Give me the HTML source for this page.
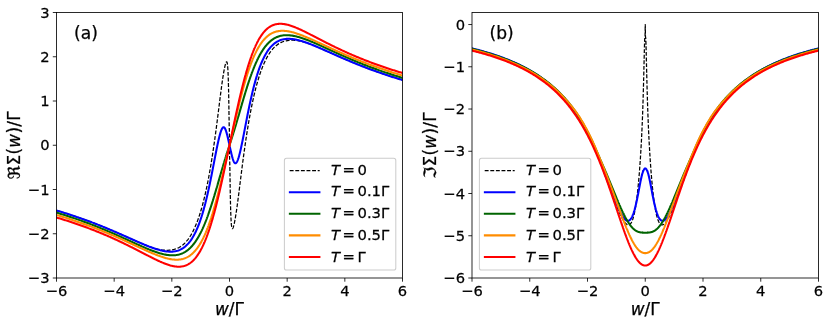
<!DOCTYPE html>
<html><head><meta charset="utf-8"><title>Self-energy</title>
<style>
html,body{margin:0;padding:0;background:#fff;}
body{width:830px;height:327px;overflow:hidden;}
svg{display:block;}
text{font-family:"DejaVu Sans","Liberation Sans",sans-serif;fill:#000;stroke:#000;stroke-width:0.25px;}
.tk{font-size:14.7px;}
.lg{font-size:14.8px;}
.lb{font-size:16.9px;}
.pn{font-size:17.1px;}
.it{font-style:italic;}
</style></head><body>
<svg width="830" height="327" viewBox="0 0 830 327">
<rect width="830" height="327" fill="#fff"/>

<clipPath id="c0"><rect x="56.5" y="12.5" width="346.0" height="265.5"/></clipPath>
<g clip-path="url(#c0)" fill="none" stroke-linejoin="round">
<path d="M56.50,210.51 L57.22,210.72 L57.94,210.93 L58.66,211.15 L59.38,211.36 L60.10,211.58 L60.83,211.80 L61.55,212.02 L62.27,212.24 L62.99,212.46 L63.71,212.68 L64.43,212.91 L65.15,213.13 L65.87,213.36 L66.59,213.59 L67.31,213.82 L68.03,214.05 L68.75,214.28 L69.48,214.51 L70.20,214.74 L70.92,214.98 L71.64,215.22 L72.36,215.45 L73.08,215.69 L73.80,215.93 L74.52,216.17 L75.24,216.42 L75.96,216.66 L76.68,216.91 L77.40,217.15 L78.12,217.40 L78.85,217.65 L79.57,217.90 L80.29,218.15 L81.01,218.41 L81.73,218.66 L82.45,218.92 L83.17,219.17 L83.89,219.43 L84.61,219.69 L85.33,219.95 L86.05,220.22 L86.77,220.48 L87.50,220.74 L88.22,221.01 L88.94,221.28 L89.66,221.55 L90.38,221.82 L91.10,222.09 L91.82,222.36 L92.54,222.63 L93.26,222.91 L93.98,223.19 L94.70,223.46 L95.42,223.74 L96.15,224.02 L96.87,224.31 L97.59,224.59 L98.31,224.87 L99.03,225.16 L99.75,225.45 L100.47,225.73 L101.19,226.02 L101.91,226.31 L102.63,226.60 L103.35,226.90 L104.08,227.19 L104.80,227.49 L105.52,227.78 L106.24,228.08 L106.96,228.38 L107.68,228.68 L108.40,228.98 L109.12,229.28 L109.84,229.59 L110.56,229.89 L111.28,230.20 L112.00,230.50 L112.72,230.81 L113.45,231.12 L114.17,231.43 L114.89,231.74 L115.61,232.05 L116.33,232.36 L117.05,232.67 L117.77,232.99 L118.49,233.30 L119.21,233.62 L119.93,233.93 L120.65,234.25 L121.38,234.57 L122.10,234.88 L122.82,235.20 L123.54,235.52 L124.26,235.84 L124.98,236.16 L125.70,236.48 L126.42,236.80 L127.14,237.12 L127.86,237.44 L128.58,237.76 L129.30,238.08 L130.02,238.40 L130.75,238.72 L131.47,239.04 L132.19,239.36 L132.91,239.68 L133.63,240.00 L134.35,240.32 L135.07,240.64 L135.79,240.96 L136.51,241.27 L137.23,241.59 L137.95,241.90 L138.68,242.22 L139.40,242.53 L140.12,242.84 L140.84,243.15 L141.56,243.46 L142.28,243.76 L143.00,244.07 L143.72,244.37 L144.44,244.67 L145.16,244.96 L145.88,245.26 L146.60,245.55 L147.32,245.83 L148.05,246.11 L148.77,246.38 L149.49,246.65 L150.21,246.91 L150.93,247.16 L151.65,247.41 L152.37,247.64 L153.09,247.88 L153.81,248.10 L154.53,248.31 L155.25,248.52 L155.98,248.71 L156.70,248.90 L157.42,249.08 L158.14,249.25 L158.86,249.40 L159.58,249.55 L160.30,249.68 L161.02,249.81 L161.74,249.92 L162.46,250.01 L163.18,250.10 L163.90,250.16 L164.62,250.22 L165.35,250.26 L166.07,250.28 L166.79,250.29 L167.51,250.28 L168.23,250.26 L168.95,250.21 L169.67,250.15 L170.39,250.07 L171.11,249.98 L171.83,249.86 L172.55,249.73 L173.27,249.57 L174.00,249.40 L174.72,249.21 L175.44,248.99 L176.16,248.75 L176.88,248.47 L177.60,248.17 L178.32,247.83 L179.04,247.46 L179.76,247.05 L180.48,246.61 L181.20,246.13 L181.93,245.61 L182.65,245.05 L183.37,244.45 L184.09,243.80 L184.81,243.10 L185.53,242.36 L186.25,241.56 L186.97,240.71 L187.69,239.81 L188.41,238.85 L189.13,237.84 L189.85,236.76 L190.58,235.61 L191.30,234.40 L192.02,233.12 L192.74,231.78 L193.46,230.35 L194.18,228.85 L194.90,227.27 L195.62,225.61 L196.34,223.86 L197.06,222.03 L197.78,220.10 L198.50,218.08 L199.23,215.96 L199.95,213.74 L200.67,211.41 L200.81,210.93 L200.95,210.45 L201.10,209.96 L201.24,209.47 L201.39,208.97 L201.53,208.47 L201.68,207.97 L201.82,207.46 L201.96,206.95 L202.11,206.43 L202.25,205.90 L202.40,205.38 L202.54,204.84 L202.69,204.31 L202.83,203.76 L202.97,203.22 L203.12,202.66 L203.26,202.11 L203.41,201.55 L203.55,200.98 L203.69,200.41 L203.84,199.83 L203.98,199.25 L204.13,198.66 L204.27,198.07 L204.41,197.47 L204.56,196.87 L204.70,196.27 L204.85,195.65 L204.99,195.04 L205.14,194.41 L205.28,193.78 L205.42,193.15 L205.57,192.51 L205.71,191.87 L205.86,191.22 L206.00,190.56 L206.14,189.90 L206.29,189.24 L206.43,188.56 L206.58,187.89 L206.72,187.20 L206.87,186.52 L207.01,185.82 L207.15,185.12 L207.30,184.41 L207.44,183.70 L207.59,182.99 L207.73,182.26 L207.88,181.53 L208.02,180.80 L208.16,180.06 L208.31,179.31 L208.45,178.55 L208.60,177.80 L208.74,177.03 L208.88,176.26 L209.03,175.48 L209.17,174.70 L209.32,173.91 L209.46,173.11 L209.61,172.31 L209.75,171.50 L209.89,170.68 L210.04,169.86 L210.18,169.03 L210.33,168.20 L210.47,167.36 L210.61,166.51 L210.76,165.66 L210.90,164.80 L211.05,163.93 L211.19,163.06 L211.34,162.18 L211.48,161.29 L211.62,160.40 L211.77,159.50 L211.91,158.59 L212.06,157.68 L212.20,156.76 L212.34,155.83 L212.49,154.90 L212.63,153.96 L212.78,153.01 L212.92,152.06 L213.06,151.10 L213.21,150.14 L213.35,149.16 L213.50,148.19 L213.64,147.20 L213.79,146.21 L213.93,145.21 L214.07,144.20 L214.22,143.19 L214.36,142.18 L214.51,141.15 L214.65,140.12 L214.80,139.09 L214.94,138.04 L215.08,136.99 L215.23,135.94 L215.37,134.88 L215.52,133.81 L215.66,132.74 L215.80,131.66 L215.95,130.58 L216.09,129.49 L216.24,128.40 L216.38,127.30 L216.52,126.19 L216.67,125.08 L216.81,123.97 L216.96,122.85 L217.10,121.73 L217.25,120.60 L217.39,119.47 L217.53,118.34 L217.68,117.20 L217.82,116.06 L217.97,114.92 L218.11,113.78 L218.25,112.63 L218.40,111.48 L218.54,110.33 L218.69,109.18 L218.83,108.02 L218.98,106.87 L219.12,105.72 L219.26,104.56 L219.41,103.41 L219.55,102.26 L219.70,101.11 L219.84,99.96 L219.98,98.82 L220.13,97.68 L220.27,96.54 L220.42,95.41 L220.56,94.28 L220.71,93.16 L220.85,92.05 L220.99,90.94 L221.14,89.84 L221.28,88.75 L221.43,87.67 L221.57,86.59 L221.72,85.53 L221.86,84.48 L222.00,83.44 L222.15,82.42 L222.29,81.41 L222.44,80.41 L222.58,79.43 L222.72,78.46 L222.87,77.51 L223.01,76.58 L223.16,75.67 L223.30,74.77 L223.44,73.90 L223.59,73.04 L223.73,72.21 L223.88,71.40 L224.02,70.61 L224.17,69.84 L224.31,69.10 L224.45,68.38 L224.60,67.69 L224.74,67.02 L224.89,66.38 L225.03,65.77 L225.17,65.20 L225.32,64.65 L225.46,64.14 L225.61,63.66 L225.75,63.22 L225.90,62.83 L226.04,62.49 L226.18,62.21 L226.33,62.00 L226.47,61.86 L226.62,61.81 L226.65,61.81 L226.67,61.82 L226.70,61.83 L226.73,61.85 L226.76,61.87 L226.79,61.90 L226.82,61.93 L226.85,61.97 L226.88,62.01 L226.91,62.06 L226.93,62.12 L226.96,62.18 L226.99,62.25 L227.02,62.33 L227.05,62.41 L227.08,62.50 L227.11,62.60 L227.14,62.71 L227.16,62.82 L227.19,62.94 L227.22,63.08 L227.25,63.22 L227.28,63.37 L227.31,63.53 L227.34,63.71 L227.37,63.89 L227.40,64.09 L227.42,64.29 L227.45,64.51 L227.48,64.74 L227.51,64.99 L227.54,65.25 L227.57,65.52 L227.60,65.81 L227.63,66.11 L227.65,66.44 L227.68,66.77 L227.71,67.13 L227.74,67.50 L227.77,67.89 L227.80,68.30 L227.83,68.73 L227.86,69.18 L227.89,69.66 L227.91,70.15 L227.94,70.67 L227.97,71.22 L228.00,71.79 L228.03,72.39 L228.06,73.01 L228.09,73.66 L228.12,74.34 L228.14,75.05 L228.17,75.80 L228.20,76.57 L228.23,77.38 L228.26,78.23 L228.29,79.11 L228.32,80.03 L228.35,80.99 L228.38,81.98 L228.40,83.02 L228.43,84.10 L228.46,85.23 L228.49,86.40 L228.52,87.61 L228.55,88.87 L228.58,90.18 L228.61,91.54 L228.63,92.94 L228.66,94.40 L228.69,95.90 L228.72,97.45 L228.75,99.04 L228.78,100.69 L228.81,102.37 L228.84,104.10 L228.87,105.86 L228.89,107.65 L228.92,109.47 L228.95,111.30 L228.98,113.14 L229.01,114.97 L229.04,116.78 L229.07,118.56 L229.10,120.27 L229.13,121.91 L229.15,123.44 L229.18,124.84 L229.21,126.10 L229.24,127.19 L229.27,128.11 L229.30,128.89 L229.33,129.59 L229.36,130.35 L229.38,131.43 L229.41,133.18 L229.44,136.03 L229.47,140.17 L229.50,145.25 L229.53,150.33 L229.56,154.47 L229.59,157.32 L229.62,159.07 L229.64,160.15 L229.67,160.91 L229.70,161.61 L229.73,162.39 L229.76,163.31 L229.79,164.40 L229.82,165.66 L229.85,167.06 L229.87,168.59 L229.90,170.23 L229.93,171.94 L229.96,173.72 L229.99,175.53 L230.02,177.36 L230.05,179.20 L230.08,181.03 L230.11,182.85 L230.13,184.64 L230.16,186.40 L230.19,188.13 L230.22,189.81 L230.25,191.46 L230.28,193.05 L230.31,194.60 L230.34,196.10 L230.37,197.56 L230.39,198.96 L230.42,200.32 L230.45,201.63 L230.48,202.89 L230.51,204.10 L230.54,205.27 L230.57,206.40 L230.60,207.48 L230.62,208.52 L230.65,209.51 L230.68,210.47 L230.71,211.39 L230.74,212.27 L230.77,213.12 L230.80,213.93 L230.83,214.70 L230.86,215.45 L230.88,216.16 L230.91,216.84 L230.94,217.49 L230.97,218.11 L231.00,218.71 L231.03,219.28 L231.06,219.83 L231.09,220.35 L231.11,220.84 L231.14,221.32 L231.17,221.77 L231.20,222.20 L231.23,222.61 L231.26,223.00 L231.29,223.37 L231.32,223.73 L231.35,224.06 L231.37,224.39 L231.40,224.69 L231.43,224.98 L231.46,225.25 L231.49,225.51 L231.52,225.76 L231.55,225.99 L231.58,226.21 L231.60,226.41 L231.63,226.61 L231.66,226.79 L231.69,226.97 L231.72,227.13 L231.75,227.28 L231.78,227.42 L231.81,227.56 L231.84,227.68 L231.86,227.79 L231.89,227.90 L231.92,228.00 L231.95,228.09 L231.98,228.17 L232.01,228.25 L232.04,228.32 L232.07,228.38 L232.09,228.44 L232.12,228.49 L232.15,228.53 L232.18,228.57 L232.21,228.60 L232.24,228.63 L232.27,228.65 L232.30,228.67 L232.33,228.68 L232.35,228.69 L232.38,228.69 L232.53,228.64 L232.67,228.50 L232.82,228.29 L232.96,228.01 L233.10,227.67 L233.25,227.28 L233.39,226.84 L233.54,226.36 L233.68,225.85 L233.83,225.30 L233.97,224.73 L234.11,224.12 L234.26,223.48 L234.40,222.81 L234.55,222.12 L234.69,221.40 L234.83,220.66 L234.98,219.89 L235.12,219.10 L235.27,218.29 L235.41,217.46 L235.55,216.60 L235.70,215.73 L235.84,214.83 L235.99,213.92 L236.13,212.99 L236.28,212.04 L236.42,211.07 L236.56,210.09 L236.71,209.09 L236.85,208.08 L237.00,207.06 L237.14,206.02 L237.28,204.97 L237.43,203.91 L237.57,202.83 L237.72,201.75 L237.86,200.66 L238.01,199.56 L238.15,198.45 L238.29,197.34 L238.44,196.22 L238.58,195.09 L238.73,193.96 L238.87,192.82 L239.01,191.68 L239.16,190.54 L239.30,189.39 L239.45,188.24 L239.59,187.09 L239.74,185.94 L239.88,184.78 L240.02,183.63 L240.17,182.48 L240.31,181.32 L240.46,180.17 L240.60,179.02 L240.75,177.87 L240.89,176.72 L241.03,175.58 L241.18,174.44 L241.32,173.30 L241.47,172.16 L241.61,171.03 L241.75,169.90 L241.90,168.77 L242.04,167.65 L242.19,166.53 L242.33,165.42 L242.47,164.31 L242.62,163.20 L242.76,162.10 L242.91,161.01 L243.05,159.92 L243.20,158.84 L243.34,157.76 L243.48,156.69 L243.63,155.62 L243.77,154.56 L243.92,153.51 L244.06,152.46 L244.20,151.41 L244.35,150.38 L244.49,149.35 L244.64,148.32 L244.78,147.31 L244.93,146.30 L245.07,145.29 L245.21,144.29 L245.36,143.30 L245.50,142.31 L245.65,141.34 L245.79,140.36 L245.94,139.40 L246.08,138.44 L246.22,137.49 L246.37,136.54 L246.51,135.60 L246.66,134.67 L246.80,133.74 L246.94,132.82 L247.09,131.91 L247.23,131.00 L247.38,130.10 L247.52,129.21 L247.66,128.32 L247.81,127.44 L247.95,126.57 L248.10,125.70 L248.24,124.84 L248.39,123.99 L248.53,123.14 L248.67,122.30 L248.82,121.47 L248.96,120.64 L249.11,119.82 L249.25,119.00 L249.40,118.19 L249.54,117.39 L249.68,116.59 L249.83,115.80 L249.97,115.02 L250.12,114.24 L250.26,113.47 L250.40,112.70 L250.55,111.95 L250.69,111.19 L250.84,110.44 L250.98,109.70 L251.12,108.97 L251.27,108.24 L251.41,107.51 L251.56,106.80 L251.70,106.09 L251.85,105.38 L251.99,104.68 L252.13,103.98 L252.28,103.30 L252.42,102.61 L252.57,101.94 L252.71,101.26 L252.85,100.60 L253.00,99.94 L253.14,99.28 L253.29,98.63 L253.43,97.99 L253.58,97.35 L253.72,96.72 L253.86,96.09 L254.01,95.46 L254.15,94.85 L254.30,94.23 L254.44,93.63 L254.59,93.03 L254.73,92.43 L254.87,91.84 L255.02,91.25 L255.16,90.67 L255.31,90.09 L255.45,89.52 L255.59,88.95 L255.74,88.39 L255.88,87.84 L256.03,87.28 L256.17,86.74 L256.31,86.19 L256.46,85.66 L256.60,85.12 L256.75,84.60 L256.89,84.07 L257.04,83.55 L257.18,83.04 L257.32,82.53 L257.47,82.03 L257.61,81.53 L257.76,81.03 L257.90,80.54 L258.05,80.05 L258.19,79.57 L258.33,79.09 L259.05,76.76 L259.77,74.54 L260.50,72.42 L261.22,70.40 L261.94,68.47 L262.66,66.64 L263.38,64.89 L264.10,63.23 L264.82,61.65 L265.54,60.15 L266.26,58.72 L266.98,57.38 L267.70,56.10 L268.42,54.89 L269.15,53.74 L269.87,52.66 L270.59,51.65 L271.31,50.69 L272.03,49.79 L272.75,48.94 L273.47,48.14 L274.19,47.40 L274.91,46.70 L275.63,46.05 L276.35,45.45 L277.08,44.89 L277.80,44.37 L278.52,43.89 L279.24,43.45 L279.96,43.04 L280.68,42.67 L281.40,42.33 L282.12,42.03 L282.84,41.75 L283.56,41.51 L284.28,41.29 L285.00,41.10 L285.73,40.93 L286.45,40.77 L287.17,40.64 L287.89,40.52 L288.61,40.43 L289.33,40.35 L290.05,40.29 L290.77,40.24 L291.49,40.22 L292.21,40.21 L292.93,40.22 L293.65,40.24 L294.38,40.28 L295.10,40.34 L295.82,40.40 L296.54,40.49 L297.26,40.58 L297.98,40.69 L298.70,40.82 L299.42,40.95 L300.14,41.10 L300.86,41.25 L301.58,41.42 L302.30,41.60 L303.02,41.79 L303.75,41.98 L304.47,42.19 L305.19,42.40 L305.91,42.62 L306.63,42.86 L307.35,43.09 L308.07,43.34 L308.79,43.59 L309.51,43.85 L310.23,44.12 L310.95,44.39 L311.67,44.67 L312.40,44.95 L313.12,45.24 L313.84,45.54 L314.56,45.83 L315.28,46.13 L316.00,46.43 L316.72,46.74 L317.44,47.04 L318.16,47.35 L318.88,47.66 L319.60,47.97 L320.33,48.28 L321.05,48.60 L321.77,48.91 L322.49,49.23 L323.21,49.54 L323.93,49.86 L324.65,50.18 L325.37,50.50 L326.09,50.82 L326.81,51.14 L327.53,51.46 L328.25,51.78 L328.97,52.10 L329.70,52.42 L330.42,52.74 L331.14,53.06 L331.86,53.38 L332.58,53.70 L333.30,54.02 L334.02,54.34 L334.74,54.66 L335.46,54.98 L336.18,55.30 L336.90,55.62 L337.62,55.93 L338.35,56.25 L339.07,56.57 L339.79,56.88 L340.51,57.20 L341.23,57.51 L341.95,57.83 L342.67,58.14 L343.39,58.45 L344.11,58.76 L344.83,59.07 L345.55,59.38 L346.28,59.69 L347.00,60.00 L347.72,60.30 L348.44,60.61 L349.16,60.91 L349.88,61.22 L350.60,61.52 L351.32,61.82 L352.04,62.12 L352.76,62.42 L353.48,62.72 L354.20,63.01 L354.92,63.31 L355.65,63.60 L356.37,63.90 L357.09,64.19 L357.81,64.48 L358.53,64.77 L359.25,65.05 L359.97,65.34 L360.69,65.63 L361.41,65.91 L362.13,66.19 L362.85,66.48 L363.58,66.76 L364.30,67.04 L365.02,67.31 L365.74,67.59 L366.46,67.87 L367.18,68.14 L367.90,68.41 L368.62,68.68 L369.34,68.95 L370.06,69.22 L370.78,69.49 L371.50,69.76 L372.22,70.02 L372.95,70.28 L373.67,70.55 L374.39,70.81 L375.11,71.07 L375.83,71.33 L376.55,71.58 L377.27,71.84 L377.99,72.09 L378.71,72.35 L379.43,72.60 L380.15,72.85 L380.88,73.10 L381.60,73.35 L382.32,73.59 L383.04,73.84 L383.76,74.08 L384.48,74.33 L385.20,74.57 L385.92,74.81 L386.64,75.05 L387.36,75.28 L388.08,75.52 L388.80,75.76 L389.53,75.99 L390.25,76.22 L390.97,76.45 L391.69,76.68 L392.41,76.91 L393.13,77.14 L393.85,77.37 L394.57,77.59 L395.29,77.82 L396.01,78.04 L396.73,78.26 L397.45,78.48 L398.17,78.70 L398.90,78.92 L399.62,79.14 L400.34,79.35 L401.06,79.57 L401.78,79.78 L402.50,79.99" stroke="#000000" stroke-width="1.25" stroke-dasharray="3.9 1.7" stroke-dashoffset="0.15"/>
<path d="M56.50,210.51 L57.22,210.72 L57.94,210.93 L58.66,211.15 L59.38,211.36 L60.10,211.58 L60.83,211.80 L61.55,212.02 L62.27,212.24 L62.99,212.46 L63.71,212.68 L64.43,212.91 L65.15,213.13 L65.87,213.36 L66.59,213.59 L67.31,213.82 L68.03,214.05 L68.75,214.28 L69.48,214.51 L70.20,214.74 L70.92,214.98 L71.64,215.22 L72.36,215.45 L73.08,215.69 L73.80,215.93 L74.52,216.17 L75.24,216.42 L75.96,216.66 L76.68,216.91 L77.40,217.15 L78.12,217.40 L78.85,217.65 L79.57,217.90 L80.29,218.15 L81.01,218.41 L81.73,218.66 L82.45,218.92 L83.17,219.17 L83.89,219.43 L84.61,219.69 L85.33,219.95 L86.05,220.22 L86.77,220.48 L87.50,220.74 L88.22,221.01 L88.94,221.28 L89.66,221.55 L90.38,221.82 L91.10,222.09 L91.82,222.36 L92.54,222.63 L93.26,222.91 L93.98,223.19 L94.70,223.46 L95.42,223.74 L96.15,224.02 L96.87,224.31 L97.59,224.59 L98.31,224.87 L99.03,225.16 L99.75,225.45 L100.47,225.73 L101.19,226.02 L101.91,226.31 L102.63,226.60 L103.35,226.90 L104.08,227.19 L104.80,227.49 L105.52,227.78 L106.24,228.08 L106.96,228.38 L107.68,228.68 L108.40,228.98 L109.12,229.28 L109.84,229.59 L110.56,229.89 L111.28,230.20 L112.00,230.50 L112.72,230.81 L113.45,231.12 L114.17,231.43 L114.89,231.74 L115.61,232.05 L116.33,232.36 L117.05,232.67 L117.77,232.99 L118.49,233.30 L119.21,233.62 L119.93,233.93 L120.65,234.25 L121.38,234.57 L122.10,234.88 L122.82,235.20 L123.54,235.52 L124.26,235.84 L124.98,236.16 L125.70,236.48 L126.42,236.80 L127.14,237.12 L127.86,237.44 L128.58,237.76 L129.30,238.08 L130.02,238.40 L130.75,238.72 L131.47,239.04 L132.19,239.36 L132.91,239.68 L133.63,240.00 L134.35,240.32 L135.07,240.64 L135.79,240.96 L136.51,241.27 L137.23,241.59 L137.95,241.90 L138.68,242.22 L139.40,242.53 L140.12,242.84 L140.84,243.15 L141.56,243.46 L142.28,243.76 L143.00,244.07 L143.72,244.37 L144.44,244.67 L145.16,244.96 L145.88,245.26 L146.60,245.55 L147.32,245.84 L148.05,246.12 L148.77,246.41 L149.49,246.68 L150.21,246.96 L150.93,247.23 L151.65,247.49 L152.37,247.75 L153.09,248.01 L153.81,248.26 L154.53,248.50 L155.25,248.74 L155.98,248.98 L156.70,249.20 L157.42,249.42 L158.14,249.63 L158.86,249.84 L159.58,250.04 L160.30,250.22 L161.02,250.40 L161.74,250.57 L162.46,250.73 L163.18,250.88 L163.90,251.02 L164.62,251.15 L165.35,251.26 L166.07,251.37 L166.79,251.45 L167.51,251.53 L168.23,251.59 L168.95,251.64 L169.67,251.66 L170.39,251.68 L171.11,251.67 L171.83,251.65 L172.55,251.60 L173.27,251.54 L174.00,251.46 L174.72,251.35 L175.44,251.22 L176.16,251.06 L176.88,250.88 L177.60,250.67 L178.32,250.44 L179.04,250.17 L179.76,249.87 L180.48,249.54 L181.20,249.18 L181.93,248.78 L182.65,248.35 L183.37,247.88 L184.09,247.36 L184.81,246.81 L185.53,246.21 L186.25,245.56 L186.97,244.86 L187.69,244.12 L188.41,243.32 L189.13,242.47 L189.85,241.56 L190.58,240.59 L191.30,239.56 L192.02,238.47 L192.74,237.30 L193.46,236.07 L194.18,234.76 L194.90,233.38 L195.62,231.92 L196.34,230.38 L197.06,228.76 L197.78,227.05 L198.50,225.25 L199.23,223.35 L199.95,221.36 L200.67,219.28 L200.81,218.85 L200.95,218.41 L201.10,217.97 L201.24,217.53 L201.39,217.09 L201.53,216.64 L201.68,216.18 L201.82,215.73 L201.96,215.26 L202.11,214.80 L202.25,214.33 L202.40,213.85 L202.54,213.37 L202.69,212.89 L202.83,212.40 L202.97,211.91 L203.12,211.41 L203.26,210.91 L203.41,210.41 L203.55,209.90 L203.69,209.39 L203.84,208.87 L203.98,208.35 L204.13,207.82 L204.27,207.29 L204.41,206.76 L204.56,206.22 L204.70,205.67 L204.85,205.12 L204.99,204.57 L205.14,204.02 L205.28,203.45 L205.42,202.89 L205.57,202.32 L205.71,201.75 L205.86,201.17 L206.00,200.58 L206.14,200.00 L206.29,199.41 L206.43,198.81 L206.58,198.21 L206.72,197.61 L206.87,197.00 L207.01,196.39 L207.15,195.77 L207.30,195.15 L207.44,194.52 L207.59,193.89 L207.73,193.26 L207.88,192.62 L208.02,191.98 L208.16,191.33 L208.31,190.68 L208.45,190.03 L208.60,189.37 L208.74,188.71 L208.88,188.05 L209.03,187.38 L209.17,186.70 L209.32,186.03 L209.46,185.35 L209.61,184.66 L209.75,183.98 L209.89,183.29 L210.04,182.59 L210.18,181.89 L210.33,181.19 L210.47,180.49 L210.61,179.78 L210.76,179.07 L210.90,178.36 L211.05,177.64 L211.19,176.92 L211.34,176.20 L211.48,175.48 L211.62,174.75 L211.77,174.02 L211.91,173.29 L212.06,172.56 L212.20,171.82 L212.34,171.08 L212.49,170.34 L212.63,169.60 L212.78,168.86 L212.92,168.12 L213.06,167.37 L213.21,166.62 L213.35,165.88 L213.50,165.13 L213.64,164.38 L213.79,163.63 L213.93,162.88 L214.07,162.13 L214.22,161.38 L214.36,160.63 L214.51,159.88 L214.65,159.13 L214.80,158.39 L214.94,157.64 L215.08,156.89 L215.23,156.15 L215.37,155.41 L215.52,154.67 L215.66,153.93 L215.80,153.19 L215.95,152.46 L216.09,151.73 L216.24,151.00 L216.38,150.28 L216.52,149.56 L216.67,148.85 L216.81,148.14 L216.96,147.43 L217.10,146.73 L217.25,146.04 L217.39,145.35 L217.53,144.66 L217.68,143.99 L217.82,143.31 L217.97,142.65 L218.11,142.00 L218.25,141.35 L218.40,140.71 L218.54,140.08 L218.69,139.46 L218.83,138.85 L218.98,138.24 L219.12,137.65 L219.26,137.07 L219.41,136.50 L219.55,135.95 L219.70,135.40 L219.84,134.87 L219.98,134.35 L220.13,133.85 L220.27,133.36 L220.42,132.88 L220.56,132.42 L220.71,131.97 L220.85,131.55 L220.99,131.13 L221.14,130.74 L221.28,130.36 L221.43,130.01 L221.57,129.67 L221.72,129.35 L221.86,129.05 L222.00,128.77 L222.15,128.52 L222.29,128.28 L222.44,128.07 L222.58,127.88 L222.72,127.72 L222.87,127.58 L223.01,127.46 L223.16,127.37 L223.30,127.30 L223.44,127.26 L223.59,127.24 L223.73,127.25 L223.88,127.29 L224.02,127.36 L224.17,127.45 L224.31,127.57 L224.45,127.71 L224.60,127.88 L224.74,128.08 L224.89,128.31 L225.03,128.56 L225.17,128.84 L225.32,129.15 L225.46,129.48 L225.61,129.83 L225.75,130.21 L225.90,130.62 L226.04,131.04 L226.18,131.49 L226.33,131.95 L226.47,132.44 L226.62,132.94 L226.65,133.04 L226.67,133.14 L226.70,133.25 L226.73,133.35 L226.76,133.46 L226.79,133.56 L226.82,133.67 L226.85,133.78 L226.88,133.88 L226.91,133.99 L226.93,134.10 L226.96,134.21 L226.99,134.32 L227.02,134.43 L227.05,134.54 L227.08,134.65 L227.11,134.76 L227.14,134.87 L227.16,134.99 L227.19,135.10 L227.22,135.21 L227.25,135.33 L227.28,135.44 L227.31,135.56 L227.34,135.67 L227.37,135.79 L227.40,135.90 L227.42,136.02 L227.45,136.14 L227.48,136.25 L227.51,136.37 L227.54,136.49 L227.57,136.61 L227.60,136.73 L227.63,136.85 L227.65,136.97 L227.68,137.09 L227.71,137.21 L227.74,137.33 L227.77,137.45 L227.80,137.57 L227.83,137.69 L227.86,137.81 L227.89,137.94 L227.91,138.06 L227.94,138.18 L227.97,138.30 L228.00,138.43 L228.03,138.55 L228.06,138.68 L228.09,138.80 L228.12,138.93 L228.14,139.05 L228.17,139.18 L228.20,139.30 L228.23,139.43 L228.26,139.56 L228.29,139.68 L228.32,139.81 L228.35,139.94 L228.38,140.06 L228.40,140.19 L228.43,140.32 L228.46,140.45 L228.49,140.58 L228.52,140.71 L228.55,140.84 L228.58,140.97 L228.61,141.10 L228.63,141.23 L228.66,141.36 L228.69,141.49 L228.72,141.62 L228.75,141.75 L228.78,141.89 L228.81,142.02 L228.84,142.15 L228.87,142.28 L228.89,142.42 L228.92,142.55 L228.95,142.68 L228.98,142.82 L229.01,142.95 L229.04,143.08 L229.07,143.22 L229.10,143.35 L229.13,143.49 L229.15,143.62 L229.18,143.76 L229.21,143.89 L229.24,144.03 L229.27,144.16 L229.30,144.30 L229.33,144.43 L229.36,144.57 L229.38,144.71 L229.41,144.84 L229.44,144.98 L229.47,145.11 L229.50,145.25 L229.53,145.39 L229.56,145.52 L229.59,145.66 L229.62,145.79 L229.64,145.93 L229.67,146.07 L229.70,146.20 L229.73,146.34 L229.76,146.47 L229.79,146.61 L229.82,146.74 L229.85,146.88 L229.87,147.01 L229.90,147.15 L229.93,147.28 L229.96,147.42 L229.99,147.55 L230.02,147.68 L230.05,147.82 L230.08,147.95 L230.11,148.08 L230.13,148.22 L230.16,148.35 L230.19,148.48 L230.22,148.61 L230.25,148.75 L230.28,148.88 L230.31,149.01 L230.34,149.14 L230.37,149.27 L230.39,149.40 L230.42,149.53 L230.45,149.66 L230.48,149.79 L230.51,149.92 L230.54,150.05 L230.57,150.18 L230.60,150.31 L230.62,150.44 L230.65,150.56 L230.68,150.69 L230.71,150.82 L230.74,150.94 L230.77,151.07 L230.80,151.20 L230.83,151.32 L230.86,151.45 L230.88,151.57 L230.91,151.70 L230.94,151.82 L230.97,151.95 L231.00,152.07 L231.03,152.20 L231.06,152.32 L231.09,152.44 L231.11,152.56 L231.14,152.69 L231.17,152.81 L231.20,152.93 L231.23,153.05 L231.26,153.17 L231.29,153.29 L231.32,153.41 L231.35,153.53 L231.37,153.65 L231.40,153.77 L231.43,153.89 L231.46,154.01 L231.49,154.13 L231.52,154.25 L231.55,154.36 L231.58,154.48 L231.60,154.60 L231.63,154.71 L231.66,154.83 L231.69,154.94 L231.72,155.06 L231.75,155.17 L231.78,155.29 L231.81,155.40 L231.84,155.51 L231.86,155.63 L231.89,155.74 L231.92,155.85 L231.95,155.96 L231.98,156.07 L232.01,156.18 L232.04,156.29 L232.07,156.40 L232.09,156.51 L232.12,156.62 L232.15,156.72 L232.18,156.83 L232.21,156.94 L232.24,157.04 L232.27,157.15 L232.30,157.25 L232.33,157.36 L232.35,157.46 L232.38,157.56 L232.53,158.06 L232.67,158.55 L232.82,159.01 L232.96,159.46 L233.10,159.88 L233.25,160.29 L233.39,160.67 L233.54,161.02 L233.68,161.35 L233.83,161.66 L233.97,161.94 L234.11,162.19 L234.26,162.42 L234.40,162.62 L234.55,162.79 L234.69,162.93 L234.83,163.05 L234.98,163.14 L235.12,163.21 L235.27,163.25 L235.41,163.26 L235.55,163.24 L235.70,163.20 L235.84,163.13 L235.99,163.04 L236.13,162.92 L236.28,162.78 L236.42,162.62 L236.56,162.43 L236.71,162.22 L236.85,161.98 L237.00,161.73 L237.14,161.45 L237.28,161.15 L237.43,160.83 L237.57,160.49 L237.72,160.14 L237.86,159.76 L238.01,159.37 L238.15,158.95 L238.29,158.53 L238.44,158.08 L238.58,157.62 L238.73,157.14 L238.87,156.65 L239.01,156.15 L239.16,155.63 L239.30,155.10 L239.45,154.55 L239.59,154.00 L239.74,153.43 L239.88,152.85 L240.02,152.26 L240.17,151.65 L240.31,151.04 L240.46,150.42 L240.60,149.79 L240.75,149.15 L240.89,148.50 L241.03,147.85 L241.18,147.19 L241.32,146.51 L241.47,145.84 L241.61,145.15 L241.75,144.46 L241.90,143.77 L242.04,143.07 L242.19,142.36 L242.33,141.65 L242.47,140.94 L242.62,140.22 L242.76,139.50 L242.91,138.77 L243.05,138.04 L243.20,137.31 L243.34,136.57 L243.48,135.83 L243.63,135.09 L243.77,134.35 L243.92,133.61 L244.06,132.86 L244.20,132.11 L244.35,131.37 L244.49,130.62 L244.64,129.87 L244.78,129.12 L244.93,128.37 L245.07,127.62 L245.21,126.87 L245.36,126.12 L245.50,125.37 L245.65,124.62 L245.79,123.88 L245.94,123.13 L246.08,122.38 L246.22,121.64 L246.37,120.90 L246.51,120.16 L246.66,119.42 L246.80,118.68 L246.94,117.94 L247.09,117.21 L247.23,116.48 L247.38,115.75 L247.52,115.02 L247.66,114.30 L247.81,113.58 L247.95,112.86 L248.10,112.14 L248.24,111.43 L248.39,110.72 L248.53,110.01 L248.67,109.31 L248.82,108.61 L248.96,107.91 L249.11,107.21 L249.25,106.52 L249.40,105.84 L249.54,105.15 L249.68,104.47 L249.83,103.80 L249.97,103.12 L250.12,102.45 L250.26,101.79 L250.40,101.13 L250.55,100.47 L250.69,99.82 L250.84,99.17 L250.98,98.52 L251.12,97.88 L251.27,97.24 L251.41,96.61 L251.56,95.98 L251.70,95.35 L251.85,94.73 L251.99,94.11 L252.13,93.50 L252.28,92.89 L252.42,92.29 L252.57,91.69 L252.71,91.09 L252.85,90.50 L253.00,89.92 L253.14,89.33 L253.29,88.75 L253.43,88.18 L253.58,87.61 L253.72,87.05 L253.86,86.48 L254.01,85.93 L254.15,85.38 L254.30,84.83 L254.44,84.28 L254.59,83.74 L254.73,83.21 L254.87,82.68 L255.02,82.15 L255.16,81.63 L255.31,81.11 L255.45,80.60 L255.59,80.09 L255.74,79.59 L255.88,79.09 L256.03,78.59 L256.17,78.10 L256.31,77.61 L256.46,77.13 L256.60,76.65 L256.75,76.17 L256.89,75.70 L257.04,75.24 L257.18,74.77 L257.32,74.32 L257.47,73.86 L257.61,73.41 L257.76,72.97 L257.90,72.53 L258.05,72.09 L258.19,71.65 L258.33,71.22 L259.05,69.14 L259.77,67.15 L260.50,65.25 L261.22,63.45 L261.94,61.74 L262.66,60.12 L263.38,58.58 L264.10,57.12 L264.82,55.74 L265.54,54.43 L266.26,53.20 L266.98,52.03 L267.70,50.94 L268.42,49.91 L269.15,48.94 L269.87,48.03 L270.59,47.18 L271.31,46.38 L272.03,45.64 L272.75,44.94 L273.47,44.29 L274.19,43.69 L274.91,43.14 L275.63,42.62 L276.35,42.15 L277.08,41.72 L277.80,41.32 L278.52,40.96 L279.24,40.63 L279.96,40.33 L280.68,40.06 L281.40,39.83 L282.12,39.62 L282.84,39.44 L283.56,39.28 L284.28,39.15 L285.00,39.04 L285.73,38.96 L286.45,38.90 L287.17,38.85 L287.89,38.83 L288.61,38.82 L289.33,38.84 L290.05,38.86 L290.77,38.91 L291.49,38.97 L292.21,39.05 L292.93,39.13 L293.65,39.24 L294.38,39.35 L295.10,39.48 L295.82,39.62 L296.54,39.77 L297.26,39.93 L297.98,40.10 L298.70,40.28 L299.42,40.46 L300.14,40.66 L300.86,40.87 L301.58,41.08 L302.30,41.30 L303.02,41.52 L303.75,41.76 L304.47,42.00 L305.19,42.24 L305.91,42.49 L306.63,42.75 L307.35,43.01 L308.07,43.27 L308.79,43.54 L309.51,43.82 L310.23,44.09 L310.95,44.38 L311.67,44.66 L312.40,44.95 L313.12,45.24 L313.84,45.54 L314.56,45.83 L315.28,46.13 L316.00,46.43 L316.72,46.74 L317.44,47.04 L318.16,47.35 L318.88,47.66 L319.60,47.97 L320.33,48.28 L321.05,48.60 L321.77,48.91 L322.49,49.23 L323.21,49.54 L323.93,49.86 L324.65,50.18 L325.37,50.50 L326.09,50.82 L326.81,51.14 L327.53,51.46 L328.25,51.78 L328.97,52.10 L329.70,52.42 L330.42,52.74 L331.14,53.06 L331.86,53.38 L332.58,53.70 L333.30,54.02 L334.02,54.34 L334.74,54.66 L335.46,54.98 L336.18,55.30 L336.90,55.62 L337.62,55.93 L338.35,56.25 L339.07,56.57 L339.79,56.88 L340.51,57.20 L341.23,57.51 L341.95,57.83 L342.67,58.14 L343.39,58.45 L344.11,58.76 L344.83,59.07 L345.55,59.38 L346.28,59.69 L347.00,60.00 L347.72,60.30 L348.44,60.61 L349.16,60.91 L349.88,61.22 L350.60,61.52 L351.32,61.82 L352.04,62.12 L352.76,62.42 L353.48,62.72 L354.20,63.01 L354.92,63.31 L355.65,63.60 L356.37,63.90 L357.09,64.19 L357.81,64.48 L358.53,64.77 L359.25,65.05 L359.97,65.34 L360.69,65.63 L361.41,65.91 L362.13,66.19 L362.85,66.48 L363.58,66.76 L364.30,67.04 L365.02,67.31 L365.74,67.59 L366.46,67.87 L367.18,68.14 L367.90,68.41 L368.62,68.68 L369.34,68.95 L370.06,69.22 L370.78,69.49 L371.50,69.76 L372.22,70.02 L372.95,70.28 L373.67,70.55 L374.39,70.81 L375.11,71.07 L375.83,71.33 L376.55,71.58 L377.27,71.84 L377.99,72.09 L378.71,72.35 L379.43,72.60 L380.15,72.85 L380.88,73.10 L381.60,73.35 L382.32,73.59 L383.04,73.84 L383.76,74.08 L384.48,74.33 L385.20,74.57 L385.92,74.81 L386.64,75.05 L387.36,75.28 L388.08,75.52 L388.80,75.76 L389.53,75.99 L390.25,76.22 L390.97,76.45 L391.69,76.68 L392.41,76.91 L393.13,77.14 L393.85,77.37 L394.57,77.59 L395.29,77.82 L396.01,78.04 L396.73,78.26 L397.45,78.48 L398.17,78.70 L398.90,78.92 L399.62,79.14 L400.34,79.35 L401.06,79.57 L401.78,79.78 L402.50,79.99" stroke="#0000ff" stroke-width="2.07" stroke-linecap="square"/>
<path d="M56.50,212.65 L57.22,212.86 L57.94,213.08 L58.66,213.30 L59.38,213.51 L60.10,213.73 L60.83,213.95 L61.55,214.18 L62.27,214.40 L62.99,214.62 L63.71,214.85 L64.43,215.08 L65.15,215.30 L65.87,215.53 L66.59,215.76 L67.31,215.99 L68.03,216.23 L68.75,216.46 L69.48,216.70 L70.20,216.93 L70.92,217.17 L71.64,217.41 L72.36,217.65 L73.08,217.89 L73.80,218.14 L74.52,218.38 L75.24,218.63 L75.96,218.88 L76.68,219.12 L77.40,219.37 L78.12,219.62 L78.85,219.88 L79.57,220.13 L80.29,220.39 L81.01,220.64 L81.73,220.90 L82.45,221.16 L83.17,221.42 L83.89,221.68 L84.61,221.95 L85.33,222.21 L86.05,222.48 L86.77,222.74 L87.50,223.01 L88.22,223.28 L88.94,223.56 L89.66,223.83 L90.38,224.10 L91.10,224.38 L91.82,224.66 L92.54,224.93 L93.26,225.21 L93.98,225.50 L94.70,225.78 L95.42,226.06 L96.15,226.35 L96.87,226.63 L97.59,226.92 L98.31,227.21 L99.03,227.50 L99.75,227.79 L100.47,228.09 L101.19,228.38 L101.91,228.68 L102.63,228.97 L103.35,229.27 L104.08,229.57 L104.80,229.87 L105.52,230.18 L106.24,230.48 L106.96,230.79 L107.68,231.09 L108.40,231.40 L109.12,231.71 L109.84,232.02 L110.56,232.33 L111.28,232.64 L112.00,232.95 L112.72,233.27 L113.45,233.58 L114.17,233.90 L114.89,234.22 L115.61,234.53 L116.33,234.85 L117.05,235.17 L117.77,235.49 L118.49,235.82 L119.21,236.14 L119.93,236.46 L120.65,236.79 L121.38,237.11 L122.10,237.44 L122.82,237.76 L123.54,238.09 L124.26,238.42 L124.98,238.75 L125.70,239.07 L126.42,239.40 L127.14,239.73 L127.86,240.06 L128.58,240.39 L129.30,240.72 L130.02,241.05 L130.75,241.38 L131.47,241.71 L132.19,242.04 L132.91,242.37 L133.63,242.70 L134.35,243.03 L135.07,243.36 L135.79,243.68 L136.51,244.01 L137.23,244.34 L137.95,244.66 L138.68,244.99 L139.40,245.31 L140.12,245.63 L140.84,245.95 L141.56,246.27 L142.28,246.59 L143.00,246.90 L143.72,247.22 L144.44,247.53 L145.16,247.84 L145.88,248.14 L146.60,248.45 L147.32,248.75 L148.05,249.05 L148.77,249.34 L149.49,249.63 L150.21,249.92 L150.93,250.20 L151.65,250.48 L152.37,250.76 L153.09,251.03 L153.81,251.29 L154.53,251.55 L155.25,251.81 L155.98,252.06 L156.70,252.30 L157.42,252.54 L158.14,252.77 L158.86,252.99 L159.58,253.21 L160.30,253.42 L161.02,253.62 L161.74,253.81 L162.46,253.99 L163.18,254.16 L163.90,254.33 L164.62,254.48 L165.35,254.62 L166.07,254.75 L166.79,254.87 L167.51,254.98 L168.23,255.07 L168.95,255.15 L169.67,255.22 L170.39,255.27 L171.11,255.31 L171.83,255.33 L172.55,255.33 L173.27,255.32 L174.00,255.28 L174.72,255.23 L175.44,255.16 L176.16,255.07 L176.88,254.96 L177.60,254.83 L178.32,254.67 L179.04,254.49 L179.76,254.28 L180.48,254.05 L181.20,253.79 L181.93,253.50 L182.65,253.19 L183.37,252.84 L184.09,252.47 L184.81,252.06 L185.53,251.62 L186.25,251.15 L186.97,250.64 L187.69,250.09 L188.41,249.50 L189.13,248.88 L189.85,248.22 L190.58,247.51 L191.30,246.77 L192.02,245.98 L192.74,245.14 L193.46,244.26 L194.18,243.33 L194.90,242.36 L195.62,241.33 L196.34,240.25 L197.06,239.12 L197.78,237.94 L198.50,236.71 L199.23,235.42 L199.95,234.08 L200.67,232.68 L200.81,232.39 L200.95,232.10 L201.10,231.81 L201.24,231.52 L201.39,231.22 L201.53,230.92 L201.68,230.62 L201.82,230.32 L201.96,230.01 L202.11,229.71 L202.25,229.40 L202.40,229.09 L202.54,228.77 L202.69,228.46 L202.83,228.14 L202.97,227.82 L203.12,227.49 L203.26,227.17 L203.41,226.84 L203.55,226.51 L203.69,226.18 L203.84,225.84 L203.98,225.50 L204.13,225.16 L204.27,224.82 L204.41,224.48 L204.56,224.13 L204.70,223.78 L204.85,223.43 L204.99,223.08 L205.14,222.72 L205.28,222.36 L205.42,222.00 L205.57,221.64 L205.71,221.28 L205.86,220.91 L206.00,220.54 L206.14,220.17 L206.29,219.80 L206.43,219.42 L206.58,219.04 L206.72,218.66 L206.87,218.28 L207.01,217.89 L207.15,217.51 L207.30,217.12 L207.44,216.72 L207.59,216.33 L207.73,215.94 L207.88,215.54 L208.02,215.14 L208.16,214.73 L208.31,214.33 L208.45,213.92 L208.60,213.51 L208.74,213.10 L208.88,212.69 L209.03,212.27 L209.17,211.86 L209.32,211.44 L209.46,211.02 L209.61,210.59 L209.75,210.17 L209.89,209.74 L210.04,209.31 L210.18,208.88 L210.33,208.45 L210.47,208.01 L210.61,207.58 L210.76,207.14 L210.90,206.70 L211.05,206.25 L211.19,205.81 L211.34,205.36 L211.48,204.91 L211.62,204.46 L211.77,204.01 L211.91,203.56 L212.06,203.10 L212.20,202.65 L212.34,202.19 L212.49,201.73 L212.63,201.27 L212.78,200.81 L212.92,200.34 L213.06,199.88 L213.21,199.41 L213.35,198.94 L213.50,198.47 L213.64,198.00 L213.79,197.52 L213.93,197.05 L214.07,196.57 L214.22,196.10 L214.36,195.62 L214.51,195.14 L214.65,194.66 L214.80,194.18 L214.94,193.69 L215.08,193.21 L215.23,192.72 L215.37,192.24 L215.52,191.75 L215.66,191.26 L215.80,190.78 L215.95,190.29 L216.09,189.80 L216.24,189.30 L216.38,188.81 L216.52,188.32 L216.67,187.83 L216.81,187.33 L216.96,186.84 L217.10,186.34 L217.25,185.85 L217.39,185.35 L217.53,184.85 L217.68,184.36 L217.82,183.86 L217.97,183.36 L218.11,182.86 L218.25,182.37 L218.40,181.87 L218.54,181.37 L218.69,180.87 L218.83,180.37 L218.98,179.87 L219.12,179.38 L219.26,178.88 L219.41,178.38 L219.55,177.88 L219.70,177.38 L219.84,176.88 L219.98,176.39 L220.13,175.89 L220.27,175.39 L220.42,174.90 L220.56,174.40 L220.71,173.90 L220.85,173.41 L220.99,172.91 L221.14,172.42 L221.28,171.93 L221.43,171.43 L221.57,170.94 L221.72,170.45 L221.86,169.96 L222.00,169.47 L222.15,168.98 L222.29,168.49 L222.44,168.00 L222.58,167.52 L222.72,167.03 L222.87,166.55 L223.01,166.06 L223.16,165.58 L223.30,165.10 L223.44,164.62 L223.59,164.14 L223.73,163.66 L223.88,163.18 L224.02,162.70 L224.17,162.23 L224.31,161.75 L224.45,161.28 L224.60,160.80 L224.74,160.33 L224.89,159.86 L225.03,159.39 L225.17,158.92 L225.32,158.46 L225.46,157.99 L225.61,157.52 L225.75,157.06 L225.90,156.60 L226.04,156.13 L226.18,155.67 L226.33,155.21 L226.47,154.75 L226.62,154.29 L226.65,154.20 L226.67,154.11 L226.70,154.02 L226.73,153.93 L226.76,153.83 L226.79,153.74 L226.82,153.65 L226.85,153.56 L226.88,153.47 L226.91,153.38 L226.93,153.29 L226.96,153.20 L226.99,153.10 L227.02,153.01 L227.05,152.92 L227.08,152.83 L227.11,152.74 L227.14,152.65 L227.16,152.56 L227.19,152.47 L227.22,152.38 L227.25,152.28 L227.28,152.19 L227.31,152.10 L227.34,152.01 L227.37,151.92 L227.40,151.83 L227.42,151.74 L227.45,151.65 L227.48,151.56 L227.51,151.47 L227.54,151.38 L227.57,151.29 L227.60,151.19 L227.63,151.10 L227.65,151.01 L227.68,150.92 L227.71,150.83 L227.74,150.74 L227.77,150.65 L227.80,150.56 L227.83,150.47 L227.86,150.38 L227.89,150.29 L227.91,150.20 L227.94,150.11 L227.97,150.02 L228.00,149.93 L228.03,149.84 L228.06,149.75 L228.09,149.66 L228.12,149.57 L228.14,149.48 L228.17,149.39 L228.20,149.30 L228.23,149.21 L228.26,149.12 L228.29,149.03 L228.32,148.94 L228.35,148.85 L228.38,148.76 L228.40,148.67 L228.43,148.58 L228.46,148.49 L228.49,148.40 L228.52,148.31 L228.55,148.22 L228.58,148.13 L228.61,148.04 L228.63,147.95 L228.66,147.86 L228.69,147.77 L228.72,147.68 L228.75,147.59 L228.78,147.50 L228.81,147.41 L228.84,147.32 L228.87,147.23 L228.89,147.14 L228.92,147.05 L228.95,146.96 L228.98,146.87 L229.01,146.78 L229.04,146.69 L229.07,146.60 L229.10,146.51 L229.13,146.42 L229.15,146.33 L229.18,146.24 L229.21,146.15 L229.24,146.06 L229.27,145.97 L229.30,145.88 L229.33,145.79 L229.36,145.70 L229.38,145.61 L229.41,145.52 L229.44,145.43 L229.47,145.34 L229.50,145.25 L229.53,145.16 L229.56,145.07 L229.59,144.98 L229.62,144.89 L229.64,144.80 L229.67,144.71 L229.70,144.62 L229.73,144.53 L229.76,144.44 L229.79,144.35 L229.82,144.26 L229.85,144.17 L229.87,144.08 L229.90,143.99 L229.93,143.90 L229.96,143.81 L229.99,143.72 L230.02,143.63 L230.05,143.54 L230.08,143.45 L230.11,143.36 L230.13,143.27 L230.16,143.18 L230.19,143.09 L230.22,143.00 L230.25,142.91 L230.28,142.82 L230.31,142.73 L230.34,142.64 L230.37,142.55 L230.39,142.46 L230.42,142.37 L230.45,142.28 L230.48,142.19 L230.51,142.10 L230.54,142.01 L230.57,141.92 L230.60,141.83 L230.62,141.74 L230.65,141.65 L230.68,141.56 L230.71,141.47 L230.74,141.38 L230.77,141.29 L230.80,141.20 L230.83,141.11 L230.86,141.02 L230.88,140.93 L230.91,140.84 L230.94,140.75 L230.97,140.66 L231.00,140.57 L231.03,140.48 L231.06,140.39 L231.09,140.30 L231.11,140.21 L231.14,140.12 L231.17,140.03 L231.20,139.94 L231.23,139.85 L231.26,139.76 L231.29,139.67 L231.32,139.58 L231.35,139.49 L231.37,139.40 L231.40,139.31 L231.43,139.21 L231.46,139.12 L231.49,139.03 L231.52,138.94 L231.55,138.85 L231.58,138.76 L231.60,138.67 L231.63,138.58 L231.66,138.49 L231.69,138.40 L231.72,138.31 L231.75,138.22 L231.78,138.12 L231.81,138.03 L231.84,137.94 L231.86,137.85 L231.89,137.76 L231.92,137.67 L231.95,137.58 L231.98,137.49 L232.01,137.40 L232.04,137.30 L232.07,137.21 L232.09,137.12 L232.12,137.03 L232.15,136.94 L232.18,136.85 L232.21,136.76 L232.24,136.67 L232.27,136.57 L232.30,136.48 L232.33,136.39 L232.35,136.30 L232.38,136.21 L232.53,135.75 L232.67,135.29 L232.82,134.83 L232.96,134.37 L233.10,133.90 L233.25,133.44 L233.39,132.98 L233.54,132.51 L233.68,132.04 L233.83,131.58 L233.97,131.11 L234.11,130.64 L234.26,130.17 L234.40,129.70 L234.55,129.22 L234.69,128.75 L234.83,128.27 L234.98,127.80 L235.12,127.32 L235.27,126.84 L235.41,126.36 L235.55,125.88 L235.70,125.40 L235.84,124.92 L235.99,124.44 L236.13,123.95 L236.28,123.47 L236.42,122.98 L236.56,122.50 L236.71,122.01 L236.85,121.52 L237.00,121.03 L237.14,120.54 L237.28,120.05 L237.43,119.56 L237.57,119.07 L237.72,118.57 L237.86,118.08 L238.01,117.59 L238.15,117.09 L238.29,116.60 L238.44,116.10 L238.58,115.60 L238.73,115.11 L238.87,114.61 L239.01,114.11 L239.16,113.62 L239.30,113.12 L239.45,112.62 L239.59,112.12 L239.74,111.62 L239.88,111.12 L240.02,110.63 L240.17,110.13 L240.31,109.63 L240.46,109.13 L240.60,108.63 L240.75,108.13 L240.89,107.64 L241.03,107.14 L241.18,106.64 L241.32,106.14 L241.47,105.65 L241.61,105.15 L241.75,104.65 L241.90,104.16 L242.04,103.66 L242.19,103.17 L242.33,102.67 L242.47,102.18 L242.62,101.69 L242.76,101.20 L242.91,100.70 L243.05,100.21 L243.20,99.72 L243.34,99.24 L243.48,98.75 L243.63,98.26 L243.77,97.78 L243.92,97.29 L244.06,96.81 L244.20,96.32 L244.35,95.84 L244.49,95.36 L244.64,94.88 L244.78,94.40 L244.93,93.93 L245.07,93.45 L245.21,92.98 L245.36,92.50 L245.50,92.03 L245.65,91.56 L245.79,91.09 L245.94,90.62 L246.08,90.16 L246.22,89.69 L246.37,89.23 L246.51,88.77 L246.66,88.31 L246.80,87.85 L246.94,87.40 L247.09,86.94 L247.23,86.49 L247.38,86.04 L247.52,85.59 L247.66,85.14 L247.81,84.69 L247.95,84.25 L248.10,83.80 L248.24,83.36 L248.39,82.92 L248.53,82.49 L248.67,82.05 L248.82,81.62 L248.96,81.19 L249.11,80.76 L249.25,80.33 L249.40,79.91 L249.54,79.48 L249.68,79.06 L249.83,78.64 L249.97,78.23 L250.12,77.81 L250.26,77.40 L250.40,76.99 L250.55,76.58 L250.69,76.17 L250.84,75.77 L250.98,75.36 L251.12,74.96 L251.27,74.56 L251.41,74.17 L251.56,73.78 L251.70,73.38 L251.85,72.99 L251.99,72.61 L252.13,72.22 L252.28,71.84 L252.42,71.46 L252.57,71.08 L252.71,70.70 L252.85,70.33 L253.00,69.96 L253.14,69.59 L253.29,69.22 L253.43,68.86 L253.58,68.50 L253.72,68.14 L253.86,67.78 L254.01,67.42 L254.15,67.07 L254.30,66.72 L254.44,66.37 L254.59,66.02 L254.73,65.68 L254.87,65.34 L255.02,65.00 L255.16,64.66 L255.31,64.32 L255.45,63.99 L255.59,63.66 L255.74,63.33 L255.88,63.01 L256.03,62.68 L256.17,62.36 L256.31,62.04 L256.46,61.73 L256.60,61.41 L256.75,61.10 L256.89,60.79 L257.04,60.49 L257.18,60.18 L257.32,59.88 L257.47,59.58 L257.61,59.28 L257.76,58.98 L257.90,58.69 L258.05,58.40 L258.19,58.11 L258.33,57.82 L259.05,56.42 L259.77,55.08 L260.50,53.79 L261.22,52.56 L261.94,51.38 L262.66,50.25 L263.38,49.17 L264.10,48.14 L264.82,47.17 L265.54,46.24 L266.26,45.36 L266.98,44.52 L267.70,43.73 L268.42,42.99 L269.15,42.28 L269.87,41.62 L270.59,41.00 L271.31,40.41 L272.03,39.86 L272.75,39.35 L273.47,38.88 L274.19,38.44 L274.91,38.03 L275.63,37.66 L276.35,37.31 L277.08,37.00 L277.80,36.71 L278.52,36.45 L279.24,36.22 L279.96,36.01 L280.68,35.83 L281.40,35.67 L282.12,35.54 L282.84,35.43 L283.56,35.34 L284.28,35.27 L285.00,35.22 L285.73,35.18 L286.45,35.17 L287.17,35.17 L287.89,35.19 L288.61,35.23 L289.33,35.28 L290.05,35.35 L290.77,35.43 L291.49,35.52 L292.21,35.63 L292.93,35.75 L293.65,35.88 L294.38,36.02 L295.10,36.17 L295.82,36.34 L296.54,36.51 L297.26,36.69 L297.98,36.88 L298.70,37.08 L299.42,37.29 L300.14,37.51 L300.86,37.73 L301.58,37.96 L302.30,38.20 L303.02,38.44 L303.75,38.69 L304.47,38.95 L305.19,39.21 L305.91,39.47 L306.63,39.74 L307.35,40.02 L308.07,40.30 L308.79,40.58 L309.51,40.87 L310.23,41.16 L310.95,41.45 L311.67,41.75 L312.40,42.05 L313.12,42.36 L313.84,42.66 L314.56,42.97 L315.28,43.28 L316.00,43.60 L316.72,43.91 L317.44,44.23 L318.16,44.55 L318.88,44.87 L319.60,45.19 L320.33,45.51 L321.05,45.84 L321.77,46.16 L322.49,46.49 L323.21,46.82 L323.93,47.14 L324.65,47.47 L325.37,47.80 L326.09,48.13 L326.81,48.46 L327.53,48.79 L328.25,49.12 L328.97,49.45 L329.70,49.78 L330.42,50.11 L331.14,50.44 L331.86,50.77 L332.58,51.10 L333.30,51.43 L334.02,51.75 L334.74,52.08 L335.46,52.41 L336.18,52.74 L336.90,53.06 L337.62,53.39 L338.35,53.71 L339.07,54.04 L339.79,54.36 L340.51,54.68 L341.23,55.01 L341.95,55.33 L342.67,55.65 L343.39,55.97 L344.11,56.28 L344.83,56.60 L345.55,56.92 L346.28,57.23 L347.00,57.55 L347.72,57.86 L348.44,58.17 L349.16,58.48 L349.88,58.79 L350.60,59.10 L351.32,59.41 L352.04,59.71 L352.76,60.02 L353.48,60.32 L354.20,60.63 L354.92,60.93 L355.65,61.23 L356.37,61.53 L357.09,61.82 L357.81,62.12 L358.53,62.41 L359.25,62.71 L359.97,63.00 L360.69,63.29 L361.41,63.58 L362.13,63.87 L362.85,64.15 L363.58,64.44 L364.30,64.72 L365.02,65.00 L365.74,65.29 L366.46,65.57 L367.18,65.84 L367.90,66.12 L368.62,66.40 L369.34,66.67 L370.06,66.94 L370.78,67.22 L371.50,67.49 L372.22,67.76 L372.95,68.02 L373.67,68.29 L374.39,68.55 L375.11,68.82 L375.83,69.08 L376.55,69.34 L377.27,69.60 L377.99,69.86 L378.71,70.11 L379.43,70.37 L380.15,70.62 L380.88,70.88 L381.60,71.13 L382.32,71.38 L383.04,71.62 L383.76,71.87 L384.48,72.12 L385.20,72.36 L385.92,72.61 L386.64,72.85 L387.36,73.09 L388.08,73.33 L388.80,73.57 L389.53,73.80 L390.25,74.04 L390.97,74.27 L391.69,74.51 L392.41,74.74 L393.13,74.97 L393.85,75.20 L394.57,75.42 L395.29,75.65 L396.01,75.88 L396.73,76.10 L397.45,76.32 L398.17,76.55 L398.90,76.77 L399.62,76.99 L400.34,77.20 L401.06,77.42 L401.78,77.64 L402.50,77.85" stroke="#006400" stroke-width="2.07" stroke-linecap="square"/>
<path d="M56.50,214.95 L57.22,215.16 L57.94,215.38 L58.66,215.60 L59.38,215.82 L60.10,216.04 L60.83,216.26 L61.55,216.48 L62.27,216.70 L62.99,216.93 L63.71,217.15 L64.43,217.38 L65.15,217.60 L65.87,217.83 L66.59,218.06 L67.31,218.29 L68.03,218.53 L68.75,218.76 L69.48,218.99 L70.20,219.23 L70.92,219.47 L71.64,219.70 L72.36,219.94 L73.08,220.18 L73.80,220.43 L74.52,220.67 L75.24,220.91 L75.96,221.16 L76.68,221.41 L77.40,221.65 L78.12,221.90 L78.85,222.15 L79.57,222.40 L80.29,222.66 L81.01,222.91 L81.73,223.17 L82.45,223.42 L83.17,223.68 L83.89,223.94 L84.61,224.20 L85.33,224.46 L86.05,224.72 L86.77,224.99 L87.50,225.25 L88.22,225.52 L88.94,225.79 L89.66,226.06 L90.38,226.33 L91.10,226.60 L91.82,226.87 L92.54,227.15 L93.26,227.43 L93.98,227.70 L94.70,227.98 L95.42,228.26 L96.15,228.54 L96.87,228.82 L97.59,229.11 L98.31,229.39 L99.03,229.68 L99.75,229.97 L100.47,230.26 L101.19,230.55 L101.91,230.84 L102.63,231.13 L103.35,231.42 L104.08,231.72 L104.80,232.02 L105.52,232.31 L106.24,232.61 L106.96,232.91 L107.68,233.22 L108.40,233.52 L109.12,233.82 L109.84,234.13 L110.56,234.43 L111.28,234.74 L112.00,235.05 L112.72,235.36 L113.45,235.67 L114.17,235.99 L114.89,236.30 L115.61,236.61 L116.33,236.93 L117.05,237.25 L117.77,237.56 L118.49,237.88 L119.21,238.20 L119.93,238.52 L120.65,238.85 L121.38,239.17 L122.10,239.49 L122.82,239.82 L123.54,240.14 L124.26,240.47 L124.98,240.80 L125.70,241.12 L126.42,241.45 L127.14,241.78 L127.86,242.11 L128.58,242.44 L129.30,242.77 L130.02,243.11 L130.75,243.44 L131.47,243.77 L132.19,244.10 L132.91,244.44 L133.63,244.77 L134.35,245.10 L135.07,245.44 L135.79,245.77 L136.51,246.10 L137.23,246.44 L137.95,246.77 L138.68,247.10 L139.40,247.44 L140.12,247.77 L140.84,248.10 L141.56,248.43 L142.28,248.76 L143.00,249.09 L143.72,249.42 L144.44,249.75 L145.16,250.07 L145.88,250.40 L146.60,250.72 L147.32,251.04 L148.05,251.36 L148.77,251.68 L149.49,251.99 L150.21,252.31 L150.93,252.62 L151.65,252.92 L152.37,253.23 L153.09,253.53 L153.81,253.83 L154.53,254.12 L155.25,254.41 L155.98,254.70 L156.70,254.98 L157.42,255.26 L158.14,255.54 L158.86,255.80 L159.58,256.07 L160.30,256.32 L161.02,256.58 L161.74,256.82 L162.46,257.06 L163.18,257.29 L163.90,257.51 L164.62,257.73 L165.35,257.94 L166.07,258.13 L166.79,258.32 L167.51,258.50 L168.23,258.67 L168.95,258.83 L169.67,258.98 L170.39,259.11 L171.11,259.24 L171.83,259.35 L172.55,259.44 L173.27,259.52 L174.00,259.59 L174.72,259.64 L175.44,259.68 L176.16,259.70 L176.88,259.70 L177.60,259.68 L178.32,259.64 L179.04,259.58 L179.76,259.50 L180.48,259.40 L181.20,259.28 L181.93,259.13 L182.65,258.95 L183.37,258.75 L184.09,258.53 L184.81,258.27 L185.53,257.98 L186.25,257.67 L186.97,257.32 L187.69,256.94 L188.41,256.52 L189.13,256.07 L189.85,255.59 L190.58,255.06 L191.30,254.49 L192.02,253.89 L192.74,253.24 L193.46,252.55 L194.18,251.81 L194.90,251.02 L195.62,250.19 L196.34,249.30 L197.06,248.37 L197.78,247.38 L198.50,246.34 L199.23,245.25 L199.95,244.09 L200.67,242.88 L200.81,242.63 L200.95,242.38 L201.10,242.12 L201.24,241.87 L201.39,241.61 L201.53,241.35 L201.68,241.08 L201.82,240.81 L201.96,240.55 L202.11,240.27 L202.25,240.00 L202.40,239.72 L202.54,239.44 L202.69,239.16 L202.83,238.88 L202.97,238.59 L203.12,238.30 L203.26,238.01 L203.41,237.72 L203.55,237.42 L203.69,237.12 L203.84,236.82 L203.98,236.51 L204.13,236.21 L204.27,235.90 L204.41,235.58 L204.56,235.27 L204.70,234.95 L204.85,234.63 L204.99,234.31 L205.14,233.98 L205.28,233.65 L205.42,233.32 L205.57,232.99 L205.71,232.65 L205.86,232.31 L206.00,231.97 L206.14,231.62 L206.29,231.27 L206.43,230.92 L206.58,230.57 L206.72,230.21 L206.87,229.86 L207.01,229.49 L207.15,229.13 L207.30,228.76 L207.44,228.39 L207.59,228.02 L207.73,227.65 L207.88,227.27 L208.02,226.89 L208.16,226.50 L208.31,226.12 L208.45,225.73 L208.60,225.34 L208.74,224.94 L208.88,224.54 L209.03,224.14 L209.17,223.74 L209.32,223.33 L209.46,222.93 L209.61,222.51 L209.75,222.10 L209.89,221.68 L210.04,221.26 L210.18,220.84 L210.33,220.41 L210.47,219.99 L210.61,219.55 L210.76,219.12 L210.90,218.68 L211.05,218.24 L211.19,217.80 L211.34,217.36 L211.48,216.91 L211.62,216.46 L211.77,216.00 L211.91,215.55 L212.06,215.09 L212.20,214.63 L212.34,214.16 L212.49,213.70 L212.63,213.23 L212.78,212.75 L212.92,212.28 L213.06,211.80 L213.21,211.32 L213.35,210.84 L213.50,210.35 L213.64,209.86 L213.79,209.37 L213.93,208.88 L214.07,208.38 L214.22,207.88 L214.36,207.38 L214.51,206.87 L214.65,206.37 L214.80,205.86 L214.94,205.34 L215.08,204.83 L215.23,204.31 L215.37,203.79 L215.52,203.27 L215.66,202.75 L215.80,202.22 L215.95,201.69 L216.09,201.16 L216.24,200.62 L216.38,200.09 L216.52,199.55 L216.67,199.01 L216.81,198.46 L216.96,197.92 L217.10,197.37 L217.25,196.82 L217.39,196.27 L217.53,195.71 L217.68,195.16 L217.82,194.60 L217.97,194.04 L218.11,193.47 L218.25,192.91 L218.40,192.34 L218.54,191.77 L218.69,191.20 L218.83,190.63 L218.98,190.05 L219.12,189.48 L219.26,188.90 L219.41,188.32 L219.55,187.74 L219.70,187.16 L219.84,186.57 L219.98,185.98 L220.13,185.39 L220.27,184.80 L220.42,184.21 L220.56,183.62 L220.71,183.03 L220.85,182.43 L220.99,181.83 L221.14,181.23 L221.28,180.63 L221.43,180.03 L221.57,179.43 L221.72,178.83 L221.86,178.22 L222.00,177.61 L222.15,177.01 L222.29,176.40 L222.44,175.79 L222.58,175.18 L222.72,174.57 L222.87,173.95 L223.01,173.34 L223.16,172.73 L223.30,172.11 L223.44,171.50 L223.59,170.88 L223.73,170.26 L223.88,169.64 L224.02,169.03 L224.17,168.41 L224.31,167.79 L224.45,167.17 L224.60,166.54 L224.74,165.92 L224.89,165.30 L225.03,164.68 L225.17,164.05 L225.32,163.43 L225.46,162.81 L225.61,162.18 L225.75,161.56 L225.90,160.93 L226.04,160.31 L226.18,159.68 L226.33,159.06 L226.47,158.43 L226.62,157.80 L226.65,157.68 L226.67,157.55 L226.70,157.43 L226.73,157.30 L226.76,157.18 L226.79,157.05 L226.82,156.93 L226.85,156.80 L226.88,156.68 L226.91,156.55 L226.93,156.42 L226.96,156.30 L226.99,156.17 L227.02,156.05 L227.05,155.92 L227.08,155.80 L227.11,155.67 L227.14,155.55 L227.16,155.42 L227.19,155.30 L227.22,155.17 L227.25,155.05 L227.28,154.92 L227.31,154.79 L227.34,154.67 L227.37,154.54 L227.40,154.42 L227.42,154.29 L227.45,154.17 L227.48,154.04 L227.51,153.92 L227.54,153.79 L227.57,153.67 L227.60,153.54 L227.63,153.41 L227.65,153.29 L227.68,153.16 L227.71,153.04 L227.74,152.91 L227.77,152.79 L227.80,152.66 L227.83,152.54 L227.86,152.41 L227.89,152.28 L227.91,152.16 L227.94,152.03 L227.97,151.91 L228.00,151.78 L228.03,151.66 L228.06,151.53 L228.09,151.41 L228.12,151.28 L228.14,151.15 L228.17,151.03 L228.20,150.90 L228.23,150.78 L228.26,150.65 L228.29,150.53 L228.32,150.40 L228.35,150.28 L228.38,150.15 L228.40,150.02 L228.43,149.90 L228.46,149.77 L228.49,149.65 L228.52,149.52 L228.55,149.40 L228.58,149.27 L228.61,149.14 L228.63,149.02 L228.66,148.89 L228.69,148.77 L228.72,148.64 L228.75,148.52 L228.78,148.39 L228.81,148.27 L228.84,148.14 L228.87,148.01 L228.89,147.89 L228.92,147.76 L228.95,147.64 L228.98,147.51 L229.01,147.39 L229.04,147.26 L229.07,147.13 L229.10,147.01 L229.13,146.88 L229.15,146.76 L229.18,146.63 L229.21,146.51 L229.24,146.38 L229.27,146.26 L229.30,146.13 L229.33,146.00 L229.36,145.88 L229.38,145.75 L229.41,145.63 L229.44,145.50 L229.47,145.38 L229.50,145.25 L229.53,145.12 L229.56,145.00 L229.59,144.87 L229.62,144.75 L229.64,144.62 L229.67,144.50 L229.70,144.37 L229.73,144.24 L229.76,144.12 L229.79,143.99 L229.82,143.87 L229.85,143.74 L229.87,143.62 L229.90,143.49 L229.93,143.37 L229.96,143.24 L229.99,143.11 L230.02,142.99 L230.05,142.86 L230.08,142.74 L230.11,142.61 L230.13,142.49 L230.16,142.36 L230.19,142.23 L230.22,142.11 L230.25,141.98 L230.28,141.86 L230.31,141.73 L230.34,141.61 L230.37,141.48 L230.39,141.36 L230.42,141.23 L230.45,141.10 L230.48,140.98 L230.51,140.85 L230.54,140.73 L230.57,140.60 L230.60,140.48 L230.62,140.35 L230.65,140.22 L230.68,140.10 L230.71,139.97 L230.74,139.85 L230.77,139.72 L230.80,139.60 L230.83,139.47 L230.86,139.35 L230.88,139.22 L230.91,139.09 L230.94,138.97 L230.97,138.84 L231.00,138.72 L231.03,138.59 L231.06,138.47 L231.09,138.34 L231.11,138.22 L231.14,138.09 L231.17,137.96 L231.20,137.84 L231.23,137.71 L231.26,137.59 L231.29,137.46 L231.32,137.34 L231.35,137.21 L231.37,137.09 L231.40,136.96 L231.43,136.83 L231.46,136.71 L231.49,136.58 L231.52,136.46 L231.55,136.33 L231.58,136.21 L231.60,136.08 L231.63,135.96 L231.66,135.83 L231.69,135.71 L231.72,135.58 L231.75,135.45 L231.78,135.33 L231.81,135.20 L231.84,135.08 L231.86,134.95 L231.89,134.83 L231.92,134.70 L231.95,134.58 L231.98,134.45 L232.01,134.33 L232.04,134.20 L232.07,134.08 L232.09,133.95 L232.12,133.82 L232.15,133.70 L232.18,133.57 L232.21,133.45 L232.24,133.32 L232.27,133.20 L232.30,133.07 L232.33,132.95 L232.35,132.82 L232.38,132.70 L232.53,132.07 L232.67,131.44 L232.82,130.82 L232.96,130.19 L233.10,129.57 L233.25,128.94 L233.39,128.32 L233.54,127.69 L233.68,127.07 L233.83,126.45 L233.97,125.82 L234.11,125.20 L234.26,124.58 L234.40,123.96 L234.55,123.33 L234.69,122.71 L234.83,122.09 L234.98,121.47 L235.12,120.86 L235.27,120.24 L235.41,119.62 L235.55,119.00 L235.70,118.39 L235.84,117.77 L235.99,117.16 L236.13,116.55 L236.28,115.93 L236.42,115.32 L236.56,114.71 L236.71,114.10 L236.85,113.49 L237.00,112.89 L237.14,112.28 L237.28,111.67 L237.43,111.07 L237.57,110.47 L237.72,109.87 L237.86,109.27 L238.01,108.67 L238.15,108.07 L238.29,107.47 L238.44,106.88 L238.58,106.29 L238.73,105.70 L238.87,105.11 L239.01,104.52 L239.16,103.93 L239.30,103.34 L239.45,102.76 L239.59,102.18 L239.74,101.60 L239.88,101.02 L240.02,100.45 L240.17,99.87 L240.31,99.30 L240.46,98.73 L240.60,98.16 L240.75,97.59 L240.89,97.03 L241.03,96.46 L241.18,95.90 L241.32,95.34 L241.47,94.79 L241.61,94.23 L241.75,93.68 L241.90,93.13 L242.04,92.58 L242.19,92.04 L242.33,91.49 L242.47,90.95 L242.62,90.41 L242.76,89.88 L242.91,89.34 L243.05,88.81 L243.20,88.28 L243.34,87.75 L243.48,87.23 L243.63,86.71 L243.77,86.19 L243.92,85.67 L244.06,85.16 L244.20,84.64 L244.35,84.13 L244.49,83.63 L244.64,83.12 L244.78,82.62 L244.93,82.12 L245.07,81.62 L245.21,81.13 L245.36,80.64 L245.50,80.15 L245.65,79.66 L245.79,79.18 L245.94,78.70 L246.08,78.22 L246.22,77.75 L246.37,77.27 L246.51,76.80 L246.66,76.34 L246.80,75.87 L246.94,75.41 L247.09,74.95 L247.23,74.50 L247.38,74.04 L247.52,73.59 L247.66,73.14 L247.81,72.70 L247.95,72.26 L248.10,71.82 L248.24,71.38 L248.39,70.95 L248.53,70.51 L248.67,70.09 L248.82,69.66 L248.96,69.24 L249.11,68.82 L249.25,68.40 L249.40,67.99 L249.54,67.57 L249.68,67.17 L249.83,66.76 L249.97,66.36 L250.12,65.96 L250.26,65.56 L250.40,65.16 L250.55,64.77 L250.69,64.38 L250.84,64.00 L250.98,63.61 L251.12,63.23 L251.27,62.85 L251.41,62.48 L251.56,62.11 L251.70,61.74 L251.85,61.37 L251.99,61.01 L252.13,60.64 L252.28,60.29 L252.42,59.93 L252.57,59.58 L252.71,59.23 L252.85,58.88 L253.00,58.53 L253.14,58.19 L253.29,57.85 L253.43,57.51 L253.58,57.18 L253.72,56.85 L253.86,56.52 L254.01,56.19 L254.15,55.87 L254.30,55.55 L254.44,55.23 L254.59,54.92 L254.73,54.60 L254.87,54.29 L255.02,53.99 L255.16,53.68 L255.31,53.38 L255.45,53.08 L255.59,52.78 L255.74,52.49 L255.88,52.20 L256.03,51.91 L256.17,51.62 L256.31,51.34 L256.46,51.06 L256.60,50.78 L256.75,50.50 L256.89,50.23 L257.04,49.95 L257.18,49.69 L257.32,49.42 L257.47,49.15 L257.61,48.89 L257.76,48.63 L257.90,48.38 L258.05,48.12 L258.19,47.87 L258.33,47.62 L259.05,46.41 L259.77,45.25 L260.50,44.16 L261.22,43.12 L261.94,42.13 L262.66,41.20 L263.38,40.31 L264.10,39.48 L264.82,38.69 L265.54,37.95 L266.26,37.26 L266.98,36.61 L267.70,36.01 L268.42,35.44 L269.15,34.91 L269.87,34.43 L270.59,33.98 L271.31,33.56 L272.03,33.18 L272.75,32.83 L273.47,32.52 L274.19,32.23 L274.91,31.97 L275.63,31.75 L276.35,31.55 L277.08,31.37 L277.80,31.22 L278.52,31.10 L279.24,31.00 L279.96,30.92 L280.68,30.86 L281.40,30.82 L282.12,30.80 L282.84,30.80 L283.56,30.82 L284.28,30.86 L285.00,30.91 L285.73,30.98 L286.45,31.06 L287.17,31.15 L287.89,31.26 L288.61,31.39 L289.33,31.52 L290.05,31.67 L290.77,31.83 L291.49,32.00 L292.21,32.18 L292.93,32.37 L293.65,32.56 L294.38,32.77 L295.10,32.99 L295.82,33.21 L296.54,33.44 L297.26,33.68 L297.98,33.92 L298.70,34.18 L299.42,34.43 L300.14,34.70 L300.86,34.96 L301.58,35.24 L302.30,35.52 L303.02,35.80 L303.75,36.09 L304.47,36.38 L305.19,36.67 L305.91,36.97 L306.63,37.27 L307.35,37.58 L308.07,37.88 L308.79,38.19 L309.51,38.51 L310.23,38.82 L310.95,39.14 L311.67,39.46 L312.40,39.78 L313.12,40.10 L313.84,40.43 L314.56,40.75 L315.28,41.08 L316.00,41.41 L316.72,41.74 L317.44,42.07 L318.16,42.40 L318.88,42.73 L319.60,43.06 L320.33,43.40 L321.05,43.73 L321.77,44.06 L322.49,44.40 L323.21,44.73 L323.93,45.06 L324.65,45.40 L325.37,45.73 L326.09,46.06 L326.81,46.40 L327.53,46.73 L328.25,47.06 L328.97,47.39 L329.70,47.73 L330.42,48.06 L331.14,48.39 L331.86,48.72 L332.58,49.05 L333.30,49.38 L334.02,49.70 L334.74,50.03 L335.46,50.36 L336.18,50.68 L336.90,51.01 L337.62,51.33 L338.35,51.65 L339.07,51.98 L339.79,52.30 L340.51,52.62 L341.23,52.94 L341.95,53.25 L342.67,53.57 L343.39,53.89 L344.11,54.20 L344.83,54.51 L345.55,54.83 L346.28,55.14 L347.00,55.45 L347.72,55.76 L348.44,56.07 L349.16,56.37 L349.88,56.68 L350.60,56.98 L351.32,57.28 L352.04,57.59 L352.76,57.89 L353.48,58.19 L354.20,58.48 L354.92,58.78 L355.65,59.08 L356.37,59.37 L357.09,59.66 L357.81,59.95 L358.53,60.24 L359.25,60.53 L359.97,60.82 L360.69,61.11 L361.41,61.39 L362.13,61.68 L362.85,61.96 L363.58,62.24 L364.30,62.52 L365.02,62.80 L365.74,63.07 L366.46,63.35 L367.18,63.63 L367.90,63.90 L368.62,64.17 L369.34,64.44 L370.06,64.71 L370.78,64.98 L371.50,65.25 L372.22,65.51 L372.95,65.78 L373.67,66.04 L374.39,66.30 L375.11,66.56 L375.83,66.82 L376.55,67.08 L377.27,67.33 L377.99,67.59 L378.71,67.84 L379.43,68.10 L380.15,68.35 L380.88,68.60 L381.60,68.85 L382.32,69.09 L383.04,69.34 L383.76,69.59 L384.48,69.83 L385.20,70.07 L385.92,70.32 L386.64,70.56 L387.36,70.80 L388.08,71.03 L388.80,71.27 L389.53,71.51 L390.25,71.74 L390.97,71.97 L391.69,72.21 L392.41,72.44 L393.13,72.67 L393.85,72.90 L394.57,73.12 L395.29,73.35 L396.01,73.57 L396.73,73.80 L397.45,74.02 L398.17,74.24 L398.90,74.46 L399.62,74.68 L400.34,74.90 L401.06,75.12 L401.78,75.34 L402.50,75.55" stroke="#ff8c00" stroke-width="2.07" stroke-linecap="square"/>
<path d="M56.50,217.49 L57.22,217.71 L57.94,217.92 L58.66,218.14 L59.38,218.36 L60.10,218.58 L60.83,218.80 L61.55,219.02 L62.27,219.24 L62.99,219.47 L63.71,219.69 L64.43,219.92 L65.15,220.15 L65.87,220.38 L66.59,220.61 L67.31,220.84 L68.03,221.07 L68.75,221.30 L69.48,221.54 L70.20,221.77 L70.92,222.01 L71.64,222.25 L72.36,222.49 L73.08,222.73 L73.80,222.97 L74.52,223.22 L75.24,223.46 L75.96,223.71 L76.68,223.96 L77.40,224.20 L78.12,224.45 L78.85,224.71 L79.57,224.96 L80.29,225.21 L81.01,225.47 L81.73,225.73 L82.45,225.99 L83.17,226.25 L83.89,226.51 L84.61,226.77 L85.33,227.03 L86.05,227.30 L86.77,227.57 L87.50,227.83 L88.22,228.10 L88.94,228.38 L89.66,228.65 L90.38,228.92 L91.10,229.20 L91.82,229.48 L92.54,229.76 L93.26,230.04 L93.98,230.32 L94.70,230.60 L95.42,230.89 L96.15,231.17 L96.87,231.46 L97.59,231.75 L98.31,232.04 L99.03,232.34 L99.75,232.63 L100.47,232.93 L101.19,233.22 L101.91,233.52 L102.63,233.82 L103.35,234.13 L104.08,234.43 L104.80,234.74 L105.52,235.04 L106.24,235.35 L106.96,235.66 L107.68,235.97 L108.40,236.29 L109.12,236.60 L109.84,236.92 L110.56,237.24 L111.28,237.56 L112.00,237.88 L112.72,238.21 L113.45,238.53 L114.17,238.86 L114.89,239.19 L115.61,239.52 L116.33,239.85 L117.05,240.18 L117.77,240.52 L118.49,240.85 L119.21,241.19 L119.93,241.53 L120.65,241.87 L121.38,242.22 L122.10,242.56 L122.82,242.91 L123.54,243.26 L124.26,243.60 L124.98,243.96 L125.70,244.31 L126.42,244.66 L127.14,245.02 L127.86,245.37 L128.58,245.73 L129.30,246.09 L130.02,246.45 L130.75,246.81 L131.47,247.17 L132.19,247.54 L132.91,247.90 L133.63,248.27 L134.35,248.63 L135.07,249.00 L135.79,249.37 L136.51,249.74 L137.23,250.11 L137.95,250.48 L138.68,250.85 L139.40,251.23 L140.12,251.60 L140.84,251.97 L141.56,252.34 L142.28,252.72 L143.00,253.09 L143.72,253.46 L144.44,253.84 L145.16,254.21 L145.88,254.58 L146.60,254.96 L147.32,255.33 L148.05,255.70 L148.77,256.07 L149.49,256.44 L150.21,256.80 L150.93,257.17 L151.65,257.53 L152.37,257.89 L153.09,258.25 L153.81,258.61 L154.53,258.97 L155.25,259.32 L155.98,259.67 L156.70,260.01 L157.42,260.35 L158.14,260.69 L158.86,261.02 L159.58,261.35 L160.30,261.68 L161.02,261.99 L161.74,262.31 L162.46,262.61 L163.18,262.91 L163.90,263.20 L164.62,263.49 L165.35,263.77 L166.07,264.03 L166.79,264.29 L167.51,264.54 L168.23,264.78 L168.95,265.01 L169.67,265.23 L170.39,265.44 L171.11,265.63 L171.83,265.81 L172.55,265.98 L173.27,266.13 L174.00,266.26 L174.72,266.38 L175.44,266.48 L176.16,266.57 L176.88,266.63 L177.60,266.67 L178.32,266.70 L179.04,266.70 L179.76,266.68 L180.48,266.63 L181.20,266.56 L181.93,266.46 L182.65,266.34 L183.37,266.18 L184.09,266.00 L184.81,265.78 L185.53,265.53 L186.25,265.25 L186.97,264.93 L187.69,264.58 L188.41,264.18 L189.13,263.75 L189.85,263.28 L190.58,262.76 L191.30,262.20 L192.02,261.59 L192.74,260.93 L193.46,260.23 L194.18,259.48 L194.90,258.67 L195.62,257.81 L196.34,256.89 L197.06,255.92 L197.78,254.88 L198.50,253.79 L199.23,252.64 L199.95,251.42 L200.67,250.14 L200.81,249.88 L200.95,249.61 L201.10,249.34 L201.24,249.07 L201.39,248.79 L201.53,248.52 L201.68,248.24 L201.82,247.95 L201.96,247.67 L202.11,247.38 L202.25,247.09 L202.40,246.80 L202.54,246.50 L202.69,246.20 L202.83,245.90 L202.97,245.59 L203.12,245.29 L203.26,244.98 L203.41,244.66 L203.55,244.35 L203.69,244.03 L203.84,243.71 L203.98,243.38 L204.13,243.06 L204.27,242.73 L204.41,242.39 L204.56,242.06 L204.70,241.72 L204.85,241.38 L204.99,241.03 L205.14,240.69 L205.28,240.34 L205.42,239.98 L205.57,239.63 L205.71,239.27 L205.86,238.91 L206.00,238.54 L206.14,238.18 L206.29,237.81 L206.43,237.43 L206.58,237.06 L206.72,236.68 L206.87,236.29 L207.01,235.91 L207.15,235.52 L207.30,235.13 L207.44,234.74 L207.59,234.34 L207.73,233.94 L207.88,233.54 L208.02,233.13 L208.16,232.72 L208.31,232.31 L208.45,231.90 L208.60,231.48 L208.74,231.06 L208.88,230.64 L209.03,230.21 L209.17,229.78 L209.32,229.35 L209.46,228.91 L209.61,228.48 L209.75,228.03 L209.89,227.59 L210.04,227.14 L210.18,226.69 L210.33,226.24 L210.47,225.79 L210.61,225.33 L210.76,224.87 L210.90,224.40 L211.05,223.93 L211.19,223.46 L211.34,222.99 L211.48,222.51 L211.62,222.03 L211.77,221.55 L211.91,221.07 L212.06,220.58 L212.20,220.09 L212.34,219.60 L212.49,219.10 L212.63,218.60 L212.78,218.10 L212.92,217.59 L213.06,217.09 L213.21,216.58 L213.35,216.06 L213.50,215.55 L213.64,215.03 L213.79,214.51 L213.93,213.98 L214.07,213.45 L214.22,212.92 L214.36,212.39 L214.51,211.86 L214.65,211.32 L214.80,210.78 L214.94,210.23 L215.08,209.69 L215.23,209.14 L215.37,208.59 L215.52,208.03 L215.66,207.48 L215.80,206.92 L215.95,206.36 L216.09,205.79 L216.24,205.23 L216.38,204.66 L216.52,204.08 L216.67,203.51 L216.81,202.93 L216.96,202.35 L217.10,201.77 L217.25,201.19 L217.39,200.60 L217.53,200.01 L217.68,199.42 L217.82,198.83 L217.97,198.23 L218.11,197.63 L218.25,197.03 L218.40,196.43 L218.54,195.83 L218.69,195.22 L218.83,194.61 L218.98,194.00 L219.12,193.38 L219.26,192.77 L219.41,192.15 L219.55,191.53 L219.70,190.91 L219.84,190.28 L219.98,189.66 L220.13,189.03 L220.27,188.40 L220.42,187.77 L220.56,187.13 L220.71,186.50 L220.85,185.86 L220.99,185.22 L221.14,184.58 L221.28,183.93 L221.43,183.29 L221.57,182.64 L221.72,181.99 L221.86,181.34 L222.00,180.69 L222.15,180.04 L222.29,179.38 L222.44,178.73 L222.58,178.07 L222.72,177.41 L222.87,176.75 L223.01,176.08 L223.16,175.42 L223.30,174.75 L223.44,174.09 L223.59,173.42 L223.73,172.75 L223.88,172.08 L224.02,171.41 L224.17,170.73 L224.31,170.06 L224.45,169.38 L224.60,168.71 L224.74,168.03 L224.89,167.35 L225.03,166.67 L225.17,165.99 L225.32,165.31 L225.46,164.62 L225.61,163.94 L225.75,163.26 L225.90,162.57 L226.04,161.88 L226.18,161.20 L226.33,160.51 L226.47,159.82 L226.62,159.13 L226.65,158.99 L226.67,158.85 L226.70,158.72 L226.73,158.58 L226.76,158.44 L226.79,158.30 L226.82,158.16 L226.85,158.03 L226.88,157.89 L226.91,157.75 L226.93,157.61 L226.96,157.47 L226.99,157.34 L227.02,157.20 L227.05,157.06 L227.08,156.92 L227.11,156.78 L227.14,156.64 L227.16,156.51 L227.19,156.37 L227.22,156.23 L227.25,156.09 L227.28,155.95 L227.31,155.81 L227.34,155.68 L227.37,155.54 L227.40,155.40 L227.42,155.26 L227.45,155.12 L227.48,154.98 L227.51,154.84 L227.54,154.71 L227.57,154.57 L227.60,154.43 L227.63,154.29 L227.65,154.15 L227.68,154.01 L227.71,153.87 L227.74,153.73 L227.77,153.60 L227.80,153.46 L227.83,153.32 L227.86,153.18 L227.89,153.04 L227.91,152.90 L227.94,152.76 L227.97,152.62 L228.00,152.48 L228.03,152.35 L228.06,152.21 L228.09,152.07 L228.12,151.93 L228.14,151.79 L228.17,151.65 L228.20,151.51 L228.23,151.37 L228.26,151.23 L228.29,151.10 L228.32,150.96 L228.35,150.82 L228.38,150.68 L228.40,150.54 L228.43,150.40 L228.46,150.26 L228.49,150.12 L228.52,149.98 L228.55,149.84 L228.58,149.70 L228.61,149.57 L228.63,149.43 L228.66,149.29 L228.69,149.15 L228.72,149.01 L228.75,148.87 L228.78,148.73 L228.81,148.59 L228.84,148.45 L228.87,148.31 L228.89,148.17 L228.92,148.03 L228.95,147.90 L228.98,147.76 L229.01,147.62 L229.04,147.48 L229.07,147.34 L229.10,147.20 L229.13,147.06 L229.15,146.92 L229.18,146.78 L229.21,146.64 L229.24,146.50 L229.27,146.36 L229.30,146.22 L229.33,146.09 L229.36,145.95 L229.38,145.81 L229.41,145.67 L229.44,145.53 L229.47,145.39 L229.50,145.25 L229.53,145.11 L229.56,144.97 L229.59,144.83 L229.62,144.69 L229.64,144.55 L229.67,144.41 L229.70,144.28 L229.73,144.14 L229.76,144.00 L229.79,143.86 L229.82,143.72 L229.85,143.58 L229.87,143.44 L229.90,143.30 L229.93,143.16 L229.96,143.02 L229.99,142.88 L230.02,142.74 L230.05,142.60 L230.08,142.47 L230.11,142.33 L230.13,142.19 L230.16,142.05 L230.19,141.91 L230.22,141.77 L230.25,141.63 L230.28,141.49 L230.31,141.35 L230.34,141.21 L230.37,141.07 L230.39,140.93 L230.42,140.80 L230.45,140.66 L230.48,140.52 L230.51,140.38 L230.54,140.24 L230.57,140.10 L230.60,139.96 L230.62,139.82 L230.65,139.68 L230.68,139.54 L230.71,139.40 L230.74,139.27 L230.77,139.13 L230.80,138.99 L230.83,138.85 L230.86,138.71 L230.88,138.57 L230.91,138.43 L230.94,138.29 L230.97,138.15 L231.00,138.02 L231.03,137.88 L231.06,137.74 L231.09,137.60 L231.11,137.46 L231.14,137.32 L231.17,137.18 L231.20,137.04 L231.23,136.90 L231.26,136.77 L231.29,136.63 L231.32,136.49 L231.35,136.35 L231.37,136.21 L231.40,136.07 L231.43,135.93 L231.46,135.79 L231.49,135.66 L231.52,135.52 L231.55,135.38 L231.58,135.24 L231.60,135.10 L231.63,134.96 L231.66,134.82 L231.69,134.69 L231.72,134.55 L231.75,134.41 L231.78,134.27 L231.81,134.13 L231.84,133.99 L231.86,133.86 L231.89,133.72 L231.92,133.58 L231.95,133.44 L231.98,133.30 L232.01,133.16 L232.04,133.03 L232.07,132.89 L232.09,132.75 L232.12,132.61 L232.15,132.47 L232.18,132.34 L232.21,132.20 L232.24,132.06 L232.27,131.92 L232.30,131.78 L232.33,131.65 L232.35,131.51 L232.38,131.37 L232.53,130.68 L232.67,129.99 L232.82,129.30 L232.96,128.62 L233.10,127.93 L233.25,127.24 L233.39,126.56 L233.54,125.88 L233.68,125.19 L233.83,124.51 L233.97,123.83 L234.11,123.15 L234.26,122.47 L234.40,121.79 L234.55,121.12 L234.69,120.44 L234.83,119.77 L234.98,119.09 L235.12,118.42 L235.27,117.75 L235.41,117.08 L235.55,116.41 L235.70,115.75 L235.84,115.08 L235.99,114.42 L236.13,113.75 L236.28,113.09 L236.42,112.43 L236.56,111.77 L236.71,111.12 L236.85,110.46 L237.00,109.81 L237.14,109.16 L237.28,108.51 L237.43,107.86 L237.57,107.21 L237.72,106.57 L237.86,105.92 L238.01,105.28 L238.15,104.64 L238.29,104.00 L238.44,103.37 L238.58,102.73 L238.73,102.10 L238.87,101.47 L239.01,100.84 L239.16,100.22 L239.30,99.59 L239.45,98.97 L239.59,98.35 L239.74,97.73 L239.88,97.12 L240.02,96.50 L240.17,95.89 L240.31,95.28 L240.46,94.67 L240.60,94.07 L240.75,93.47 L240.89,92.87 L241.03,92.27 L241.18,91.67 L241.32,91.08 L241.47,90.49 L241.61,89.90 L241.75,89.31 L241.90,88.73 L242.04,88.15 L242.19,87.57 L242.33,86.99 L242.47,86.42 L242.62,85.84 L242.76,85.27 L242.91,84.71 L243.05,84.14 L243.20,83.58 L243.34,83.02 L243.48,82.47 L243.63,81.91 L243.77,81.36 L243.92,80.81 L244.06,80.27 L244.20,79.72 L244.35,79.18 L244.49,78.64 L244.64,78.11 L244.78,77.58 L244.93,77.05 L245.07,76.52 L245.21,75.99 L245.36,75.47 L245.50,74.95 L245.65,74.44 L245.79,73.92 L245.94,73.41 L246.08,72.91 L246.22,72.40 L246.37,71.90 L246.51,71.40 L246.66,70.90 L246.80,70.41 L246.94,69.92 L247.09,69.43 L247.23,68.95 L247.38,68.47 L247.52,67.99 L247.66,67.51 L247.81,67.04 L247.95,66.57 L248.10,66.10 L248.24,65.63 L248.39,65.17 L248.53,64.71 L248.67,64.26 L248.82,63.81 L248.96,63.36 L249.11,62.91 L249.25,62.47 L249.40,62.02 L249.54,61.59 L249.68,61.15 L249.83,60.72 L249.97,60.29 L250.12,59.86 L250.26,59.44 L250.40,59.02 L250.55,58.60 L250.69,58.19 L250.84,57.78 L250.98,57.37 L251.12,56.96 L251.27,56.56 L251.41,56.16 L251.56,55.76 L251.70,55.37 L251.85,54.98 L251.99,54.59 L252.13,54.21 L252.28,53.82 L252.42,53.44 L252.57,53.07 L252.71,52.69 L252.85,52.32 L253.00,51.96 L253.14,51.59 L253.29,51.23 L253.43,50.87 L253.58,50.52 L253.72,50.16 L253.86,49.81 L254.01,49.47 L254.15,49.12 L254.30,48.78 L254.44,48.44 L254.59,48.11 L254.73,47.77 L254.87,47.44 L255.02,47.12 L255.16,46.79 L255.31,46.47 L255.45,46.15 L255.59,45.84 L255.74,45.52 L255.88,45.21 L256.03,44.91 L256.17,44.60 L256.31,44.30 L256.46,44.00 L256.60,43.70 L256.75,43.41 L256.89,43.12 L257.04,42.83 L257.18,42.55 L257.32,42.26 L257.47,41.98 L257.61,41.71 L257.76,41.43 L257.90,41.16 L258.05,40.89 L258.19,40.62 L258.33,40.36 L259.05,39.08 L259.77,37.86 L260.50,36.71 L261.22,35.62 L261.94,34.58 L262.66,33.61 L263.38,32.69 L264.10,31.83 L264.82,31.02 L265.54,30.27 L266.26,29.57 L266.98,28.91 L267.70,28.30 L268.42,27.74 L269.15,27.22 L269.87,26.75 L270.59,26.32 L271.31,25.92 L272.03,25.57 L272.75,25.25 L273.47,24.97 L274.19,24.72 L274.91,24.50 L275.63,24.32 L276.35,24.16 L277.08,24.04 L277.80,23.94 L278.52,23.87 L279.24,23.82 L279.96,23.80 L280.68,23.80 L281.40,23.83 L282.12,23.87 L282.84,23.93 L283.56,24.02 L284.28,24.12 L285.00,24.24 L285.73,24.37 L286.45,24.52 L287.17,24.69 L287.89,24.87 L288.61,25.06 L289.33,25.27 L290.05,25.49 L290.77,25.72 L291.49,25.96 L292.21,26.21 L292.93,26.47 L293.65,26.73 L294.38,27.01 L295.10,27.30 L295.82,27.59 L296.54,27.89 L297.26,28.19 L297.98,28.51 L298.70,28.82 L299.42,29.15 L300.14,29.48 L300.86,29.81 L301.58,30.15 L302.30,30.49 L303.02,30.83 L303.75,31.18 L304.47,31.53 L305.19,31.89 L305.91,32.25 L306.63,32.61 L307.35,32.97 L308.07,33.33 L308.79,33.70 L309.51,34.06 L310.23,34.43 L310.95,34.80 L311.67,35.17 L312.40,35.54 L313.12,35.92 L313.84,36.29 L314.56,36.66 L315.28,37.04 L316.00,37.41 L316.72,37.78 L317.44,38.16 L318.16,38.53 L318.88,38.90 L319.60,39.27 L320.33,39.65 L321.05,40.02 L321.77,40.39 L322.49,40.76 L323.21,41.13 L323.93,41.50 L324.65,41.87 L325.37,42.23 L326.09,42.60 L326.81,42.96 L327.53,43.33 L328.25,43.69 L328.97,44.05 L329.70,44.41 L330.42,44.77 L331.14,45.13 L331.86,45.48 L332.58,45.84 L333.30,46.19 L334.02,46.54 L334.74,46.90 L335.46,47.24 L336.18,47.59 L336.90,47.94 L337.62,48.28 L338.35,48.63 L339.07,48.97 L339.79,49.31 L340.51,49.65 L341.23,49.98 L341.95,50.32 L342.67,50.65 L343.39,50.98 L344.11,51.31 L344.83,51.64 L345.55,51.97 L346.28,52.29 L347.00,52.62 L347.72,52.94 L348.44,53.26 L349.16,53.58 L349.88,53.90 L350.60,54.21 L351.32,54.53 L352.04,54.84 L352.76,55.15 L353.48,55.46 L354.20,55.76 L354.92,56.07 L355.65,56.37 L356.37,56.68 L357.09,56.98 L357.81,57.28 L358.53,57.57 L359.25,57.87 L359.97,58.16 L360.69,58.46 L361.41,58.75 L362.13,59.04 L362.85,59.33 L363.58,59.61 L364.30,59.90 L365.02,60.18 L365.74,60.46 L366.46,60.74 L367.18,61.02 L367.90,61.30 L368.62,61.58 L369.34,61.85 L370.06,62.12 L370.78,62.40 L371.50,62.67 L372.22,62.93 L372.95,63.20 L373.67,63.47 L374.39,63.73 L375.11,63.99 L375.83,64.25 L376.55,64.51 L377.27,64.77 L377.99,65.03 L378.71,65.29 L379.43,65.54 L380.15,65.79 L380.88,66.05 L381.60,66.30 L382.32,66.54 L383.04,66.79 L383.76,67.04 L384.48,67.28 L385.20,67.53 L385.92,67.77 L386.64,68.01 L387.36,68.25 L388.08,68.49 L388.80,68.73 L389.53,68.96 L390.25,69.20 L390.97,69.43 L391.69,69.66 L392.41,69.89 L393.13,70.12 L393.85,70.35 L394.57,70.58 L395.29,70.81 L396.01,71.03 L396.73,71.26 L397.45,71.48 L398.17,71.70 L398.90,71.92 L399.62,72.14 L400.34,72.36 L401.06,72.58 L401.78,72.79 L402.50,73.01" stroke="#ff0000" stroke-width="2.07" stroke-linecap="square"/>
</g>
<g stroke="#000" stroke-width="0.83">
<line x1="56.50" y1="278.0" x2="56.50" y2="281.7"/>
<line x1="114.17" y1="278.0" x2="114.17" y2="281.7"/>
<line x1="171.83" y1="278.0" x2="171.83" y2="281.7"/>
<line x1="229.50" y1="278.0" x2="229.50" y2="281.7"/>
<line x1="287.17" y1="278.0" x2="287.17" y2="281.7"/>
<line x1="344.83" y1="278.0" x2="344.83" y2="281.7"/>
<line x1="402.50" y1="278.0" x2="402.50" y2="281.7"/>
<line x1="56.5" y1="278.00" x2="52.8" y2="278.00"/>
<line x1="56.5" y1="233.75" x2="52.8" y2="233.75"/>
<line x1="56.5" y1="189.50" x2="52.8" y2="189.50"/>
<line x1="56.5" y1="145.25" x2="52.8" y2="145.25"/>
<line x1="56.5" y1="101.00" x2="52.8" y2="101.00"/>
<line x1="56.5" y1="56.75" x2="52.8" y2="56.75"/>
<line x1="56.5" y1="12.50" x2="52.8" y2="12.50"/>
</g>
<rect x="56.5" y="12.5" width="346.0" height="265.5" fill="none" stroke="#000" stroke-width="0.83"/>
<text class="tk" transform="translate(56.50,295.80) scale(1,1.01)" text-anchor="middle">−6</text>
<text class="tk" transform="translate(114.17,295.80) scale(1,1.01)" text-anchor="middle">−4</text>
<text class="tk" transform="translate(171.83,295.80) scale(1,1.01)" text-anchor="middle">−2</text>
<text class="tk" transform="translate(229.50,295.80) scale(1,1.01)" text-anchor="middle">0</text>
<text class="tk" transform="translate(287.17,295.80) scale(1,1.01)" text-anchor="middle">2</text>
<text class="tk" transform="translate(344.83,295.80) scale(1,1.01)" text-anchor="middle">4</text>
<text class="tk" transform="translate(402.50,295.80) scale(1,1.01)" text-anchor="middle">6</text>
<text class="tk" transform="translate(49.50,283.10) scale(1,1.01)" text-anchor="end">−3</text>
<text class="tk" transform="translate(49.50,238.85) scale(1,1.01)" text-anchor="end">−2</text>
<text class="tk" transform="translate(49.50,194.60) scale(1,1.01)" text-anchor="end">−1</text>
<text class="tk" transform="translate(49.50,150.35) scale(1,1.01)" text-anchor="end">0</text>
<text class="tk" transform="translate(49.50,106.10) scale(1,1.01)" text-anchor="end">1</text>
<text class="tk" transform="translate(49.50,61.85) scale(1,1.01)" text-anchor="end">2</text>
<text class="tk" transform="translate(49.50,17.60) scale(1,1.01)" text-anchor="end">3</text>
<text class="lb" x="229.50" y="315.3" text-anchor="middle"><tspan class="it">w</tspan>/Γ</text>
<text class="lb" transform="translate(19.5,145.25) rotate(-90)" text-anchor="middle" letter-spacing="0.3">ℜΣ(<tspan class="it">w</tspan>)/Γ</text>
<text class="pn" x="74.00" y="39.2">(a)</text>
<rect x="284.40" y="158.3" width="111.4" height="111.7" rx="2.1" fill="#fff" fill-opacity="0.8" stroke="#ccc" stroke-width="1.04"/>
<line x1="289.70" y1="170.60" x2="319.70" y2="170.60" stroke="#000" stroke-width="1.25" stroke-dasharray="3.9 1.7"/>
<text class="lg" transform="translate(0,174.70) scale(1,1.01)"><tspan class="it" x="331.00">T</tspan><tspan x="342.60">=</tspan><tspan x="357.50">0</tspan></text>
<line x1="289.90" y1="192.20" x2="319.40" y2="192.20" stroke="#0000ff" stroke-width="2.07" stroke-linecap="square"/>
<text class="lg" transform="translate(0,196.45) scale(1,1.01)"><tspan class="it" x="331.00">T</tspan><tspan x="342.60">=</tspan><tspan x="357.50">0.1Γ</tspan></text>
<line x1="289.90" y1="213.80" x2="319.40" y2="213.80" stroke="#006400" stroke-width="2.07" stroke-linecap="square"/>
<text class="lg" transform="translate(0,218.20) scale(1,1.01)"><tspan class="it" x="331.00">T</tspan><tspan x="342.60">=</tspan><tspan x="357.50">0.3Γ</tspan></text>
<line x1="289.90" y1="235.40" x2="319.40" y2="235.40" stroke="#ff8c00" stroke-width="2.07" stroke-linecap="square"/>
<text class="lg" transform="translate(0,239.95) scale(1,1.01)"><tspan class="it" x="331.00">T</tspan><tspan x="342.60">=</tspan><tspan x="357.50">0.5Γ</tspan></text>
<line x1="289.90" y1="257.00" x2="319.40" y2="257.00" stroke="#ff0000" stroke-width="2.07" stroke-linecap="square"/>
<text class="lg" transform="translate(0,261.70) scale(1,1.01)"><tspan class="it" x="331.00">T</tspan><tspan x="342.60">=</tspan><tspan x="357.50">Γ</tspan></text>
<clipPath id="c1"><rect x="472.0" y="12.5" width="346.5" height="265.5"/></clipPath>
<g clip-path="url(#c1)" fill="none" stroke-linejoin="round">
<path d="M472.00,48.41 L472.72,48.58 L473.44,48.76 L474.17,48.94 L474.89,49.13 L475.61,49.31 L476.33,49.50 L477.05,49.68 L477.77,49.87 L478.50,50.07 L479.22,50.26 L479.94,50.45 L480.66,50.65 L481.38,50.85 L482.11,51.05 L482.83,51.25 L483.55,51.46 L484.27,51.66 L484.99,51.87 L485.72,52.08 L486.44,52.29 L487.16,52.51 L487.88,52.73 L488.60,52.94 L489.32,53.17 L490.05,53.39 L490.77,53.61 L491.49,53.84 L492.21,54.07 L492.93,54.30 L493.66,54.54 L494.38,54.78 L495.10,55.02 L495.82,55.26 L496.54,55.50 L497.27,55.75 L497.99,56.00 L498.71,56.25 L499.43,56.51 L500.15,56.77 L500.88,57.03 L501.60,57.29 L502.32,57.55 L503.04,57.82 L503.76,58.10 L504.48,58.37 L505.21,58.65 L505.93,58.93 L506.65,59.21 L507.37,59.50 L508.09,59.79 L508.82,60.08 L509.54,60.38 L510.26,60.68 L510.98,60.98 L511.70,61.29 L512.42,61.60 L513.15,61.91 L513.87,62.23 L514.59,62.55 L515.31,62.87 L516.03,63.20 L516.76,63.54 L517.48,63.88 L518.20,64.22 L518.92,64.56 L519.64,64.91 L520.37,65.27 L521.09,65.63 L521.81,65.99 L522.53,66.36 L523.25,66.73 L523.98,67.10 L524.70,67.48 L525.42,67.87 L526.14,68.26 L526.86,68.65 L527.58,69.05 L528.31,69.46 L529.03,69.87 L529.75,70.28 L530.47,70.70 L531.19,71.13 L531.92,71.56 L532.64,71.99 L533.36,72.44 L534.08,72.88 L534.80,73.34 L535.52,73.80 L536.25,74.26 L536.97,74.73 L537.69,75.21 L538.41,75.70 L539.13,76.19 L539.86,76.68 L540.58,77.19 L541.30,77.70 L542.02,78.22 L542.74,78.74 L543.47,79.28 L544.19,79.82 L544.91,80.36 L545.63,80.91 L546.35,81.47 L547.08,82.04 L547.80,82.62 L548.52,83.21 L549.24,83.80 L549.96,84.40 L550.68,85.01 L551.41,85.63 L552.13,86.26 L552.85,86.90 L553.57,87.55 L554.29,88.21 L555.02,88.88 L555.74,89.55 L556.46,90.24 L557.18,90.94 L557.90,91.65 L558.62,92.37 L559.35,93.10 L560.07,93.84 L560.79,94.60 L561.51,95.36 L562.23,96.14 L562.96,96.93 L563.68,97.73 L564.40,98.55 L565.12,99.38 L565.84,100.22 L566.57,101.07 L567.29,101.94 L568.01,102.82 L568.73,103.72 L569.45,104.63 L570.17,105.56 L570.90,106.50 L571.62,107.46 L572.34,108.43 L573.06,109.42 L573.78,110.42 L574.51,111.45 L575.23,112.48 L575.95,113.54 L576.67,114.61 L577.39,115.70 L578.12,116.81 L578.84,117.94 L579.56,119.09 L580.28,120.25 L581.00,121.43 L581.73,122.64 L582.45,123.86 L583.17,125.11 L583.89,126.37 L584.61,127.66 L585.33,128.96 L586.06,130.29 L586.78,131.64 L587.50,133.01 L588.22,134.41 L588.94,135.82 L589.67,137.26 L590.39,138.72 L591.11,140.22 L591.83,141.76 L592.55,143.35 L593.27,144.99 L594.00,146.66 L594.72,148.38 L595.44,150.13 L596.16,151.92 L596.88,153.75 L597.61,155.60 L598.33,157.48 L599.05,159.38 L599.77,161.30 L600.49,163.24 L601.22,165.19 L601.94,167.15 L602.66,169.12 L603.38,171.08 L604.10,173.05 L604.83,175.01 L605.55,176.96 L606.27,178.90 L606.99,180.83 L607.71,182.75 L608.43,184.66 L609.16,186.57 L609.88,188.49 L610.60,190.41 L611.32,192.32 L612.04,194.23 L612.77,196.13 L613.49,198.01 L614.21,199.89 L614.93,201.74 L615.65,203.57 L616.38,205.38 L616.52,205.73 L616.66,206.09 L616.81,206.45 L616.95,206.80 L617.10,207.15 L617.24,207.50 L617.39,207.85 L617.53,208.20 L617.67,208.54 L617.82,208.89 L617.96,209.23 L618.11,209.57 L618.25,209.91 L618.40,210.24 L618.54,210.58 L618.68,210.91 L618.83,211.24 L618.97,211.57 L619.12,211.90 L619.26,212.22 L619.41,212.54 L619.55,212.86 L619.70,213.18 L619.84,213.50 L619.98,213.81 L620.13,214.12 L620.27,214.43 L620.42,214.73 L620.56,215.04 L620.71,215.34 L620.85,215.63 L621.00,215.93 L621.14,216.22 L621.28,216.50 L621.43,216.79 L621.57,217.07 L621.72,217.35 L621.86,217.62 L622.01,217.89 L622.15,218.16 L622.29,218.43 L622.44,218.69 L622.58,218.94 L622.73,219.20 L622.87,219.45 L623.02,219.69 L623.16,219.93 L623.31,220.17 L623.45,220.40 L623.59,220.63 L623.74,220.85 L623.88,221.07 L624.03,221.28 L624.17,221.49 L624.32,221.69 L624.46,221.89 L624.60,222.09 L624.75,222.28 L624.89,222.46 L625.04,222.64 L625.18,222.81 L625.33,222.97 L625.47,223.13 L625.62,223.29 L625.76,223.43 L625.90,223.57 L626.05,223.71 L626.19,223.84 L626.34,223.96 L626.48,224.07 L626.63,224.18 L626.77,224.28 L626.91,224.37 L627.06,224.46 L627.20,224.53 L627.35,224.60 L627.49,224.66 L627.64,224.72 L627.78,224.76 L627.92,224.79 L628.07,224.82 L628.21,224.84 L628.36,224.85 L628.50,224.84 L628.65,224.83 L628.79,224.81 L628.94,224.78 L629.08,224.74 L629.22,224.68 L629.37,224.62 L629.51,224.54 L629.66,224.46 L629.80,224.36 L629.95,224.25 L630.09,224.13 L630.24,223.99 L630.38,223.84 L630.52,223.68 L630.67,223.51 L630.81,223.32 L630.96,223.12 L631.10,222.90 L631.25,222.67 L631.39,222.42 L631.53,222.16 L631.68,221.88 L631.82,221.59 L631.97,221.28 L632.11,220.95 L632.26,220.61 L632.40,220.24 L632.54,219.86 L632.69,219.47 L632.83,219.05 L632.98,218.61 L633.12,218.16 L633.27,217.68 L633.41,217.18 L633.56,216.67 L633.70,216.13 L633.84,215.56 L633.99,214.98 L634.13,214.37 L634.28,213.74 L634.42,213.09 L634.57,212.41 L634.71,211.71 L634.86,210.98 L635.00,210.23 L635.14,209.45 L635.29,208.64 L635.43,207.81 L635.58,206.95 L635.72,206.06 L635.87,205.14 L636.01,204.19 L636.15,203.21 L636.30,202.20 L636.44,201.16 L636.59,200.09 L636.73,198.98 L636.88,197.85 L637.02,196.68 L637.16,195.47 L637.31,194.23 L637.45,192.96 L637.60,191.65 L637.74,190.31 L637.89,188.93 L638.03,187.51 L638.18,186.05 L638.32,184.55 L638.46,183.02 L638.61,181.45 L638.75,179.83 L638.90,178.17 L639.04,176.47 L639.19,174.73 L639.33,172.94 L639.48,171.11 L639.62,169.22 L639.76,167.29 L639.91,165.31 L640.05,163.28 L640.20,161.19 L640.34,159.04 L640.49,156.84 L640.63,154.57 L640.77,152.23 L640.92,149.82 L641.06,147.33 L641.21,144.76 L641.35,142.10 L641.50,139.35 L641.64,136.49 L641.78,133.52 L641.93,130.42 L642.07,127.19 L642.22,123.81 L642.36,120.27 L642.39,119.54 L642.42,118.81 L642.45,118.06 L642.48,117.31 L642.51,116.55 L642.54,115.79 L642.56,115.02 L642.59,114.24 L642.62,113.45 L642.65,112.65 L642.68,111.84 L642.71,111.03 L642.74,110.21 L642.77,109.38 L642.80,108.54 L642.82,107.69 L642.85,106.83 L642.88,105.97 L642.91,105.09 L642.94,104.20 L642.97,103.31 L643.00,102.41 L643.03,101.49 L643.06,100.57 L643.08,99.64 L643.11,98.69 L643.14,97.74 L643.17,96.77 L643.20,95.80 L643.23,94.82 L643.26,93.82 L643.29,92.82 L643.32,91.80 L643.34,90.78 L643.37,89.74 L643.40,88.69 L643.43,87.64 L643.46,86.57 L643.49,85.49 L643.52,84.40 L643.55,83.30 L643.58,82.19 L643.60,81.08 L643.63,79.95 L643.66,78.81 L643.69,77.66 L643.72,76.50 L643.75,75.34 L643.78,74.17 L643.81,72.98 L643.84,71.79 L643.86,70.60 L643.89,69.40 L643.92,68.19 L643.95,66.97 L643.98,65.75 L644.01,64.53 L644.04,63.31 L644.07,62.09 L644.10,60.86 L644.12,59.64 L644.15,58.42 L644.18,57.20 L644.21,55.99 L644.24,54.79 L644.27,53.60 L644.30,52.43 L644.33,51.26 L644.35,50.12 L644.38,49.00 L644.41,47.91 L644.44,46.85 L644.47,45.82 L644.50,44.82 L644.53,43.87 L644.56,42.97 L644.59,42.12 L644.61,41.33 L644.64,40.60 L644.67,39.93 L644.70,39.35 L644.73,38.83 L644.76,38.40 L644.79,38.05 L644.82,37.78 L644.85,37.58 L644.87,37.45 L644.90,37.37 L644.93,37.31 L644.96,37.23 L644.99,37.09 L645.02,36.81 L645.05,36.29 L645.08,35.44 L645.11,34.12 L645.13,32.28 L645.16,29.94 L645.19,27.42 L645.22,25.36 L645.25,24.55 L645.28,25.36 L645.31,27.42 L645.34,29.94 L645.37,32.28 L645.39,34.12 L645.42,35.44 L645.45,36.29 L645.48,36.81 L645.51,37.09 L645.54,37.23 L645.57,37.31 L645.60,37.37 L645.63,37.45 L645.65,37.58 L645.68,37.78 L645.71,38.05 L645.74,38.40 L645.77,38.83 L645.80,39.35 L645.83,39.93 L645.86,40.60 L645.89,41.33 L645.91,42.12 L645.94,42.97 L645.97,43.87 L646.00,44.82 L646.03,45.82 L646.06,46.85 L646.09,47.91 L646.12,49.00 L646.15,50.12 L646.17,51.26 L646.20,52.43 L646.23,53.60 L646.26,54.79 L646.29,55.99 L646.32,57.20 L646.35,58.42 L646.38,59.64 L646.40,60.86 L646.43,62.09 L646.46,63.31 L646.49,64.53 L646.52,65.75 L646.55,66.97 L646.58,68.19 L646.61,69.40 L646.64,70.60 L646.66,71.79 L646.69,72.98 L646.72,74.17 L646.75,75.34 L646.78,76.50 L646.81,77.66 L646.84,78.81 L646.87,79.95 L646.90,81.08 L646.92,82.19 L646.95,83.30 L646.98,84.40 L647.01,85.49 L647.04,86.57 L647.07,87.64 L647.10,88.69 L647.13,89.74 L647.16,90.78 L647.18,91.80 L647.21,92.82 L647.24,93.82 L647.27,94.82 L647.30,95.80 L647.33,96.77 L647.36,97.74 L647.39,98.69 L647.42,99.64 L647.44,100.57 L647.47,101.49 L647.50,102.41 L647.53,103.31 L647.56,104.20 L647.59,105.09 L647.62,105.97 L647.65,106.83 L647.68,107.69 L647.70,108.54 L647.73,109.38 L647.76,110.21 L647.79,111.03 L647.82,111.84 L647.85,112.65 L647.88,113.45 L647.91,114.24 L647.94,115.02 L647.96,115.79 L647.99,116.55 L648.02,117.31 L648.05,118.06 L648.08,118.81 L648.11,119.54 L648.14,120.27 L648.28,123.81 L648.43,127.19 L648.57,130.42 L648.72,133.52 L648.86,136.49 L649.00,139.35 L649.15,142.10 L649.29,144.76 L649.44,147.33 L649.58,149.82 L649.73,152.23 L649.87,154.57 L650.01,156.84 L650.16,159.04 L650.30,161.19 L650.45,163.28 L650.59,165.31 L650.74,167.29 L650.88,169.22 L651.02,171.11 L651.17,172.94 L651.31,174.73 L651.46,176.47 L651.60,178.17 L651.75,179.83 L651.89,181.45 L652.04,183.02 L652.18,184.55 L652.32,186.05 L652.47,187.51 L652.61,188.93 L652.76,190.31 L652.90,191.65 L653.05,192.96 L653.19,194.23 L653.34,195.47 L653.48,196.68 L653.62,197.85 L653.77,198.98 L653.91,200.09 L654.06,201.16 L654.20,202.20 L654.35,203.21 L654.49,204.19 L654.63,205.14 L654.78,206.06 L654.92,206.95 L655.07,207.81 L655.21,208.64 L655.36,209.45 L655.50,210.23 L655.64,210.98 L655.79,211.71 L655.93,212.41 L656.08,213.09 L656.22,213.74 L656.37,214.37 L656.51,214.98 L656.66,215.56 L656.80,216.13 L656.94,216.67 L657.09,217.18 L657.23,217.68 L657.38,218.16 L657.52,218.61 L657.67,219.05 L657.81,219.47 L657.96,219.86 L658.10,220.24 L658.24,220.61 L658.39,220.95 L658.53,221.28 L658.68,221.59 L658.82,221.88 L658.97,222.16 L659.11,222.42 L659.25,222.67 L659.40,222.90 L659.54,223.12 L659.69,223.32 L659.83,223.51 L659.98,223.68 L660.12,223.84 L660.26,223.99 L660.41,224.13 L660.55,224.25 L660.70,224.36 L660.84,224.46 L660.99,224.54 L661.13,224.62 L661.28,224.68 L661.42,224.74 L661.56,224.78 L661.71,224.81 L661.85,224.83 L662.00,224.84 L662.14,224.85 L662.29,224.84 L662.43,224.82 L662.58,224.79 L662.72,224.76 L662.86,224.72 L663.01,224.66 L663.15,224.60 L663.30,224.53 L663.44,224.46 L663.59,224.37 L663.73,224.28 L663.87,224.18 L664.02,224.07 L664.16,223.96 L664.31,223.84 L664.45,223.71 L664.60,223.57 L664.74,223.43 L664.88,223.29 L665.03,223.13 L665.17,222.97 L665.32,222.81 L665.46,222.64 L665.61,222.46 L665.75,222.28 L665.90,222.09 L666.04,221.89 L666.18,221.69 L666.33,221.49 L666.47,221.28 L666.62,221.07 L666.76,220.85 L666.91,220.63 L667.05,220.40 L667.19,220.17 L667.34,219.93 L667.48,219.69 L667.63,219.45 L667.77,219.20 L667.92,218.94 L668.06,218.69 L668.21,218.43 L668.35,218.16 L668.49,217.89 L668.64,217.62 L668.78,217.35 L668.93,217.07 L669.07,216.79 L669.22,216.50 L669.36,216.22 L669.50,215.93 L669.65,215.63 L669.79,215.34 L669.94,215.04 L670.08,214.73 L670.23,214.43 L670.37,214.12 L670.52,213.81 L670.66,213.50 L670.80,213.18 L670.95,212.86 L671.09,212.54 L671.24,212.22 L671.38,211.90 L671.53,211.57 L671.67,211.24 L671.82,210.91 L671.96,210.58 L672.10,210.24 L672.25,209.91 L672.39,209.57 L672.54,209.23 L672.68,208.89 L672.83,208.54 L672.97,208.20 L673.11,207.85 L673.26,207.50 L673.40,207.15 L673.55,206.80 L673.69,206.45 L673.84,206.09 L673.98,205.73 L674.12,205.38 L674.85,203.57 L675.57,201.74 L676.29,199.89 L677.01,198.01 L677.73,196.13 L678.46,194.23 L679.18,192.32 L679.90,190.41 L680.62,188.49 L681.34,186.57 L682.07,184.66 L682.79,182.75 L683.51,180.83 L684.23,178.90 L684.95,176.96 L685.67,175.01 L686.40,173.05 L687.12,171.08 L687.84,169.12 L688.56,167.15 L689.28,165.19 L690.01,163.24 L690.73,161.30 L691.45,159.38 L692.17,157.48 L692.89,155.60 L693.62,153.75 L694.34,151.92 L695.06,150.13 L695.78,148.38 L696.50,146.66 L697.23,144.99 L697.95,143.35 L698.67,141.76 L699.39,140.22 L700.11,138.72 L700.83,137.26 L701.56,135.82 L702.28,134.41 L703.00,133.01 L703.72,131.64 L704.44,130.29 L705.17,128.96 L705.89,127.66 L706.61,126.37 L707.33,125.11 L708.05,123.86 L708.77,122.64 L709.50,121.43 L710.22,120.25 L710.94,119.09 L711.66,117.94 L712.38,116.81 L713.11,115.70 L713.83,114.61 L714.55,113.54 L715.27,112.48 L715.99,111.45 L716.72,110.42 L717.44,109.42 L718.16,108.43 L718.88,107.46 L719.60,106.50 L720.33,105.56 L721.05,104.63 L721.77,103.72 L722.49,102.82 L723.21,101.94 L723.93,101.07 L724.66,100.22 L725.38,99.38 L726.10,98.55 L726.82,97.73 L727.54,96.93 L728.27,96.14 L728.99,95.36 L729.71,94.60 L730.43,93.84 L731.15,93.10 L731.88,92.37 L732.60,91.65 L733.32,90.94 L734.04,90.24 L734.76,89.55 L735.48,88.88 L736.21,88.21 L736.93,87.55 L737.65,86.90 L738.37,86.26 L739.09,85.63 L739.82,85.01 L740.54,84.40 L741.26,83.80 L741.98,83.21 L742.70,82.62 L743.42,82.04 L744.15,81.47 L744.87,80.91 L745.59,80.36 L746.31,79.82 L747.03,79.28 L747.76,78.74 L748.48,78.22 L749.20,77.70 L749.92,77.19 L750.64,76.68 L751.37,76.19 L752.09,75.70 L752.81,75.21 L753.53,74.73 L754.25,74.26 L754.98,73.80 L755.70,73.34 L756.42,72.88 L757.14,72.44 L757.86,71.99 L758.58,71.56 L759.31,71.13 L760.03,70.70 L760.75,70.28 L761.47,69.87 L762.19,69.46 L762.92,69.05 L763.64,68.65 L764.36,68.26 L765.08,67.87 L765.80,67.48 L766.52,67.10 L767.25,66.73 L767.97,66.36 L768.69,65.99 L769.41,65.63 L770.13,65.27 L770.86,64.91 L771.58,64.56 L772.30,64.22 L773.02,63.88 L773.74,63.54 L774.47,63.20 L775.19,62.87 L775.91,62.55 L776.63,62.23 L777.35,61.91 L778.08,61.60 L778.80,61.29 L779.52,60.98 L780.24,60.68 L780.96,60.38 L781.68,60.08 L782.41,59.79 L783.13,59.50 L783.85,59.21 L784.57,58.93 L785.29,58.65 L786.02,58.37 L786.74,58.10 L787.46,57.82 L788.18,57.55 L788.90,57.29 L789.62,57.03 L790.35,56.77 L791.07,56.51 L791.79,56.25 L792.51,56.00 L793.23,55.75 L793.96,55.50 L794.68,55.26 L795.40,55.02 L796.12,54.78 L796.84,54.54 L797.57,54.30 L798.29,54.07 L799.01,53.84 L799.73,53.61 L800.45,53.39 L801.17,53.17 L801.90,52.94 L802.62,52.73 L803.34,52.51 L804.06,52.29 L804.78,52.08 L805.51,51.87 L806.23,51.66 L806.95,51.46 L807.67,51.25 L808.39,51.05 L809.12,50.85 L809.84,50.65 L810.56,50.45 L811.28,50.26 L812.00,50.07 L812.73,49.87 L813.45,49.68 L814.17,49.50 L814.89,49.31 L815.61,49.13 L816.33,48.94 L817.06,48.76 L817.78,48.58 L818.50,48.41" stroke="#000000" stroke-width="1.25" stroke-dasharray="3.9 1.7" stroke-dashoffset="1.30"/>
<path d="M472.00,48.41 L472.72,48.58 L473.44,48.76 L474.17,48.94 L474.89,49.13 L475.61,49.31 L476.33,49.50 L477.05,49.68 L477.77,49.87 L478.50,50.07 L479.22,50.26 L479.94,50.45 L480.66,50.65 L481.38,50.85 L482.11,51.05 L482.83,51.25 L483.55,51.46 L484.27,51.66 L484.99,51.87 L485.72,52.08 L486.44,52.29 L487.16,52.51 L487.88,52.73 L488.60,52.94 L489.32,53.17 L490.05,53.39 L490.77,53.61 L491.49,53.84 L492.21,54.07 L492.93,54.30 L493.66,54.54 L494.38,54.78 L495.10,55.02 L495.82,55.26 L496.54,55.50 L497.27,55.75 L497.99,56.00 L498.71,56.25 L499.43,56.51 L500.15,56.77 L500.88,57.03 L501.60,57.29 L502.32,57.55 L503.04,57.82 L503.76,58.10 L504.48,58.37 L505.21,58.65 L505.93,58.93 L506.65,59.21 L507.37,59.50 L508.09,59.79 L508.82,60.08 L509.54,60.38 L510.26,60.68 L510.98,60.98 L511.70,61.29 L512.42,61.60 L513.15,61.91 L513.87,62.23 L514.59,62.55 L515.31,62.87 L516.03,63.20 L516.76,63.54 L517.48,63.88 L518.20,64.22 L518.92,64.56 L519.64,64.91 L520.37,65.27 L521.09,65.63 L521.81,65.99 L522.53,66.36 L523.25,66.73 L523.98,67.10 L524.70,67.48 L525.42,67.87 L526.14,68.26 L526.86,68.65 L527.58,69.05 L528.31,69.46 L529.03,69.87 L529.75,70.28 L530.47,70.70 L531.19,71.13 L531.92,71.56 L532.64,71.99 L533.36,72.44 L534.08,72.88 L534.80,73.34 L535.52,73.80 L536.25,74.26 L536.97,74.73 L537.69,75.21 L538.41,75.70 L539.13,76.19 L539.86,76.68 L540.58,77.19 L541.30,77.70 L542.02,78.22 L542.74,78.74 L543.47,79.28 L544.19,79.82 L544.91,80.36 L545.63,80.91 L546.35,81.47 L547.08,82.04 L547.80,82.62 L548.52,83.21 L549.24,83.80 L549.96,84.40 L550.68,85.01 L551.41,85.63 L552.13,86.26 L552.85,86.90 L553.57,87.55 L554.29,88.21 L555.02,88.88 L555.74,89.55 L556.46,90.24 L557.18,90.94 L557.90,91.65 L558.62,92.37 L559.35,93.10 L560.07,93.84 L560.79,94.60 L561.51,95.36 L562.23,96.14 L562.96,96.93 L563.68,97.73 L564.40,98.55 L565.12,99.38 L565.84,100.22 L566.57,101.07 L567.29,101.94 L568.01,102.82 L568.73,103.72 L569.45,104.63 L570.17,105.56 L570.90,106.50 L571.62,107.46 L572.34,108.43 L573.06,109.42 L573.78,110.42 L574.51,111.45 L575.23,112.48 L575.95,113.54 L576.67,114.61 L577.39,115.70 L578.12,116.81 L578.84,117.94 L579.56,119.09 L580.28,120.25 L581.00,121.43 L581.73,122.64 L582.45,123.86 L583.17,125.11 L583.89,126.37 L584.61,127.66 L585.33,128.96 L586.06,130.29 L586.78,131.64 L587.50,133.01 L588.22,134.41 L588.94,135.82 L589.67,137.26 L590.39,138.72 L591.11,140.21 L591.83,141.73 L592.55,143.29 L593.27,144.87 L594.00,146.48 L594.72,148.11 L595.44,149.77 L596.16,151.46 L596.88,153.16 L597.61,154.89 L598.33,156.63 L599.05,158.39 L599.77,160.17 L600.49,161.96 L601.22,163.76 L601.94,165.58 L602.66,167.41 L603.38,169.24 L604.10,171.09 L604.83,172.94 L605.55,174.80 L606.27,176.67 L606.99,178.55 L607.71,180.44 L608.43,182.34 L609.16,184.25 L609.88,186.15 L610.60,188.06 L611.32,189.97 L612.04,191.88 L612.77,193.77 L613.49,195.66 L614.21,197.52 L614.93,199.37 L615.65,201.19 L616.38,202.99 L616.52,203.34 L616.66,203.69 L616.81,204.04 L616.95,204.39 L617.10,204.74 L617.24,205.09 L617.39,205.43 L617.53,205.77 L617.67,206.11 L617.82,206.45 L617.96,206.79 L618.11,207.12 L618.25,207.46 L618.40,207.79 L618.54,208.11 L618.68,208.44 L618.83,208.76 L618.97,209.08 L619.12,209.40 L619.26,209.72 L619.41,210.03 L619.55,210.34 L619.70,210.65 L619.84,210.96 L619.98,211.26 L620.13,211.56 L620.27,211.85 L620.42,212.15 L620.56,212.44 L620.71,212.72 L620.85,213.00 L621.00,213.28 L621.14,213.56 L621.28,213.83 L621.43,214.10 L621.57,214.37 L621.72,214.63 L621.86,214.89 L622.01,215.14 L622.15,215.39 L622.29,215.63 L622.44,215.87 L622.58,216.11 L622.73,216.34 L622.87,216.57 L623.02,216.79 L623.16,217.01 L623.31,217.22 L623.45,217.43 L623.59,217.64 L623.74,217.83 L623.88,218.03 L624.03,218.21 L624.17,218.40 L624.32,218.57 L624.46,218.74 L624.60,218.91 L624.75,219.07 L624.89,219.22 L625.04,219.37 L625.18,219.51 L625.33,219.64 L625.47,219.77 L625.62,219.89 L625.76,220.01 L625.90,220.12 L626.05,220.22 L626.19,220.31 L626.34,220.40 L626.48,220.48 L626.63,220.55 L626.77,220.62 L626.91,220.67 L627.06,220.72 L627.20,220.77 L627.35,220.80 L627.49,220.83 L627.64,220.84 L627.78,220.85 L627.92,220.85 L628.07,220.85 L628.21,220.83 L628.36,220.80 L628.50,220.77 L628.65,220.73 L628.79,220.67 L628.94,220.61 L629.08,220.54 L629.22,220.46 L629.37,220.37 L629.51,220.27 L629.66,220.16 L629.80,220.04 L629.95,219.91 L630.09,219.77 L630.24,219.62 L630.38,219.46 L630.52,219.28 L630.67,219.10 L630.81,218.91 L630.96,218.70 L631.10,218.49 L631.25,218.26 L631.39,218.02 L631.53,217.77 L631.68,217.51 L631.82,217.24 L631.97,216.95 L632.11,216.66 L632.26,216.35 L632.40,216.03 L632.54,215.70 L632.69,215.36 L632.83,215.00 L632.98,214.64 L633.12,214.26 L633.27,213.86 L633.41,213.46 L633.56,213.05 L633.70,212.62 L633.84,212.18 L633.99,211.72 L634.13,211.26 L634.28,210.78 L634.42,210.29 L634.57,209.79 L634.71,209.28 L634.86,208.75 L635.00,208.21 L635.14,207.66 L635.29,207.10 L635.43,206.53 L635.58,205.94 L635.72,205.35 L635.87,204.74 L636.01,204.12 L636.15,203.49 L636.30,202.85 L636.44,202.20 L636.59,201.54 L636.73,200.87 L636.88,200.19 L637.02,199.50 L637.16,198.80 L637.31,198.09 L637.45,197.38 L637.60,196.65 L637.74,195.92 L637.89,195.19 L638.03,194.44 L638.18,193.70 L638.32,192.94 L638.46,192.18 L638.61,191.42 L638.75,190.66 L638.90,189.90 L639.04,189.13 L639.19,188.36 L639.33,187.59 L639.48,186.83 L639.62,186.07 L639.76,185.31 L639.91,184.55 L640.05,183.81 L640.20,183.06 L640.34,182.33 L640.49,181.61 L640.63,180.89 L640.77,180.19 L640.92,179.50 L641.06,178.82 L641.21,178.16 L641.35,177.52 L641.50,176.89 L641.64,176.28 L641.78,175.69 L641.93,175.13 L642.07,174.58 L642.22,174.05 L642.36,173.55 L642.39,173.45 L642.42,173.36 L642.45,173.26 L642.48,173.17 L642.51,173.07 L642.54,172.98 L642.56,172.89 L642.59,172.80 L642.62,172.71 L642.65,172.62 L642.68,172.53 L642.71,172.44 L642.74,172.35 L642.77,172.27 L642.80,172.18 L642.82,172.10 L642.85,172.02 L642.88,171.94 L642.91,171.86 L642.94,171.78 L642.97,171.70 L643.00,171.62 L643.03,171.54 L643.06,171.47 L643.08,171.39 L643.11,171.32 L643.14,171.25 L643.17,171.17 L643.20,171.10 L643.23,171.03 L643.26,170.96 L643.29,170.89 L643.32,170.83 L643.34,170.76 L643.37,170.70 L643.40,170.63 L643.43,170.57 L643.46,170.50 L643.49,170.44 L643.52,170.38 L643.55,170.32 L643.58,170.26 L643.60,170.21 L643.63,170.15 L643.66,170.09 L643.69,170.04 L643.72,169.98 L643.75,169.93 L643.78,169.88 L643.81,169.83 L643.84,169.77 L643.86,169.72 L643.89,169.68 L643.92,169.63 L643.95,169.58 L643.98,169.53 L644.01,169.49 L644.04,169.45 L644.07,169.40 L644.10,169.36 L644.12,169.32 L644.15,169.28 L644.18,169.24 L644.21,169.20 L644.24,169.16 L644.27,169.12 L644.30,169.09 L644.33,169.05 L644.35,169.02 L644.38,168.99 L644.41,168.96 L644.44,168.92 L644.47,168.89 L644.50,168.87 L644.53,168.84 L644.56,168.81 L644.59,168.78 L644.61,168.76 L644.64,168.74 L644.67,168.71 L644.70,168.69 L644.73,168.67 L644.76,168.65 L644.79,168.63 L644.82,168.61 L644.85,168.60 L644.87,168.58 L644.90,168.57 L644.93,168.56 L644.96,168.54 L644.99,168.53 L645.02,168.52 L645.05,168.51 L645.08,168.51 L645.11,168.50 L645.13,168.50 L645.16,168.49 L645.19,168.49 L645.22,168.49 L645.25,168.49 L645.28,168.49 L645.31,168.49 L645.34,168.49 L645.37,168.50 L645.39,168.50 L645.42,168.51 L645.45,168.51 L645.48,168.52 L645.51,168.53 L645.54,168.54 L645.57,168.56 L645.60,168.57 L645.63,168.58 L645.65,168.60 L645.68,168.61 L645.71,168.63 L645.74,168.65 L645.77,168.67 L645.80,168.69 L645.83,168.71 L645.86,168.74 L645.89,168.76 L645.91,168.78 L645.94,168.81 L645.97,168.84 L646.00,168.87 L646.03,168.89 L646.06,168.92 L646.09,168.96 L646.12,168.99 L646.15,169.02 L646.17,169.05 L646.20,169.09 L646.23,169.12 L646.26,169.16 L646.29,169.20 L646.32,169.24 L646.35,169.28 L646.38,169.32 L646.40,169.36 L646.43,169.40 L646.46,169.45 L646.49,169.49 L646.52,169.53 L646.55,169.58 L646.58,169.63 L646.61,169.68 L646.64,169.72 L646.66,169.77 L646.69,169.83 L646.72,169.88 L646.75,169.93 L646.78,169.98 L646.81,170.04 L646.84,170.09 L646.87,170.15 L646.90,170.21 L646.92,170.26 L646.95,170.32 L646.98,170.38 L647.01,170.44 L647.04,170.50 L647.07,170.57 L647.10,170.63 L647.13,170.70 L647.16,170.76 L647.18,170.83 L647.21,170.89 L647.24,170.96 L647.27,171.03 L647.30,171.10 L647.33,171.17 L647.36,171.25 L647.39,171.32 L647.42,171.39 L647.44,171.47 L647.47,171.54 L647.50,171.62 L647.53,171.70 L647.56,171.78 L647.59,171.86 L647.62,171.94 L647.65,172.02 L647.68,172.10 L647.70,172.18 L647.73,172.27 L647.76,172.35 L647.79,172.44 L647.82,172.53 L647.85,172.62 L647.88,172.71 L647.91,172.80 L647.94,172.89 L647.96,172.98 L647.99,173.07 L648.02,173.17 L648.05,173.26 L648.08,173.36 L648.11,173.45 L648.14,173.55 L648.28,174.05 L648.43,174.58 L648.57,175.13 L648.72,175.69 L648.86,176.28 L649.00,176.89 L649.15,177.52 L649.29,178.16 L649.44,178.82 L649.58,179.50 L649.73,180.19 L649.87,180.89 L650.01,181.61 L650.16,182.33 L650.30,183.06 L650.45,183.81 L650.59,184.55 L650.74,185.31 L650.88,186.07 L651.02,186.83 L651.17,187.59 L651.31,188.36 L651.46,189.13 L651.60,189.90 L651.75,190.66 L651.89,191.42 L652.04,192.18 L652.18,192.94 L652.32,193.70 L652.47,194.44 L652.61,195.19 L652.76,195.92 L652.90,196.65 L653.05,197.38 L653.19,198.09 L653.34,198.80 L653.48,199.50 L653.62,200.19 L653.77,200.87 L653.91,201.54 L654.06,202.20 L654.20,202.85 L654.35,203.49 L654.49,204.12 L654.63,204.74 L654.78,205.35 L654.92,205.94 L655.07,206.53 L655.21,207.10 L655.36,207.66 L655.50,208.21 L655.64,208.75 L655.79,209.28 L655.93,209.79 L656.08,210.29 L656.22,210.78 L656.37,211.26 L656.51,211.72 L656.66,212.18 L656.80,212.62 L656.94,213.05 L657.09,213.46 L657.23,213.86 L657.38,214.26 L657.52,214.64 L657.67,215.00 L657.81,215.36 L657.96,215.70 L658.10,216.03 L658.24,216.35 L658.39,216.66 L658.53,216.95 L658.68,217.24 L658.82,217.51 L658.97,217.77 L659.11,218.02 L659.25,218.26 L659.40,218.49 L659.54,218.70 L659.69,218.91 L659.83,219.10 L659.98,219.28 L660.12,219.46 L660.26,219.62 L660.41,219.77 L660.55,219.91 L660.70,220.04 L660.84,220.16 L660.99,220.27 L661.13,220.37 L661.28,220.46 L661.42,220.54 L661.56,220.61 L661.71,220.67 L661.85,220.73 L662.00,220.77 L662.14,220.80 L662.29,220.83 L662.43,220.85 L662.58,220.85 L662.72,220.85 L662.86,220.84 L663.01,220.83 L663.15,220.80 L663.30,220.77 L663.44,220.72 L663.59,220.67 L663.73,220.62 L663.87,220.55 L664.02,220.48 L664.16,220.40 L664.31,220.31 L664.45,220.22 L664.60,220.12 L664.74,220.01 L664.88,219.89 L665.03,219.77 L665.17,219.64 L665.32,219.51 L665.46,219.37 L665.61,219.22 L665.75,219.07 L665.90,218.91 L666.04,218.74 L666.18,218.57 L666.33,218.40 L666.47,218.21 L666.62,218.03 L666.76,217.83 L666.91,217.64 L667.05,217.43 L667.19,217.22 L667.34,217.01 L667.48,216.79 L667.63,216.57 L667.77,216.34 L667.92,216.11 L668.06,215.87 L668.21,215.63 L668.35,215.39 L668.49,215.14 L668.64,214.89 L668.78,214.63 L668.93,214.37 L669.07,214.10 L669.22,213.83 L669.36,213.56 L669.50,213.28 L669.65,213.00 L669.79,212.72 L669.94,212.44 L670.08,212.15 L670.23,211.85 L670.37,211.56 L670.52,211.26 L670.66,210.96 L670.80,210.65 L670.95,210.34 L671.09,210.03 L671.24,209.72 L671.38,209.40 L671.53,209.08 L671.67,208.76 L671.82,208.44 L671.96,208.11 L672.10,207.79 L672.25,207.46 L672.39,207.12 L672.54,206.79 L672.68,206.45 L672.83,206.11 L672.97,205.77 L673.11,205.43 L673.26,205.09 L673.40,204.74 L673.55,204.39 L673.69,204.04 L673.84,203.69 L673.98,203.34 L674.12,202.99 L674.85,201.19 L675.57,199.37 L676.29,197.52 L677.01,195.66 L677.73,193.77 L678.46,191.88 L679.18,189.97 L679.90,188.06 L680.62,186.15 L681.34,184.25 L682.07,182.34 L682.79,180.44 L683.51,178.55 L684.23,176.67 L684.95,174.80 L685.67,172.94 L686.40,171.09 L687.12,169.24 L687.84,167.41 L688.56,165.58 L689.28,163.76 L690.01,161.96 L690.73,160.17 L691.45,158.39 L692.17,156.63 L692.89,154.89 L693.62,153.16 L694.34,151.46 L695.06,149.77 L695.78,148.11 L696.50,146.48 L697.23,144.87 L697.95,143.29 L698.67,141.73 L699.39,140.21 L700.11,138.72 L700.83,137.26 L701.56,135.82 L702.28,134.41 L703.00,133.01 L703.72,131.64 L704.44,130.29 L705.17,128.96 L705.89,127.66 L706.61,126.37 L707.33,125.11 L708.05,123.86 L708.77,122.64 L709.50,121.43 L710.22,120.25 L710.94,119.09 L711.66,117.94 L712.38,116.81 L713.11,115.70 L713.83,114.61 L714.55,113.54 L715.27,112.48 L715.99,111.45 L716.72,110.42 L717.44,109.42 L718.16,108.43 L718.88,107.46 L719.60,106.50 L720.33,105.56 L721.05,104.63 L721.77,103.72 L722.49,102.82 L723.21,101.94 L723.93,101.07 L724.66,100.22 L725.38,99.38 L726.10,98.55 L726.82,97.73 L727.54,96.93 L728.27,96.14 L728.99,95.36 L729.71,94.60 L730.43,93.84 L731.15,93.10 L731.88,92.37 L732.60,91.65 L733.32,90.94 L734.04,90.24 L734.76,89.55 L735.48,88.88 L736.21,88.21 L736.93,87.55 L737.65,86.90 L738.37,86.26 L739.09,85.63 L739.82,85.01 L740.54,84.40 L741.26,83.80 L741.98,83.21 L742.70,82.62 L743.42,82.04 L744.15,81.47 L744.87,80.91 L745.59,80.36 L746.31,79.82 L747.03,79.28 L747.76,78.74 L748.48,78.22 L749.20,77.70 L749.92,77.19 L750.64,76.68 L751.37,76.19 L752.09,75.70 L752.81,75.21 L753.53,74.73 L754.25,74.26 L754.98,73.80 L755.70,73.34 L756.42,72.88 L757.14,72.44 L757.86,71.99 L758.58,71.56 L759.31,71.13 L760.03,70.70 L760.75,70.28 L761.47,69.87 L762.19,69.46 L762.92,69.05 L763.64,68.65 L764.36,68.26 L765.08,67.87 L765.80,67.48 L766.52,67.10 L767.25,66.73 L767.97,66.36 L768.69,65.99 L769.41,65.63 L770.13,65.27 L770.86,64.91 L771.58,64.56 L772.30,64.22 L773.02,63.88 L773.74,63.54 L774.47,63.20 L775.19,62.87 L775.91,62.55 L776.63,62.23 L777.35,61.91 L778.08,61.60 L778.80,61.29 L779.52,60.98 L780.24,60.68 L780.96,60.38 L781.68,60.08 L782.41,59.79 L783.13,59.50 L783.85,59.21 L784.57,58.93 L785.29,58.65 L786.02,58.37 L786.74,58.10 L787.46,57.82 L788.18,57.55 L788.90,57.29 L789.62,57.03 L790.35,56.77 L791.07,56.51 L791.79,56.25 L792.51,56.00 L793.23,55.75 L793.96,55.50 L794.68,55.26 L795.40,55.02 L796.12,54.78 L796.84,54.54 L797.57,54.30 L798.29,54.07 L799.01,53.84 L799.73,53.61 L800.45,53.39 L801.17,53.17 L801.90,52.94 L802.62,52.73 L803.34,52.51 L804.06,52.29 L804.78,52.08 L805.51,51.87 L806.23,51.66 L806.95,51.46 L807.67,51.25 L808.39,51.05 L809.12,50.85 L809.84,50.65 L810.56,50.45 L811.28,50.26 L812.00,50.07 L812.73,49.87 L813.45,49.68 L814.17,49.50 L814.89,49.31 L815.61,49.13 L816.33,48.94 L817.06,48.76 L817.78,48.58 L818.50,48.41" stroke="#0000ff" stroke-width="2.07" stroke-linecap="square"/>
<path d="M472.00,48.83 L472.72,49.00 L473.44,49.18 L474.17,49.36 L474.89,49.54 L475.61,49.72 L476.33,49.91 L477.05,50.09 L477.77,50.28 L478.50,50.47 L479.22,50.66 L479.94,50.85 L480.66,51.05 L481.38,51.24 L482.11,51.44 L482.83,51.64 L483.55,51.84 L484.27,52.05 L484.99,52.26 L485.72,52.46 L486.44,52.67 L487.16,52.89 L487.88,53.10 L488.60,53.32 L489.32,53.54 L490.05,53.76 L490.77,53.98 L491.49,54.21 L492.21,54.44 L492.93,54.67 L493.66,54.90 L494.38,55.13 L495.10,55.37 L495.82,55.61 L496.54,55.85 L497.27,56.10 L497.99,56.35 L498.71,56.60 L499.43,56.85 L500.15,57.11 L500.88,57.36 L501.60,57.62 L502.32,57.89 L503.04,58.16 L503.76,58.42 L504.48,58.70 L505.21,58.97 L505.93,59.25 L506.65,59.53 L507.37,59.82 L508.09,60.11 L508.82,60.40 L509.54,60.69 L510.26,60.99 L510.98,61.29 L511.70,61.59 L512.42,61.90 L513.15,62.21 L513.87,62.53 L514.59,62.85 L515.31,63.17 L516.03,63.49 L516.76,63.81 L517.48,64.13 L518.20,64.46 L518.92,64.80 L519.64,65.13 L520.37,65.48 L521.09,65.82 L521.81,66.17 L522.53,66.53 L523.25,66.88 L523.98,67.25 L524.70,67.61 L525.42,67.99 L526.14,68.36 L526.86,68.75 L527.58,69.13 L528.31,69.53 L529.03,69.92 L529.75,70.32 L530.47,70.73 L531.19,71.14 L531.92,71.56 L532.64,71.99 L533.36,72.42 L534.08,72.85 L534.80,73.29 L535.52,73.74 L536.25,74.19 L536.97,74.65 L537.69,75.11 L538.41,75.59 L539.13,76.06 L539.86,76.55 L540.58,77.04 L541.30,77.54 L542.02,78.04 L542.74,78.56 L543.47,79.08 L544.19,79.60 L544.91,80.13 L545.63,80.66 L546.35,81.20 L547.08,81.74 L547.80,82.30 L548.52,82.86 L549.24,83.43 L549.96,84.01 L550.68,84.60 L551.41,85.20 L552.13,85.80 L552.85,86.42 L553.57,87.04 L554.29,87.68 L555.02,88.32 L555.74,88.98 L556.46,89.65 L557.18,90.32 L557.90,91.01 L558.62,91.71 L559.35,92.41 L560.07,93.13 L560.79,93.87 L561.51,94.61 L562.23,95.36 L562.96,96.13 L563.68,96.91 L564.40,97.70 L565.12,98.51 L565.84,99.33 L566.57,100.17 L567.29,101.01 L568.01,101.87 L568.73,102.75 L569.45,103.64 L570.17,104.55 L570.90,105.47 L571.62,106.40 L572.34,107.35 L573.06,108.32 L573.78,109.30 L574.51,110.31 L575.23,111.32 L575.95,112.36 L576.67,113.41 L577.39,114.48 L578.12,115.57 L578.84,116.67 L579.56,117.82 L580.28,118.98 L581.00,120.17 L581.73,121.37 L582.45,122.59 L583.17,123.84 L583.89,125.10 L584.61,126.39 L585.33,127.70 L586.06,129.02 L586.78,130.37 L587.50,131.74 L588.22,133.14 L588.94,134.55 L589.67,135.99 L590.39,137.46 L591.11,138.95 L591.83,140.47 L592.55,142.02 L593.27,143.60 L594.00,145.20 L594.72,146.82 L595.44,148.45 L596.16,150.10 L596.88,151.75 L597.61,153.41 L598.33,155.06 L599.05,156.73 L599.77,158.38 L600.49,160.04 L601.22,161.69 L601.94,163.34 L602.66,164.99 L603.38,166.64 L604.10,168.28 L604.83,169.93 L605.55,171.59 L606.27,173.27 L606.99,174.96 L607.71,176.68 L608.43,178.43 L609.16,180.18 L609.88,181.93 L610.60,183.69 L611.32,185.45 L612.04,187.21 L612.77,188.97 L613.49,190.73 L614.21,192.48 L614.93,194.23 L615.65,195.96 L616.38,197.69 L616.52,198.04 L616.66,198.38 L616.81,198.72 L616.95,199.06 L617.10,199.41 L617.24,199.75 L617.39,200.09 L617.53,200.43 L617.67,200.77 L617.82,201.10 L617.96,201.44 L618.11,201.78 L618.25,202.12 L618.40,202.45 L618.54,202.79 L618.68,203.12 L618.83,203.45 L618.97,203.79 L619.12,204.12 L619.26,204.45 L619.41,204.78 L619.55,205.11 L619.70,205.43 L619.84,205.76 L619.98,206.08 L620.13,206.41 L620.27,206.73 L620.42,207.06 L620.56,207.38 L620.71,207.70 L620.85,208.02 L621.00,208.33 L621.14,208.65 L621.28,208.97 L621.43,209.28 L621.57,209.59 L621.72,209.91 L621.86,210.22 L622.01,210.52 L622.15,210.83 L622.29,211.14 L622.44,211.44 L622.58,211.75 L622.73,212.05 L622.87,212.35 L623.02,212.65 L623.16,212.95 L623.31,213.24 L623.45,213.54 L623.59,213.83 L623.74,214.12 L623.88,214.41 L624.03,214.70 L624.17,214.99 L624.32,215.27 L624.46,215.55 L624.60,215.83 L624.75,216.11 L624.89,216.39 L625.04,216.67 L625.18,216.94 L625.33,217.21 L625.47,217.48 L625.62,217.75 L625.76,218.02 L625.90,218.28 L626.05,218.54 L626.19,218.80 L626.34,219.06 L626.48,219.32 L626.63,219.57 L626.77,219.82 L626.91,220.07 L627.06,220.32 L627.20,220.57 L627.35,220.81 L627.49,221.05 L627.64,221.29 L627.78,221.53 L627.92,221.76 L628.07,221.99 L628.21,222.22 L628.36,222.45 L628.50,222.67 L628.65,222.90 L628.79,223.12 L628.94,223.33 L629.08,223.55 L629.22,223.76 L629.37,223.97 L629.51,224.18 L629.66,224.38 L629.80,224.59 L629.95,224.79 L630.09,224.98 L630.24,225.18 L630.38,225.37 L630.52,225.56 L630.67,225.75 L630.81,225.93 L630.96,226.11 L631.10,226.29 L631.25,226.47 L631.39,226.64 L631.53,226.82 L631.68,226.98 L631.82,227.15 L631.97,227.31 L632.11,227.47 L632.26,227.63 L632.40,227.79 L632.54,227.94 L632.69,228.09 L632.83,228.23 L632.98,228.38 L633.12,228.52 L633.27,228.66 L633.41,228.79 L633.56,228.93 L633.70,229.06 L633.84,229.18 L633.99,229.31 L634.13,229.43 L634.28,229.55 L634.42,229.67 L634.57,229.78 L634.71,229.89 L634.86,230.00 L635.00,230.11 L635.14,230.21 L635.29,230.31 L635.43,230.41 L635.58,230.51 L635.72,230.60 L635.87,230.69 L636.01,230.78 L636.15,230.86 L636.30,230.95 L636.44,231.03 L636.59,231.10 L636.73,231.18 L636.88,231.25 L637.02,231.32 L637.16,231.39 L637.31,231.46 L637.45,231.52 L637.60,231.58 L637.74,231.64 L637.89,231.70 L638.03,231.75 L638.18,231.81 L638.32,231.86 L638.46,231.91 L638.61,231.95 L638.75,232.00 L638.90,232.04 L639.04,232.08 L639.19,232.12 L639.33,232.16 L639.48,232.19 L639.62,232.23 L639.76,232.26 L639.91,232.29 L640.05,232.32 L640.20,232.35 L640.34,232.37 L640.49,232.40 L640.63,232.42 L640.77,232.44 L640.92,232.46 L641.06,232.48 L641.21,232.50 L641.35,232.52 L641.50,232.54 L641.64,232.55 L641.78,232.56 L641.93,232.58 L642.07,232.59 L642.22,232.60 L642.36,232.61 L642.39,232.61 L642.42,232.62 L642.45,232.62 L642.48,232.62 L642.51,232.62 L642.54,232.62 L642.56,232.63 L642.59,232.63 L642.62,232.63 L642.65,232.63 L642.68,232.63 L642.71,232.63 L642.74,232.64 L642.77,232.64 L642.80,232.64 L642.82,232.64 L642.85,232.64 L642.88,232.64 L642.91,232.64 L642.94,232.65 L642.97,232.65 L643.00,232.65 L643.03,232.65 L643.06,232.65 L643.08,232.65 L643.11,232.65 L643.14,232.66 L643.17,232.66 L643.20,232.66 L643.23,232.66 L643.26,232.66 L643.29,232.66 L643.32,232.66 L643.34,232.66 L643.37,232.67 L643.40,232.67 L643.43,232.67 L643.46,232.67 L643.49,232.67 L643.52,232.67 L643.55,232.67 L643.58,232.67 L643.60,232.67 L643.63,232.67 L643.66,232.68 L643.69,232.68 L643.72,232.68 L643.75,232.68 L643.78,232.68 L643.81,232.68 L643.84,232.68 L643.86,232.68 L643.89,232.68 L643.92,232.68 L643.95,232.68 L643.98,232.68 L644.01,232.68 L644.04,232.69 L644.07,232.69 L644.10,232.69 L644.12,232.69 L644.15,232.69 L644.18,232.69 L644.21,232.69 L644.24,232.69 L644.27,232.69 L644.30,232.69 L644.33,232.69 L644.35,232.69 L644.38,232.69 L644.41,232.69 L644.44,232.69 L644.47,232.69 L644.50,232.69 L644.53,232.69 L644.56,232.69 L644.59,232.69 L644.61,232.69 L644.64,232.70 L644.67,232.70 L644.70,232.70 L644.73,232.70 L644.76,232.70 L644.79,232.70 L644.82,232.70 L644.85,232.70 L644.87,232.70 L644.90,232.70 L644.93,232.70 L644.96,232.70 L644.99,232.70 L645.02,232.70 L645.05,232.70 L645.08,232.70 L645.11,232.70 L645.13,232.70 L645.16,232.70 L645.19,232.70 L645.22,232.70 L645.25,232.70 L645.28,232.70 L645.31,232.70 L645.34,232.70 L645.37,232.70 L645.39,232.70 L645.42,232.70 L645.45,232.70 L645.48,232.70 L645.51,232.70 L645.54,232.70 L645.57,232.70 L645.60,232.70 L645.63,232.70 L645.65,232.70 L645.68,232.70 L645.71,232.70 L645.74,232.70 L645.77,232.70 L645.80,232.70 L645.83,232.70 L645.86,232.70 L645.89,232.69 L645.91,232.69 L645.94,232.69 L645.97,232.69 L646.00,232.69 L646.03,232.69 L646.06,232.69 L646.09,232.69 L646.12,232.69 L646.15,232.69 L646.17,232.69 L646.20,232.69 L646.23,232.69 L646.26,232.69 L646.29,232.69 L646.32,232.69 L646.35,232.69 L646.38,232.69 L646.40,232.69 L646.43,232.69 L646.46,232.69 L646.49,232.68 L646.52,232.68 L646.55,232.68 L646.58,232.68 L646.61,232.68 L646.64,232.68 L646.66,232.68 L646.69,232.68 L646.72,232.68 L646.75,232.68 L646.78,232.68 L646.81,232.68 L646.84,232.68 L646.87,232.67 L646.90,232.67 L646.92,232.67 L646.95,232.67 L646.98,232.67 L647.01,232.67 L647.04,232.67 L647.07,232.67 L647.10,232.67 L647.13,232.67 L647.16,232.66 L647.18,232.66 L647.21,232.66 L647.24,232.66 L647.27,232.66 L647.30,232.66 L647.33,232.66 L647.36,232.66 L647.39,232.65 L647.42,232.65 L647.44,232.65 L647.47,232.65 L647.50,232.65 L647.53,232.65 L647.56,232.65 L647.59,232.64 L647.62,232.64 L647.65,232.64 L647.68,232.64 L647.70,232.64 L647.73,232.64 L647.76,232.64 L647.79,232.63 L647.82,232.63 L647.85,232.63 L647.88,232.63 L647.91,232.63 L647.94,232.63 L647.96,232.62 L647.99,232.62 L648.02,232.62 L648.05,232.62 L648.08,232.62 L648.11,232.61 L648.14,232.61 L648.28,232.60 L648.43,232.59 L648.57,232.58 L648.72,232.56 L648.86,232.55 L649.00,232.54 L649.15,232.52 L649.29,232.50 L649.44,232.48 L649.58,232.46 L649.73,232.44 L649.87,232.42 L650.01,232.40 L650.16,232.37 L650.30,232.35 L650.45,232.32 L650.59,232.29 L650.74,232.26 L650.88,232.23 L651.02,232.19 L651.17,232.16 L651.31,232.12 L651.46,232.08 L651.60,232.04 L651.75,232.00 L651.89,231.95 L652.04,231.91 L652.18,231.86 L652.32,231.81 L652.47,231.75 L652.61,231.70 L652.76,231.64 L652.90,231.58 L653.05,231.52 L653.19,231.46 L653.34,231.39 L653.48,231.32 L653.62,231.25 L653.77,231.18 L653.91,231.10 L654.06,231.03 L654.20,230.95 L654.35,230.86 L654.49,230.78 L654.63,230.69 L654.78,230.60 L654.92,230.51 L655.07,230.41 L655.21,230.31 L655.36,230.21 L655.50,230.11 L655.64,230.00 L655.79,229.89 L655.93,229.78 L656.08,229.67 L656.22,229.55 L656.37,229.43 L656.51,229.31 L656.66,229.18 L656.80,229.06 L656.94,228.93 L657.09,228.79 L657.23,228.66 L657.38,228.52 L657.52,228.38 L657.67,228.23 L657.81,228.09 L657.96,227.94 L658.10,227.79 L658.24,227.63 L658.39,227.47 L658.53,227.31 L658.68,227.15 L658.82,226.98 L658.97,226.82 L659.11,226.64 L659.25,226.47 L659.40,226.29 L659.54,226.11 L659.69,225.93 L659.83,225.75 L659.98,225.56 L660.12,225.37 L660.26,225.18 L660.41,224.98 L660.55,224.79 L660.70,224.59 L660.84,224.38 L660.99,224.18 L661.13,223.97 L661.28,223.76 L661.42,223.55 L661.56,223.33 L661.71,223.12 L661.85,222.90 L662.00,222.67 L662.14,222.45 L662.29,222.22 L662.43,221.99 L662.58,221.76 L662.72,221.53 L662.86,221.29 L663.01,221.05 L663.15,220.81 L663.30,220.57 L663.44,220.32 L663.59,220.07 L663.73,219.82 L663.87,219.57 L664.02,219.32 L664.16,219.06 L664.31,218.80 L664.45,218.54 L664.60,218.28 L664.74,218.02 L664.88,217.75 L665.03,217.48 L665.17,217.21 L665.32,216.94 L665.46,216.67 L665.61,216.39 L665.75,216.11 L665.90,215.83 L666.04,215.55 L666.18,215.27 L666.33,214.99 L666.47,214.70 L666.62,214.41 L666.76,214.12 L666.91,213.83 L667.05,213.54 L667.19,213.24 L667.34,212.95 L667.48,212.65 L667.63,212.35 L667.77,212.05 L667.92,211.75 L668.06,211.44 L668.21,211.14 L668.35,210.83 L668.49,210.52 L668.64,210.22 L668.78,209.91 L668.93,209.59 L669.07,209.28 L669.22,208.97 L669.36,208.65 L669.50,208.33 L669.65,208.02 L669.79,207.70 L669.94,207.38 L670.08,207.06 L670.23,206.73 L670.37,206.41 L670.52,206.08 L670.66,205.76 L670.80,205.43 L670.95,205.11 L671.09,204.78 L671.24,204.45 L671.38,204.12 L671.53,203.79 L671.67,203.45 L671.82,203.12 L671.96,202.79 L672.10,202.45 L672.25,202.12 L672.39,201.78 L672.54,201.44 L672.68,201.10 L672.83,200.77 L672.97,200.43 L673.11,200.09 L673.26,199.75 L673.40,199.41 L673.55,199.06 L673.69,198.72 L673.84,198.38 L673.98,198.04 L674.12,197.69 L674.85,195.96 L675.57,194.23 L676.29,192.48 L677.01,190.73 L677.73,188.97 L678.46,187.21 L679.18,185.45 L679.90,183.69 L680.62,181.93 L681.34,180.18 L682.07,178.43 L682.79,176.68 L683.51,174.96 L684.23,173.27 L684.95,171.59 L685.67,169.93 L686.40,168.28 L687.12,166.64 L687.84,164.99 L688.56,163.34 L689.28,161.69 L690.01,160.04 L690.73,158.38 L691.45,156.73 L692.17,155.06 L692.89,153.41 L693.62,151.75 L694.34,150.10 L695.06,148.45 L695.78,146.82 L696.50,145.20 L697.23,143.60 L697.95,142.02 L698.67,140.47 L699.39,138.95 L700.11,137.46 L700.83,135.99 L701.56,134.55 L702.28,133.14 L703.00,131.74 L703.72,130.37 L704.44,129.02 L705.17,127.70 L705.89,126.39 L706.61,125.10 L707.33,123.84 L708.05,122.59 L708.77,121.37 L709.50,120.17 L710.22,118.98 L710.94,117.82 L711.66,116.67 L712.38,115.57 L713.11,114.48 L713.83,113.41 L714.55,112.36 L715.27,111.32 L715.99,110.31 L716.72,109.30 L717.44,108.32 L718.16,107.35 L718.88,106.40 L719.60,105.47 L720.33,104.55 L721.05,103.64 L721.77,102.75 L722.49,101.87 L723.21,101.01 L723.93,100.17 L724.66,99.33 L725.38,98.51 L726.10,97.70 L726.82,96.91 L727.54,96.13 L728.27,95.36 L728.99,94.61 L729.71,93.87 L730.43,93.13 L731.15,92.41 L731.88,91.71 L732.60,91.01 L733.32,90.32 L734.04,89.65 L734.76,88.98 L735.48,88.32 L736.21,87.68 L736.93,87.04 L737.65,86.42 L738.37,85.80 L739.09,85.20 L739.82,84.60 L740.54,84.01 L741.26,83.43 L741.98,82.86 L742.70,82.30 L743.42,81.74 L744.15,81.20 L744.87,80.66 L745.59,80.13 L746.31,79.60 L747.03,79.08 L747.76,78.56 L748.48,78.04 L749.20,77.54 L749.92,77.04 L750.64,76.55 L751.37,76.06 L752.09,75.59 L752.81,75.11 L753.53,74.65 L754.25,74.19 L754.98,73.74 L755.70,73.29 L756.42,72.85 L757.14,72.42 L757.86,71.99 L758.58,71.56 L759.31,71.14 L760.03,70.73 L760.75,70.32 L761.47,69.92 L762.19,69.53 L762.92,69.13 L763.64,68.75 L764.36,68.36 L765.08,67.99 L765.80,67.61 L766.52,67.25 L767.25,66.88 L767.97,66.53 L768.69,66.17 L769.41,65.82 L770.13,65.48 L770.86,65.13 L771.58,64.80 L772.30,64.46 L773.02,64.13 L773.74,63.81 L774.47,63.49 L775.19,63.17 L775.91,62.85 L776.63,62.53 L777.35,62.21 L778.08,61.90 L778.80,61.59 L779.52,61.29 L780.24,60.99 L780.96,60.69 L781.68,60.40 L782.41,60.11 L783.13,59.82 L783.85,59.53 L784.57,59.25 L785.29,58.97 L786.02,58.70 L786.74,58.42 L787.46,58.16 L788.18,57.89 L788.90,57.62 L789.62,57.36 L790.35,57.11 L791.07,56.85 L791.79,56.60 L792.51,56.35 L793.23,56.10 L793.96,55.85 L794.68,55.61 L795.40,55.37 L796.12,55.13 L796.84,54.90 L797.57,54.67 L798.29,54.44 L799.01,54.21 L799.73,53.98 L800.45,53.76 L801.17,53.54 L801.90,53.32 L802.62,53.10 L803.34,52.89 L804.06,52.67 L804.78,52.46 L805.51,52.26 L806.23,52.05 L806.95,51.84 L807.67,51.64 L808.39,51.44 L809.12,51.24 L809.84,51.05 L810.56,50.85 L811.28,50.66 L812.00,50.47 L812.73,50.28 L813.45,50.09 L814.17,49.91 L814.89,49.72 L815.61,49.54 L816.33,49.36 L817.06,49.18 L817.78,49.00 L818.50,48.83" stroke="#006400" stroke-width="2.07" stroke-linecap="square"/>
<path d="M472.00,49.55 L472.72,49.72 L473.44,49.90 L474.17,50.08 L474.89,50.26 L475.61,50.44 L476.33,50.63 L477.05,50.82 L477.77,51.00 L478.50,51.19 L479.22,51.39 L479.94,51.58 L480.66,51.77 L481.38,51.97 L482.11,52.17 L482.83,52.37 L483.55,52.57 L484.27,52.78 L484.99,52.99 L485.72,53.20 L486.44,53.41 L487.16,53.62 L487.88,53.84 L488.60,54.05 L489.32,54.27 L490.05,54.49 L490.77,54.72 L491.49,54.94 L492.21,55.17 L492.93,55.40 L493.66,55.64 L494.38,55.87 L495.10,56.11 L495.82,56.35 L496.54,56.60 L497.27,56.84 L497.99,57.09 L498.71,57.34 L499.43,57.59 L500.15,57.85 L500.88,58.11 L501.60,58.37 L502.32,58.64 L503.04,58.90 L503.76,59.17 L504.48,59.45 L505.21,59.72 L505.93,60.00 L506.65,60.28 L507.37,60.57 L508.09,60.86 L508.82,61.15 L509.54,61.45 L510.26,61.74 L510.98,62.05 L511.70,62.35 L512.42,62.66 L513.15,62.97 L513.87,63.29 L514.59,63.61 L515.31,63.93 L516.03,64.24 L516.76,64.56 L517.48,64.88 L518.20,65.21 L518.92,65.54 L519.64,65.88 L520.37,66.21 L521.09,66.56 L521.81,66.90 L522.53,67.25 L523.25,67.61 L523.98,67.97 L524.70,68.33 L525.42,68.70 L526.14,69.08 L526.86,69.46 L527.58,69.84 L528.31,70.23 L529.03,70.62 L529.75,71.02 L530.47,71.43 L531.19,71.83 L531.92,72.25 L532.64,72.67 L533.36,73.10 L534.08,73.53 L534.80,73.97 L535.52,74.41 L536.25,74.86 L536.97,75.31 L537.69,75.78 L538.41,76.25 L539.13,76.72 L539.86,77.20 L540.58,77.69 L541.30,78.19 L542.02,78.69 L542.74,79.20 L543.47,79.71 L544.19,80.24 L544.91,80.75 L545.63,81.28 L546.35,81.81 L547.08,82.35 L547.80,82.89 L548.52,83.45 L549.24,84.01 L549.96,84.58 L550.68,85.16 L551.41,85.75 L552.13,86.35 L552.85,86.96 L553.57,87.58 L554.29,88.21 L555.02,88.85 L555.74,89.49 L556.46,90.15 L557.18,90.82 L557.90,91.50 L558.62,92.19 L559.35,92.89 L560.07,93.60 L560.79,94.33 L561.51,95.06 L562.23,95.81 L562.96,96.57 L563.68,97.34 L564.40,98.13 L565.12,98.88 L565.84,99.65 L566.57,100.43 L567.29,101.22 L568.01,102.03 L568.73,102.86 L569.45,103.69 L570.17,104.55 L570.90,105.41 L571.62,106.30 L572.34,107.20 L573.06,108.11 L573.78,109.04 L574.51,109.99 L575.23,110.95 L575.95,111.93 L576.67,112.93 L577.39,113.95 L578.12,114.98 L578.84,116.04 L579.56,117.17 L580.28,118.32 L581.00,119.49 L581.73,120.68 L582.45,121.90 L583.17,123.13 L583.89,124.38 L584.61,125.65 L585.33,126.94 L586.06,128.26 L586.78,129.59 L587.50,130.95 L588.22,132.33 L588.94,133.74 L589.67,135.16 L590.39,136.61 L591.11,138.11 L591.83,139.65 L592.55,141.23 L593.27,142.85 L594.00,144.49 L594.72,146.16 L595.44,147.86 L596.16,149.57 L596.88,151.30 L597.61,153.05 L598.33,154.80 L599.05,156.56 L599.77,158.32 L600.49,160.09 L601.22,161.87 L601.94,163.64 L602.66,165.42 L603.38,167.20 L604.10,168.99 L604.83,170.78 L605.55,172.58 L606.27,174.39 L606.99,176.22 L607.71,178.06 L608.43,179.93 L609.16,181.81 L609.88,183.70 L610.60,185.61 L611.32,187.53 L612.04,189.46 L612.77,191.41 L613.49,193.36 L614.21,195.32 L614.93,197.29 L615.65,199.26 L616.38,201.23 L616.52,201.63 L616.66,202.02 L616.81,202.42 L616.95,202.81 L617.10,203.21 L617.24,203.61 L617.39,204.00 L617.53,204.40 L617.67,204.79 L617.82,205.19 L617.96,205.58 L618.11,205.98 L618.25,206.37 L618.40,206.77 L618.54,207.16 L618.68,207.56 L618.83,207.95 L618.97,208.34 L619.12,208.74 L619.26,209.13 L619.41,209.52 L619.55,209.92 L619.70,210.31 L619.84,210.70 L619.98,211.09 L620.13,211.49 L620.27,211.88 L620.42,212.27 L620.56,212.66 L620.71,213.05 L620.85,213.44 L621.00,213.83 L621.14,214.22 L621.28,214.61 L621.43,214.99 L621.57,215.38 L621.72,215.77 L621.86,216.15 L622.01,216.54 L622.15,216.92 L622.29,217.31 L622.44,217.69 L622.58,218.07 L622.73,218.45 L622.87,218.83 L623.02,219.21 L623.16,219.59 L623.31,219.97 L623.45,220.35 L623.59,220.73 L623.74,221.10 L623.88,221.48 L624.03,221.85 L624.17,222.22 L624.32,222.60 L624.46,222.97 L624.60,223.34 L624.75,223.71 L624.89,224.07 L625.04,224.44 L625.18,224.81 L625.33,225.17 L625.47,225.53 L625.62,225.90 L625.76,226.26 L625.90,226.62 L626.05,226.97 L626.19,227.33 L626.34,227.69 L626.48,228.04 L626.63,228.39 L626.77,228.74 L626.91,229.09 L627.06,229.44 L627.20,229.79 L627.35,230.13 L627.49,230.47 L627.64,230.82 L627.78,231.16 L627.92,231.49 L628.07,231.83 L628.21,232.17 L628.36,232.50 L628.50,232.83 L628.65,233.16 L628.79,233.49 L628.94,233.81 L629.08,234.14 L629.22,234.46 L629.37,234.78 L629.51,235.10 L629.66,235.41 L629.80,235.73 L629.95,236.04 L630.09,236.35 L630.24,236.66 L630.38,236.96 L630.52,237.26 L630.67,237.57 L630.81,237.86 L630.96,238.16 L631.10,238.45 L631.25,238.75 L631.39,239.04 L631.53,239.32 L631.68,239.61 L631.82,239.89 L631.97,240.17 L632.11,240.45 L632.26,240.72 L632.40,240.99 L632.54,241.26 L632.69,241.53 L632.83,241.79 L632.98,242.05 L633.12,242.31 L633.27,242.57 L633.41,242.82 L633.56,243.07 L633.70,243.32 L633.84,243.57 L633.99,243.81 L634.13,244.05 L634.28,244.28 L634.42,244.52 L634.57,244.75 L634.71,244.98 L634.86,245.20 L635.00,245.42 L635.14,245.64 L635.29,245.86 L635.43,246.07 L635.58,246.28 L635.72,246.49 L635.87,246.69 L636.01,246.89 L636.15,247.09 L636.30,247.28 L636.44,247.47 L636.59,247.66 L636.73,247.84 L636.88,248.03 L637.02,248.20 L637.16,248.38 L637.31,248.55 L637.45,248.72 L637.60,248.89 L637.74,249.05 L637.89,249.21 L638.03,249.36 L638.18,249.52 L638.32,249.67 L638.46,249.81 L638.61,249.95 L638.75,250.09 L638.90,250.23 L639.04,250.36 L639.19,250.49 L639.33,250.62 L639.48,250.74 L639.62,250.86 L639.76,250.98 L639.91,251.10 L640.05,251.21 L640.20,251.31 L640.34,251.42 L640.49,251.52 L640.63,251.62 L640.77,251.71 L640.92,251.80 L641.06,251.89 L641.21,251.98 L641.35,252.06 L641.50,252.14 L641.64,252.22 L641.78,252.29 L641.93,252.36 L642.07,252.43 L642.22,252.49 L642.36,252.55 L642.39,252.56 L642.42,252.57 L642.45,252.58 L642.48,252.60 L642.51,252.61 L642.54,252.62 L642.56,252.63 L642.59,252.64 L642.62,252.65 L642.65,252.66 L642.68,252.67 L642.71,252.68 L642.74,252.69 L642.77,252.70 L642.80,252.71 L642.82,252.72 L642.85,252.73 L642.88,252.74 L642.91,252.75 L642.94,252.76 L642.97,252.77 L643.00,252.78 L643.03,252.79 L643.06,252.80 L643.08,252.81 L643.11,252.82 L643.14,252.83 L643.17,252.83 L643.20,252.84 L643.23,252.85 L643.26,252.86 L643.29,252.87 L643.32,252.87 L643.34,252.88 L643.37,252.89 L643.40,252.90 L643.43,252.91 L643.46,252.91 L643.49,252.92 L643.52,252.93 L643.55,252.93 L643.58,252.94 L643.60,252.95 L643.63,252.95 L643.66,252.96 L643.69,252.97 L643.72,252.97 L643.75,252.98 L643.78,252.99 L643.81,252.99 L643.84,253.00 L643.86,253.00 L643.89,253.01 L643.92,253.01 L643.95,253.02 L643.98,253.02 L644.01,253.03 L644.04,253.03 L644.07,253.04 L644.10,253.04 L644.12,253.05 L644.15,253.05 L644.18,253.06 L644.21,253.06 L644.24,253.07 L644.27,253.07 L644.30,253.07 L644.33,253.08 L644.35,253.08 L644.38,253.08 L644.41,253.09 L644.44,253.09 L644.47,253.09 L644.50,253.10 L644.53,253.10 L644.56,253.10 L644.59,253.11 L644.61,253.11 L644.64,253.11 L644.67,253.11 L644.70,253.12 L644.73,253.12 L644.76,253.12 L644.79,253.12 L644.82,253.12 L644.85,253.13 L644.87,253.13 L644.90,253.13 L644.93,253.13 L644.96,253.13 L644.99,253.13 L645.02,253.13 L645.05,253.13 L645.08,253.14 L645.11,253.14 L645.13,253.14 L645.16,253.14 L645.19,253.14 L645.22,253.14 L645.25,253.14 L645.28,253.14 L645.31,253.14 L645.34,253.14 L645.37,253.14 L645.39,253.14 L645.42,253.14 L645.45,253.13 L645.48,253.13 L645.51,253.13 L645.54,253.13 L645.57,253.13 L645.60,253.13 L645.63,253.13 L645.65,253.13 L645.68,253.12 L645.71,253.12 L645.74,253.12 L645.77,253.12 L645.80,253.12 L645.83,253.11 L645.86,253.11 L645.89,253.11 L645.91,253.11 L645.94,253.10 L645.97,253.10 L646.00,253.10 L646.03,253.09 L646.06,253.09 L646.09,253.09 L646.12,253.08 L646.15,253.08 L646.17,253.08 L646.20,253.07 L646.23,253.07 L646.26,253.07 L646.29,253.06 L646.32,253.06 L646.35,253.05 L646.38,253.05 L646.40,253.04 L646.43,253.04 L646.46,253.03 L646.49,253.03 L646.52,253.02 L646.55,253.02 L646.58,253.01 L646.61,253.01 L646.64,253.00 L646.66,253.00 L646.69,252.99 L646.72,252.99 L646.75,252.98 L646.78,252.97 L646.81,252.97 L646.84,252.96 L646.87,252.95 L646.90,252.95 L646.92,252.94 L646.95,252.93 L646.98,252.93 L647.01,252.92 L647.04,252.91 L647.07,252.91 L647.10,252.90 L647.13,252.89 L647.16,252.88 L647.18,252.87 L647.21,252.87 L647.24,252.86 L647.27,252.85 L647.30,252.84 L647.33,252.83 L647.36,252.83 L647.39,252.82 L647.42,252.81 L647.44,252.80 L647.47,252.79 L647.50,252.78 L647.53,252.77 L647.56,252.76 L647.59,252.75 L647.62,252.74 L647.65,252.73 L647.68,252.72 L647.70,252.71 L647.73,252.70 L647.76,252.69 L647.79,252.68 L647.82,252.67 L647.85,252.66 L647.88,252.65 L647.91,252.64 L647.94,252.63 L647.96,252.62 L647.99,252.61 L648.02,252.60 L648.05,252.58 L648.08,252.57 L648.11,252.56 L648.14,252.55 L648.28,252.49 L648.43,252.43 L648.57,252.36 L648.72,252.29 L648.86,252.22 L649.00,252.14 L649.15,252.06 L649.29,251.98 L649.44,251.89 L649.58,251.80 L649.73,251.71 L649.87,251.62 L650.01,251.52 L650.16,251.42 L650.30,251.31 L650.45,251.21 L650.59,251.10 L650.74,250.98 L650.88,250.86 L651.02,250.74 L651.17,250.62 L651.31,250.49 L651.46,250.36 L651.60,250.23 L651.75,250.09 L651.89,249.95 L652.04,249.81 L652.18,249.67 L652.32,249.52 L652.47,249.36 L652.61,249.21 L652.76,249.05 L652.90,248.89 L653.05,248.72 L653.19,248.55 L653.34,248.38 L653.48,248.20 L653.62,248.03 L653.77,247.84 L653.91,247.66 L654.06,247.47 L654.20,247.28 L654.35,247.09 L654.49,246.89 L654.63,246.69 L654.78,246.49 L654.92,246.28 L655.07,246.07 L655.21,245.86 L655.36,245.64 L655.50,245.42 L655.64,245.20 L655.79,244.98 L655.93,244.75 L656.08,244.52 L656.22,244.28 L656.37,244.05 L656.51,243.81 L656.66,243.57 L656.80,243.32 L656.94,243.07 L657.09,242.82 L657.23,242.57 L657.38,242.31 L657.52,242.05 L657.67,241.79 L657.81,241.53 L657.96,241.26 L658.10,240.99 L658.24,240.72 L658.39,240.45 L658.53,240.17 L658.68,239.89 L658.82,239.61 L658.97,239.32 L659.11,239.04 L659.25,238.75 L659.40,238.45 L659.54,238.16 L659.69,237.86 L659.83,237.57 L659.98,237.26 L660.12,236.96 L660.26,236.66 L660.41,236.35 L660.55,236.04 L660.70,235.73 L660.84,235.41 L660.99,235.10 L661.13,234.78 L661.28,234.46 L661.42,234.14 L661.56,233.81 L661.71,233.49 L661.85,233.16 L662.00,232.83 L662.14,232.50 L662.29,232.17 L662.43,231.83 L662.58,231.49 L662.72,231.16 L662.86,230.82 L663.01,230.47 L663.15,230.13 L663.30,229.79 L663.44,229.44 L663.59,229.09 L663.73,228.74 L663.87,228.39 L664.02,228.04 L664.16,227.69 L664.31,227.33 L664.45,226.97 L664.60,226.62 L664.74,226.26 L664.88,225.90 L665.03,225.53 L665.17,225.17 L665.32,224.81 L665.46,224.44 L665.61,224.07 L665.75,223.71 L665.90,223.34 L666.04,222.97 L666.18,222.60 L666.33,222.22 L666.47,221.85 L666.62,221.48 L666.76,221.10 L666.91,220.73 L667.05,220.35 L667.19,219.97 L667.34,219.59 L667.48,219.21 L667.63,218.83 L667.77,218.45 L667.92,218.07 L668.06,217.69 L668.21,217.31 L668.35,216.92 L668.49,216.54 L668.64,216.15 L668.78,215.77 L668.93,215.38 L669.07,214.99 L669.22,214.61 L669.36,214.22 L669.50,213.83 L669.65,213.44 L669.79,213.05 L669.94,212.66 L670.08,212.27 L670.23,211.88 L670.37,211.49 L670.52,211.09 L670.66,210.70 L670.80,210.31 L670.95,209.92 L671.09,209.52 L671.24,209.13 L671.38,208.74 L671.53,208.34 L671.67,207.95 L671.82,207.56 L671.96,207.16 L672.10,206.77 L672.25,206.37 L672.39,205.98 L672.54,205.58 L672.68,205.19 L672.83,204.79 L672.97,204.40 L673.11,204.00 L673.26,203.61 L673.40,203.21 L673.55,202.81 L673.69,202.42 L673.84,202.02 L673.98,201.63 L674.12,201.23 L674.85,199.26 L675.57,197.29 L676.29,195.32 L677.01,193.36 L677.73,191.41 L678.46,189.46 L679.18,187.53 L679.90,185.61 L680.62,183.70 L681.34,181.81 L682.07,179.93 L682.79,178.06 L683.51,176.22 L684.23,174.39 L684.95,172.58 L685.67,170.78 L686.40,168.99 L687.12,167.20 L687.84,165.42 L688.56,163.64 L689.28,161.87 L690.01,160.09 L690.73,158.32 L691.45,156.56 L692.17,154.80 L692.89,153.05 L693.62,151.30 L694.34,149.57 L695.06,147.86 L695.78,146.16 L696.50,144.49 L697.23,142.85 L697.95,141.23 L698.67,139.65 L699.39,138.11 L700.11,136.61 L700.83,135.16 L701.56,133.74 L702.28,132.33 L703.00,130.95 L703.72,129.59 L704.44,128.26 L705.17,126.94 L705.89,125.65 L706.61,124.38 L707.33,123.13 L708.05,121.90 L708.77,120.68 L709.50,119.49 L710.22,118.32 L710.94,117.17 L711.66,116.04 L712.38,114.98 L713.11,113.95 L713.83,112.93 L714.55,111.93 L715.27,110.95 L715.99,109.99 L716.72,109.04 L717.44,108.11 L718.16,107.20 L718.88,106.30 L719.60,105.41 L720.33,104.55 L721.05,103.69 L721.77,102.86 L722.49,102.03 L723.21,101.22 L723.93,100.43 L724.66,99.65 L725.38,98.88 L726.10,98.13 L726.82,97.34 L727.54,96.57 L728.27,95.81 L728.99,95.06 L729.71,94.33 L730.43,93.60 L731.15,92.89 L731.88,92.19 L732.60,91.50 L733.32,90.82 L734.04,90.15 L734.76,89.49 L735.48,88.85 L736.21,88.21 L736.93,87.58 L737.65,86.96 L738.37,86.35 L739.09,85.75 L739.82,85.16 L740.54,84.58 L741.26,84.01 L741.98,83.45 L742.70,82.89 L743.42,82.35 L744.15,81.81 L744.87,81.28 L745.59,80.75 L746.31,80.24 L747.03,79.71 L747.76,79.20 L748.48,78.69 L749.20,78.19 L749.92,77.69 L750.64,77.20 L751.37,76.72 L752.09,76.25 L752.81,75.78 L753.53,75.31 L754.25,74.86 L754.98,74.41 L755.70,73.97 L756.42,73.53 L757.14,73.10 L757.86,72.67 L758.58,72.25 L759.31,71.83 L760.03,71.43 L760.75,71.02 L761.47,70.62 L762.19,70.23 L762.92,69.84 L763.64,69.46 L764.36,69.08 L765.08,68.70 L765.80,68.33 L766.52,67.97 L767.25,67.61 L767.97,67.25 L768.69,66.90 L769.41,66.56 L770.13,66.21 L770.86,65.88 L771.58,65.54 L772.30,65.21 L773.02,64.88 L773.74,64.56 L774.47,64.24 L775.19,63.93 L775.91,63.61 L776.63,63.29 L777.35,62.97 L778.08,62.66 L778.80,62.35 L779.52,62.05 L780.24,61.74 L780.96,61.45 L781.68,61.15 L782.41,60.86 L783.13,60.57 L783.85,60.28 L784.57,60.00 L785.29,59.72 L786.02,59.45 L786.74,59.17 L787.46,58.90 L788.18,58.64 L788.90,58.37 L789.62,58.11 L790.35,57.85 L791.07,57.59 L791.79,57.34 L792.51,57.09 L793.23,56.84 L793.96,56.60 L794.68,56.35 L795.40,56.11 L796.12,55.87 L796.84,55.64 L797.57,55.40 L798.29,55.17 L799.01,54.94 L799.73,54.72 L800.45,54.49 L801.17,54.27 L801.90,54.05 L802.62,53.84 L803.34,53.62 L804.06,53.41 L804.78,53.20 L805.51,52.99 L806.23,52.78 L806.95,52.57 L807.67,52.37 L808.39,52.17 L809.12,51.97 L809.84,51.77 L810.56,51.58 L811.28,51.39 L812.00,51.19 L812.73,51.00 L813.45,50.82 L814.17,50.63 L814.89,50.44 L815.61,50.26 L816.33,50.08 L817.06,49.90 L817.78,49.72 L818.50,49.55" stroke="#ff8c00" stroke-width="2.07" stroke-linecap="square"/>
<path d="M472.00,50.60 L472.72,50.78 L473.44,50.96 L474.17,51.14 L474.89,51.32 L475.61,51.51 L476.33,51.69 L477.05,51.88 L477.77,52.07 L478.50,52.26 L479.22,52.46 L479.94,52.65 L480.66,52.85 L481.38,53.05 L482.11,53.25 L482.83,53.45 L483.55,53.65 L484.27,53.86 L484.99,54.07 L485.72,54.28 L486.44,54.49 L487.16,54.71 L487.88,54.92 L488.60,55.14 L489.32,55.36 L490.05,55.59 L490.77,55.81 L491.49,56.04 L492.21,56.27 L492.93,56.50 L493.66,56.74 L494.38,56.97 L495.10,57.21 L495.82,57.46 L496.54,57.70 L497.27,57.95 L497.99,58.20 L498.71,58.45 L499.43,58.70 L500.15,58.96 L500.88,59.22 L501.60,59.49 L502.32,59.75 L503.04,60.02 L503.76,60.29 L504.48,60.57 L505.21,60.84 L505.93,61.12 L506.65,61.41 L507.37,61.70 L508.09,61.99 L508.82,62.28 L509.54,62.58 L510.26,62.87 L510.98,63.18 L511.70,63.48 L512.42,63.79 L513.15,64.11 L513.87,64.43 L514.59,64.75 L515.31,65.07 L516.03,65.40 L516.76,65.73 L517.48,66.07 L518.20,66.41 L518.92,66.75 L519.64,67.10 L520.37,67.45 L521.09,67.81 L521.81,68.17 L522.53,68.53 L523.25,68.90 L523.98,69.27 L524.70,69.65 L525.42,70.04 L526.14,70.42 L526.86,70.82 L527.58,71.21 L528.31,71.62 L529.03,72.02 L529.75,72.44 L530.47,72.85 L531.19,73.28 L531.92,73.71 L532.64,74.14 L533.36,74.58 L534.08,75.03 L534.80,75.48 L535.52,75.93 L536.25,76.40 L536.97,76.87 L537.69,77.34 L538.41,77.83 L539.13,78.31 L539.86,78.81 L540.58,79.31 L541.30,79.82 L542.02,80.34 L542.74,80.86 L543.47,81.39 L544.19,81.93 L544.91,82.47 L545.63,83.03 L546.35,83.59 L547.08,84.16 L547.80,84.73 L548.52,85.32 L549.24,85.91 L549.96,86.51 L550.68,87.13 L551.41,87.75 L552.13,88.38 L552.85,89.01 L553.57,89.66 L554.29,90.32 L555.02,90.99 L555.74,91.67 L556.46,92.35 L557.18,93.05 L557.90,93.76 L558.62,94.48 L559.35,95.21 L560.07,95.95 L560.79,96.71 L561.51,97.47 L562.23,98.25 L562.96,99.04 L563.68,99.85 L564.40,100.66 L565.12,101.49 L565.84,102.33 L566.57,103.19 L567.29,104.05 L568.01,104.94 L568.73,105.83 L569.45,106.75 L570.17,107.67 L570.90,108.61 L571.62,109.57 L572.34,110.54 L573.06,111.53 L573.78,112.54 L574.51,113.56 L575.23,114.60 L575.95,115.65 L576.67,116.72 L577.39,117.82 L578.12,118.92 L578.84,120.05 L579.56,121.20 L580.28,122.36 L581.00,123.55 L581.73,124.75 L582.45,125.97 L583.17,127.22 L583.89,128.48 L584.61,129.77 L585.33,131.07 L586.06,132.40 L586.78,133.75 L587.50,135.12 L588.22,136.52 L588.94,137.93 L589.67,139.37 L590.39,140.84 L591.11,142.32 L591.83,143.83 L592.55,145.36 L593.27,146.92 L594.00,148.50 L594.72,150.10 L595.44,151.73 L596.16,153.38 L596.88,155.05 L597.61,156.75 L598.33,158.48 L599.05,160.23 L599.77,162.00 L600.49,163.80 L601.22,165.61 L601.94,167.46 L602.66,169.32 L603.38,171.21 L604.10,173.12 L604.83,175.05 L605.55,177.01 L606.27,178.98 L606.99,180.98 L607.71,182.99 L608.43,185.02 L609.16,187.07 L609.88,189.14 L610.60,191.22 L611.32,193.31 L612.04,195.42 L612.77,197.54 L613.49,199.67 L614.21,201.80 L614.93,203.95 L615.65,206.10 L616.38,208.25 L616.52,208.68 L616.66,209.11 L616.81,209.54 L616.95,209.97 L617.10,210.40 L617.24,210.83 L617.39,211.26 L617.53,211.69 L617.67,212.12 L617.82,212.55 L617.96,212.98 L618.11,213.41 L618.25,213.84 L618.40,214.27 L618.54,214.70 L618.68,215.13 L618.83,215.56 L618.97,215.98 L619.12,216.41 L619.26,216.84 L619.41,217.27 L619.55,217.69 L619.70,218.12 L619.84,218.55 L619.98,218.97 L620.13,219.40 L620.27,219.82 L620.42,220.25 L620.56,220.67 L620.71,221.09 L620.85,221.52 L621.00,221.94 L621.14,222.36 L621.28,222.78 L621.43,223.20 L621.57,223.62 L621.72,224.04 L621.86,224.46 L622.01,224.88 L622.15,225.29 L622.29,225.71 L622.44,226.13 L622.58,226.54 L622.73,226.95 L622.87,227.37 L623.02,227.78 L623.16,228.19 L623.31,228.60 L623.45,229.01 L623.59,229.42 L623.74,229.82 L623.88,230.23 L624.03,230.64 L624.17,231.04 L624.32,231.44 L624.46,231.84 L624.60,232.25 L624.75,232.64 L624.89,233.04 L625.04,233.44 L625.18,233.84 L625.33,234.23 L625.47,234.62 L625.62,235.02 L625.76,235.41 L625.90,235.79 L626.05,236.18 L626.19,236.57 L626.34,236.95 L626.48,237.34 L626.63,237.72 L626.77,238.10 L626.91,238.48 L627.06,238.85 L627.20,239.23 L627.35,239.60 L627.49,239.98 L627.64,240.35 L627.78,240.72 L627.92,241.08 L628.07,241.45 L628.21,241.81 L628.36,242.17 L628.50,242.53 L628.65,242.89 L628.79,243.25 L628.94,243.60 L629.08,243.95 L629.22,244.30 L629.37,244.65 L629.51,245.00 L629.66,245.34 L629.80,245.68 L629.95,246.02 L630.09,246.36 L630.24,246.69 L630.38,247.03 L630.52,247.36 L630.67,247.69 L630.81,248.01 L630.96,248.34 L631.10,248.66 L631.25,248.98 L631.39,249.30 L631.53,249.61 L631.68,249.92 L631.82,250.23 L631.97,250.54 L632.11,250.85 L632.26,251.15 L632.40,251.45 L632.54,251.75 L632.69,252.04 L632.83,252.33 L632.98,252.62 L633.12,252.91 L633.27,253.19 L633.41,253.48 L633.56,253.75 L633.70,254.03 L633.84,254.30 L633.99,254.57 L634.13,254.84 L634.28,255.11 L634.42,255.37 L634.57,255.63 L634.71,255.88 L634.86,256.14 L635.00,256.39 L635.14,256.63 L635.29,256.88 L635.43,257.12 L635.58,257.36 L635.72,257.59 L635.87,257.82 L636.01,258.05 L636.15,258.28 L636.30,258.50 L636.44,258.72 L636.59,258.94 L636.73,259.15 L636.88,259.36 L637.02,259.57 L637.16,259.77 L637.31,259.97 L637.45,260.17 L637.60,260.36 L637.74,260.55 L637.89,260.74 L638.03,260.92 L638.18,261.10 L638.32,261.28 L638.46,261.45 L638.61,261.62 L638.75,261.79 L638.90,261.95 L639.04,262.11 L639.19,262.27 L639.33,262.42 L639.48,262.57 L639.62,262.72 L639.76,262.86 L639.91,263.00 L640.05,263.13 L640.20,263.26 L640.34,263.39 L640.49,263.52 L640.63,263.64 L640.77,263.75 L640.92,263.87 L641.06,263.98 L641.21,264.08 L641.35,264.19 L641.50,264.29 L641.64,264.38 L641.78,264.47 L641.93,264.56 L642.07,264.64 L642.22,264.72 L642.36,264.80 L642.39,264.82 L642.42,264.83 L642.45,264.85 L642.48,264.86 L642.51,264.88 L642.54,264.89 L642.56,264.90 L642.59,264.92 L642.62,264.93 L642.65,264.94 L642.68,264.96 L642.71,264.97 L642.74,264.98 L642.77,265.00 L642.80,265.01 L642.82,265.02 L642.85,265.04 L642.88,265.05 L642.91,265.06 L642.94,265.07 L642.97,265.08 L643.00,265.10 L643.03,265.11 L643.06,265.12 L643.08,265.13 L643.11,265.14 L643.14,265.15 L643.17,265.16 L643.20,265.17 L643.23,265.19 L643.26,265.20 L643.29,265.21 L643.32,265.22 L643.34,265.23 L643.37,265.24 L643.40,265.25 L643.43,265.26 L643.46,265.26 L643.49,265.27 L643.52,265.28 L643.55,265.29 L643.58,265.30 L643.60,265.31 L643.63,265.32 L643.66,265.33 L643.69,265.33 L643.72,265.34 L643.75,265.35 L643.78,265.36 L643.81,265.37 L643.84,265.37 L643.86,265.38 L643.89,265.39 L643.92,265.40 L643.95,265.40 L643.98,265.41 L644.01,265.42 L644.04,265.42 L644.07,265.43 L644.10,265.43 L644.12,265.44 L644.15,265.45 L644.18,265.45 L644.21,265.46 L644.24,265.46 L644.27,265.47 L644.30,265.47 L644.33,265.48 L644.35,265.48 L644.38,265.49 L644.41,265.49 L644.44,265.50 L644.47,265.50 L644.50,265.50 L644.53,265.51 L644.56,265.51 L644.59,265.51 L644.61,265.52 L644.64,265.52 L644.67,265.52 L644.70,265.53 L644.73,265.53 L644.76,265.53 L644.79,265.54 L644.82,265.54 L644.85,265.54 L644.87,265.54 L644.90,265.54 L644.93,265.55 L644.96,265.55 L644.99,265.55 L645.02,265.55 L645.05,265.55 L645.08,265.55 L645.11,265.55 L645.13,265.55 L645.16,265.55 L645.19,265.55 L645.22,265.55 L645.25,265.55 L645.28,265.55 L645.31,265.55 L645.34,265.55 L645.37,265.55 L645.39,265.55 L645.42,265.55 L645.45,265.55 L645.48,265.55 L645.51,265.55 L645.54,265.55 L645.57,265.55 L645.60,265.54 L645.63,265.54 L645.65,265.54 L645.68,265.54 L645.71,265.54 L645.74,265.53 L645.77,265.53 L645.80,265.53 L645.83,265.52 L645.86,265.52 L645.89,265.52 L645.91,265.51 L645.94,265.51 L645.97,265.51 L646.00,265.50 L646.03,265.50 L646.06,265.50 L646.09,265.49 L646.12,265.49 L646.15,265.48 L646.17,265.48 L646.20,265.47 L646.23,265.47 L646.26,265.46 L646.29,265.46 L646.32,265.45 L646.35,265.45 L646.38,265.44 L646.40,265.43 L646.43,265.43 L646.46,265.42 L646.49,265.42 L646.52,265.41 L646.55,265.40 L646.58,265.40 L646.61,265.39 L646.64,265.38 L646.66,265.37 L646.69,265.37 L646.72,265.36 L646.75,265.35 L646.78,265.34 L646.81,265.33 L646.84,265.33 L646.87,265.32 L646.90,265.31 L646.92,265.30 L646.95,265.29 L646.98,265.28 L647.01,265.27 L647.04,265.26 L647.07,265.26 L647.10,265.25 L647.13,265.24 L647.16,265.23 L647.18,265.22 L647.21,265.21 L647.24,265.20 L647.27,265.19 L647.30,265.17 L647.33,265.16 L647.36,265.15 L647.39,265.14 L647.42,265.13 L647.44,265.12 L647.47,265.11 L647.50,265.10 L647.53,265.08 L647.56,265.07 L647.59,265.06 L647.62,265.05 L647.65,265.04 L647.68,265.02 L647.70,265.01 L647.73,265.00 L647.76,264.98 L647.79,264.97 L647.82,264.96 L647.85,264.94 L647.88,264.93 L647.91,264.92 L647.94,264.90 L647.96,264.89 L647.99,264.88 L648.02,264.86 L648.05,264.85 L648.08,264.83 L648.11,264.82 L648.14,264.80 L648.28,264.72 L648.43,264.64 L648.57,264.56 L648.72,264.47 L648.86,264.38 L649.00,264.29 L649.15,264.19 L649.29,264.08 L649.44,263.98 L649.58,263.87 L649.73,263.75 L649.87,263.64 L650.01,263.52 L650.16,263.39 L650.30,263.26 L650.45,263.13 L650.59,263.00 L650.74,262.86 L650.88,262.72 L651.02,262.57 L651.17,262.42 L651.31,262.27 L651.46,262.11 L651.60,261.95 L651.75,261.79 L651.89,261.62 L652.04,261.45 L652.18,261.28 L652.32,261.10 L652.47,260.92 L652.61,260.74 L652.76,260.55 L652.90,260.36 L653.05,260.17 L653.19,259.97 L653.34,259.77 L653.48,259.57 L653.62,259.36 L653.77,259.15 L653.91,258.94 L654.06,258.72 L654.20,258.50 L654.35,258.28 L654.49,258.05 L654.63,257.82 L654.78,257.59 L654.92,257.36 L655.07,257.12 L655.21,256.88 L655.36,256.63 L655.50,256.39 L655.64,256.14 L655.79,255.88 L655.93,255.63 L656.08,255.37 L656.22,255.11 L656.37,254.84 L656.51,254.57 L656.66,254.30 L656.80,254.03 L656.94,253.75 L657.09,253.48 L657.23,253.19 L657.38,252.91 L657.52,252.62 L657.67,252.33 L657.81,252.04 L657.96,251.75 L658.10,251.45 L658.24,251.15 L658.39,250.85 L658.53,250.54 L658.68,250.23 L658.82,249.92 L658.97,249.61 L659.11,249.30 L659.25,248.98 L659.40,248.66 L659.54,248.34 L659.69,248.01 L659.83,247.69 L659.98,247.36 L660.12,247.03 L660.26,246.69 L660.41,246.36 L660.55,246.02 L660.70,245.68 L660.84,245.34 L660.99,245.00 L661.13,244.65 L661.28,244.30 L661.42,243.95 L661.56,243.60 L661.71,243.25 L661.85,242.89 L662.00,242.53 L662.14,242.17 L662.29,241.81 L662.43,241.45 L662.58,241.08 L662.72,240.72 L662.86,240.35 L663.01,239.98 L663.15,239.60 L663.30,239.23 L663.44,238.85 L663.59,238.48 L663.73,238.10 L663.87,237.72 L664.02,237.34 L664.16,236.95 L664.31,236.57 L664.45,236.18 L664.60,235.79 L664.74,235.41 L664.88,235.02 L665.03,234.62 L665.17,234.23 L665.32,233.84 L665.46,233.44 L665.61,233.04 L665.75,232.64 L665.90,232.25 L666.04,231.84 L666.18,231.44 L666.33,231.04 L666.47,230.64 L666.62,230.23 L666.76,229.82 L666.91,229.42 L667.05,229.01 L667.19,228.60 L667.34,228.19 L667.48,227.78 L667.63,227.37 L667.77,226.95 L667.92,226.54 L668.06,226.13 L668.21,225.71 L668.35,225.29 L668.49,224.88 L668.64,224.46 L668.78,224.04 L668.93,223.62 L669.07,223.20 L669.22,222.78 L669.36,222.36 L669.50,221.94 L669.65,221.52 L669.79,221.09 L669.94,220.67 L670.08,220.25 L670.23,219.82 L670.37,219.40 L670.52,218.97 L670.66,218.55 L670.80,218.12 L670.95,217.69 L671.09,217.27 L671.24,216.84 L671.38,216.41 L671.53,215.98 L671.67,215.56 L671.82,215.13 L671.96,214.70 L672.10,214.27 L672.25,213.84 L672.39,213.41 L672.54,212.98 L672.68,212.55 L672.83,212.12 L672.97,211.69 L673.11,211.26 L673.26,210.83 L673.40,210.40 L673.55,209.97 L673.69,209.54 L673.84,209.11 L673.98,208.68 L674.12,208.25 L674.85,206.10 L675.57,203.95 L676.29,201.80 L677.01,199.67 L677.73,197.54 L678.46,195.42 L679.18,193.31 L679.90,191.22 L680.62,189.14 L681.34,187.07 L682.07,185.02 L682.79,182.99 L683.51,180.98 L684.23,178.98 L684.95,177.01 L685.67,175.05 L686.40,173.12 L687.12,171.21 L687.84,169.32 L688.56,167.46 L689.28,165.61 L690.01,163.80 L690.73,162.00 L691.45,160.23 L692.17,158.48 L692.89,156.75 L693.62,155.05 L694.34,153.38 L695.06,151.73 L695.78,150.10 L696.50,148.50 L697.23,146.92 L697.95,145.36 L698.67,143.83 L699.39,142.32 L700.11,140.84 L700.83,139.37 L701.56,137.93 L702.28,136.52 L703.00,135.12 L703.72,133.75 L704.44,132.40 L705.17,131.07 L705.89,129.77 L706.61,128.48 L707.33,127.22 L708.05,125.97 L708.77,124.75 L709.50,123.55 L710.22,122.36 L710.94,121.20 L711.66,120.05 L712.38,118.92 L713.11,117.82 L713.83,116.72 L714.55,115.65 L715.27,114.60 L715.99,113.56 L716.72,112.54 L717.44,111.53 L718.16,110.54 L718.88,109.57 L719.60,108.61 L720.33,107.67 L721.05,106.75 L721.77,105.83 L722.49,104.94 L723.21,104.05 L723.93,103.19 L724.66,102.33 L725.38,101.49 L726.10,100.66 L726.82,99.85 L727.54,99.04 L728.27,98.25 L728.99,97.47 L729.71,96.71 L730.43,95.95 L731.15,95.21 L731.88,94.48 L732.60,93.76 L733.32,93.05 L734.04,92.35 L734.76,91.67 L735.48,90.99 L736.21,90.32 L736.93,89.66 L737.65,89.01 L738.37,88.38 L739.09,87.75 L739.82,87.13 L740.54,86.51 L741.26,85.91 L741.98,85.32 L742.70,84.73 L743.42,84.16 L744.15,83.59 L744.87,83.03 L745.59,82.47 L746.31,81.93 L747.03,81.39 L747.76,80.86 L748.48,80.34 L749.20,79.82 L749.92,79.31 L750.64,78.81 L751.37,78.31 L752.09,77.83 L752.81,77.34 L753.53,76.87 L754.25,76.40 L754.98,75.93 L755.70,75.48 L756.42,75.03 L757.14,74.58 L757.86,74.14 L758.58,73.71 L759.31,73.28 L760.03,72.85 L760.75,72.44 L761.47,72.02 L762.19,71.62 L762.92,71.21 L763.64,70.82 L764.36,70.42 L765.08,70.04 L765.80,69.65 L766.52,69.27 L767.25,68.90 L767.97,68.53 L768.69,68.17 L769.41,67.81 L770.13,67.45 L770.86,67.10 L771.58,66.75 L772.30,66.41 L773.02,66.07 L773.74,65.73 L774.47,65.40 L775.19,65.07 L775.91,64.75 L776.63,64.43 L777.35,64.11 L778.08,63.79 L778.80,63.48 L779.52,63.18 L780.24,62.87 L780.96,62.58 L781.68,62.28 L782.41,61.99 L783.13,61.70 L783.85,61.41 L784.57,61.12 L785.29,60.84 L786.02,60.57 L786.74,60.29 L787.46,60.02 L788.18,59.75 L788.90,59.49 L789.62,59.22 L790.35,58.96 L791.07,58.70 L791.79,58.45 L792.51,58.20 L793.23,57.95 L793.96,57.70 L794.68,57.46 L795.40,57.21 L796.12,56.97 L796.84,56.74 L797.57,56.50 L798.29,56.27 L799.01,56.04 L799.73,55.81 L800.45,55.59 L801.17,55.36 L801.90,55.14 L802.62,54.92 L803.34,54.71 L804.06,54.49 L804.78,54.28 L805.51,54.07 L806.23,53.86 L806.95,53.65 L807.67,53.45 L808.39,53.25 L809.12,53.05 L809.84,52.85 L810.56,52.65 L811.28,52.46 L812.00,52.26 L812.73,52.07 L813.45,51.88 L814.17,51.69 L814.89,51.51 L815.61,51.32 L816.33,51.14 L817.06,50.96 L817.78,50.78 L818.50,50.60" stroke="#ff0000" stroke-width="2.07" stroke-linecap="square"/>
</g>
<g stroke="#000" stroke-width="0.83">
<line x1="472.00" y1="278.0" x2="472.00" y2="281.7"/>
<line x1="529.75" y1="278.0" x2="529.75" y2="281.7"/>
<line x1="587.50" y1="278.0" x2="587.50" y2="281.7"/>
<line x1="645.25" y1="278.0" x2="645.25" y2="281.7"/>
<line x1="703.00" y1="278.0" x2="703.00" y2="281.7"/>
<line x1="760.75" y1="278.0" x2="760.75" y2="281.7"/>
<line x1="818.50" y1="278.0" x2="818.50" y2="281.7"/>
<line x1="472.0" y1="278.00" x2="468.3" y2="278.00"/>
<line x1="472.0" y1="235.76" x2="468.3" y2="235.76"/>
<line x1="472.0" y1="193.51" x2="468.3" y2="193.51"/>
<line x1="472.0" y1="151.27" x2="468.3" y2="151.27"/>
<line x1="472.0" y1="109.03" x2="468.3" y2="109.03"/>
<line x1="472.0" y1="66.78" x2="468.3" y2="66.78"/>
<line x1="472.0" y1="24.54" x2="468.3" y2="24.54"/>
</g>
<rect x="472.0" y="12.5" width="346.5" height="265.5" fill="none" stroke="#000" stroke-width="0.83"/>
<text class="tk" transform="translate(472.00,295.80) scale(1,1.01)" text-anchor="middle">−6</text>
<text class="tk" transform="translate(529.75,295.80) scale(1,1.01)" text-anchor="middle">−4</text>
<text class="tk" transform="translate(587.50,295.80) scale(1,1.01)" text-anchor="middle">−2</text>
<text class="tk" transform="translate(645.25,295.80) scale(1,1.01)" text-anchor="middle">0</text>
<text class="tk" transform="translate(703.00,295.80) scale(1,1.01)" text-anchor="middle">2</text>
<text class="tk" transform="translate(760.75,295.80) scale(1,1.01)" text-anchor="middle">4</text>
<text class="tk" transform="translate(818.50,295.80) scale(1,1.01)" text-anchor="middle">6</text>
<text class="tk" transform="translate(465.00,283.10) scale(1,1.01)" text-anchor="end">−6</text>
<text class="tk" transform="translate(465.00,240.86) scale(1,1.01)" text-anchor="end">−5</text>
<text class="tk" transform="translate(465.00,198.61) scale(1,1.01)" text-anchor="end">−4</text>
<text class="tk" transform="translate(465.00,156.37) scale(1,1.01)" text-anchor="end">−3</text>
<text class="tk" transform="translate(465.00,114.13) scale(1,1.01)" text-anchor="end">−2</text>
<text class="tk" transform="translate(465.00,71.88) scale(1,1.01)" text-anchor="end">−1</text>
<text class="tk" transform="translate(465.00,29.64) scale(1,1.01)" text-anchor="end">0</text>
<text class="lb" x="645.25" y="315.3" text-anchor="middle"><tspan class="it">w</tspan>/Γ</text>
<text class="lb" transform="translate(435.5,145.25) rotate(-90)" text-anchor="middle" letter-spacing="0.3">ℑΣ(<tspan class="it">w</tspan>)/Γ</text>
<text class="pn" x="489.50" y="39.2">(b)</text>
<rect x="479.40" y="158.3" width="111.4" height="111.7" rx="2.1" fill="#fff" fill-opacity="0.8" stroke="#ccc" stroke-width="1.04"/>
<line x1="484.70" y1="170.60" x2="514.70" y2="170.60" stroke="#000" stroke-width="1.25" stroke-dasharray="3.9 1.7"/>
<text class="lg" transform="translate(0,174.70) scale(1,1.01)"><tspan class="it" x="526.00">T</tspan><tspan x="537.60">=</tspan><tspan x="552.50">0</tspan></text>
<line x1="484.90" y1="192.20" x2="514.40" y2="192.20" stroke="#0000ff" stroke-width="2.07" stroke-linecap="square"/>
<text class="lg" transform="translate(0,196.45) scale(1,1.01)"><tspan class="it" x="526.00">T</tspan><tspan x="537.60">=</tspan><tspan x="552.50">0.1Γ</tspan></text>
<line x1="484.90" y1="213.80" x2="514.40" y2="213.80" stroke="#006400" stroke-width="2.07" stroke-linecap="square"/>
<text class="lg" transform="translate(0,218.20) scale(1,1.01)"><tspan class="it" x="526.00">T</tspan><tspan x="537.60">=</tspan><tspan x="552.50">0.3Γ</tspan></text>
<line x1="484.90" y1="235.40" x2="514.40" y2="235.40" stroke="#ff8c00" stroke-width="2.07" stroke-linecap="square"/>
<text class="lg" transform="translate(0,239.95) scale(1,1.01)"><tspan class="it" x="526.00">T</tspan><tspan x="537.60">=</tspan><tspan x="552.50">0.5Γ</tspan></text>
<line x1="484.90" y1="257.00" x2="514.40" y2="257.00" stroke="#ff0000" stroke-width="2.07" stroke-linecap="square"/>
<text class="lg" transform="translate(0,261.70) scale(1,1.01)"><tspan class="it" x="526.00">T</tspan><tspan x="537.60">=</tspan><tspan x="552.50">Γ</tspan></text>
</svg></body></html>
